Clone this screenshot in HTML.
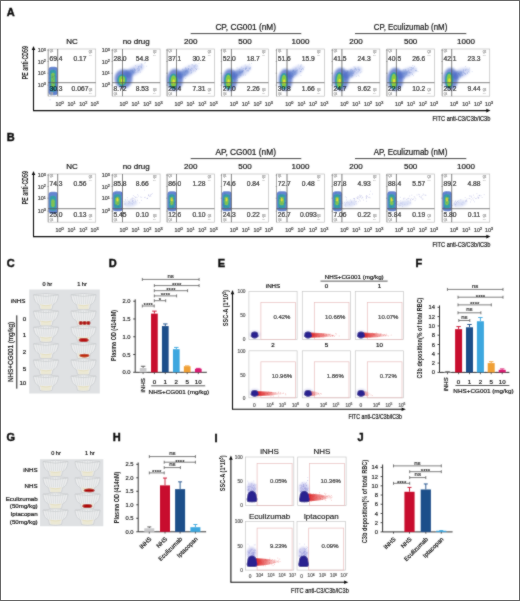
<!DOCTYPE html>
<html><head><meta charset="utf-8"><title>Figure</title>
<style>
html,body{margin:0;padding:0;background:#fff;}
body{width:520px;height:601px;overflow:hidden;font-family:"Liberation Sans", sans-serif;}
svg{display:block;}
</style></head><body>
<svg width="520" height="601" viewBox="0 0 520 601" font-family='"Liberation Sans", sans-serif'><defs>
<radialGradient id="gB" cx="50%" cy="50%" r="50%">
 <stop offset="0" stop-color="#2a5fc0" stop-opacity="0.95"/>
 <stop offset="0.6" stop-color="#4a78d0" stop-opacity="0.7"/>
 <stop offset="1" stop-color="#9ab0e8" stop-opacity="0"/>
</radialGradient>
<radialGradient id="gG" cx="50%" cy="50%" r="50%">
 <stop offset="0" stop-color="#e0e020" stop-opacity="1"/>
 <stop offset="0.35" stop-color="#70c840" stop-opacity="0.95"/>
 <stop offset="0.75" stop-color="#2aa0a0" stop-opacity="0.7"/>
 <stop offset="1" stop-color="#2a80c0" stop-opacity="0"/>
</radialGradient>
<radialGradient id="gL" cx="50%" cy="50%" r="50%">
 <stop offset="0" stop-color="#8098e0" stop-opacity="0.55"/>
 <stop offset="1" stop-color="#b0c0f0" stop-opacity="0"/>
</radialGradient>
<radialGradient id="gN" cx="50%" cy="50%" r="50%">
 <stop offset="0" stop-color="#1a1a80" stop-opacity="1"/>
 <stop offset="0.7" stop-color="#23238f" stop-opacity="0.95"/>
 <stop offset="1" stop-color="#3a3aa0" stop-opacity="0"/>
</radialGradient>
<radialGradient id="gR" cx="50%" cy="50%" r="50%">
 <stop offset="0" stop-color="#e02020" stop-opacity="0.9"/>
 <stop offset="0.6" stop-color="#e84040" stop-opacity="0.6"/>
 <stop offset="1" stop-color="#f08080" stop-opacity="0"/>
</radialGradient>
<radialGradient id="gPel" cx="50%" cy="50%" r="50%">
 <stop offset="0" stop-color="#b01010"/>
 <stop offset="0.8" stop-color="#c02010"/>
 <stop offset="1" stop-color="#d04020" stop-opacity="0.3"/>
</radialGradient>
<filter id="b1" x="-50%" y="-50%" width="200%" height="200%"><feGaussianBlur stdDeviation="1.1"/></filter>
<filter id="b2" x="-50%" y="-50%" width="200%" height="200%"><feGaussianBlur stdDeviation="0.6"/></filter>
<filter id="b3" x="-50%" y="-50%" width="200%" height="200%"><feGaussianBlur stdDeviation="1.8"/></filter>
<clipPath id="cpdummy"><rect x="0" y="0" width="1" height="1"/></clipPath>
<linearGradient id="gRt" x1="0" y1="0" x2="1" y2="0">
 <stop offset="0" stop-color="#d81818" stop-opacity="0.95"/>
 <stop offset="0.45" stop-color="#e43a3a" stop-opacity="0.6"/>
 <stop offset="1" stop-color="#f09090" stop-opacity="0"/>
</linearGradient>
<filter id="gblur" x="0" y="0" width="520" height="601" filterUnits="userSpaceOnUse"><feConvolveMatrix order="3" kernelMatrix="1 2 1 2 20 2 1 2 1" edgeMode="duplicate"/></filter></defs><rect x="0" y="0" width="520" height="601" fill="#fff"/><g filter="url(#gblur)"><text x="6.80" y="16.20" font-size="11" font-weight="bold" fill="#111" stroke="#111" stroke-width="0.45">A</text>
<line x1="33.50" y1="48.90" x2="33.50" y2="110.60" stroke="#111" stroke-width="1.1"/>
<path d="M31.70,50.10 L33.50,45.90 L35.30,50.10 Z" fill="#111"/>
<line x1="33.00" y1="110.60" x2="487.50" y2="110.60" stroke="#111" stroke-width="1.1"/>
<path d="M486.30,108.80 L490.50,110.60 L486.30,112.40 Z" fill="#111"/>
<text transform="translate(25.35,62.60) rotate(-90)" x="0" y="2.95" font-size="8.2" fill="#222" text-anchor="middle" font-weight="bold" textLength="33.2" lengthAdjust="spacingAndGlyphs">PE anti-CD59</text>
<text x="461.40" y="120.72" font-size="7.0" fill="#222" text-anchor="middle" font-weight="normal" textLength="58.0" lengthAdjust="spacingAndGlyphs" stroke="#222" stroke-width="0.22">FITC anti-C3/C3b/iC3b</text>
<line x1="190.70" y1="33.60" x2="301.30" y2="33.60" stroke="#333" stroke-width="0.9"/>
<line x1="355.00" y1="33.60" x2="466.30" y2="33.60" stroke="#333" stroke-width="0.9"/>
<text x="245.70" y="29.55" font-size="8.2" fill="#222" text-anchor="middle" font-weight="normal" textLength="60.6" lengthAdjust="spacingAndGlyphs" stroke="#222" stroke-width="0.22">CP, CG001 (nM)</text>
<text x="410.50" y="29.55" font-size="8.2" fill="#222" text-anchor="middle" font-weight="normal" textLength="73.6" lengthAdjust="spacingAndGlyphs" stroke="#222" stroke-width="0.22">CP, Eculizumab (nM)</text>
<text x="71.95" y="44.08" font-size="8.0" fill="#222" text-anchor="middle" font-weight="normal"  stroke="#222" stroke-width="0.22">NC</text>
<rect x="48.20" y="49.00" width="47.50" height="47.20" fill="#fff" stroke="#bdbdbd" stroke-width="0.7" />
<line x1="48.20" y1="49.00" x2="48.20" y2="96.20" stroke="#999" stroke-width="0.8"/>
<line x1="47.40" y1="50.20" x2="48.80" y2="50.20" stroke="#777" stroke-width="0.6"/>
<line x1="47.40" y1="61.50" x2="48.80" y2="61.50" stroke="#777" stroke-width="0.6"/>
<line x1="47.40" y1="73.20" x2="48.80" y2="73.20" stroke="#777" stroke-width="0.6"/>
<line x1="47.40" y1="85.20" x2="48.80" y2="85.20" stroke="#777" stroke-width="0.6"/>
<rect x="48.60" y="66.70" width="9.10" height="28.50" rx="3" fill="#4a70c8" opacity="0.85" filter="url(#b2)"/>
<rect x="49.80" y="69.70" width="6.30" height="22.00" rx="2.5" fill="#2ea4a0" opacity="0.85" filter="url(#b2)"/>
<rect x="51.20" y="72.70" width="3.50" height="14.00" rx="1.5" fill="#80c848" opacity="0.9" filter="url(#b2)"/>
<path d="M51.8,86.6h0 M49.8,88.9h0 M53.5,79.1h0 M53.3,82.5h0 M49.5,78.3h0 M49.9,81.8h0 M52.6,82.4h0 M51.0,77.5h0 M54.2,89.4h0 M52.4,77.7h0 M57.0,94.0h0 M51.5,84.7h0 M50.4,85.1h0 M55.7,84.8h0 M50.6,72.0h0 M52.2,75.8h0 M53.6,83.0h0 M50.8,81.6h0 M54.6,75.2h0 M53.9,83.4h0 M52.8,76.9h0 M54.8,92.5h0 M51.2,73.1h0 M56.2,76.8h0 M55.0,76.1h0 M50.1,99.7h0 M52.5,80.9h0 M53.1,76.7h0 M49.5,74.8h0 M53.8,70.3h0" stroke="#3050b0" stroke-opacity="0.35" stroke-width="0.90" stroke-linecap="round" fill="none"/>
<line x1="57.70" y1="49.00" x2="57.70" y2="96.20" stroke="#555" stroke-width="0.8"/>
<line x1="48.20" y1="82.70" x2="95.70" y2="82.70" stroke="#555" stroke-width="0.8"/>
<text transform="translate(49.40,61.43) scale(0.92,1)" x="0" y="0" font-size="7.3" fill="#111" text-anchor="start" stroke="#111" stroke-width="0.22">69.4</text>
<text transform="translate(80.00,61.43) scale(0.92,1)" x="0" y="0" font-size="7.3" fill="#111" text-anchor="middle" stroke="#111" stroke-width="0.22">0.17</text>
<text transform="translate(49.40,91.33) scale(0.92,1)" x="0" y="0" font-size="7.3" fill="#111" text-anchor="start" stroke="#111" stroke-width="0.22">30.3</text>
<text transform="translate(80.00,91.33) scale(0.92,1)" x="0" y="0" font-size="7.3" fill="#111" text-anchor="middle" stroke="#111" stroke-width="0.22">0.067</text>
<text x="88.80" y="53.00" font-size="2.6" fill="#999" text-anchor="start" font-weight="normal"  stroke="#999" stroke-width="0.22">Q2</text>
<text x="88.80" y="56.00" font-size="2.6" fill="#aaa" text-anchor="start" font-weight="normal"  stroke="#aaa" stroke-width="0.22">....</text>
<text x="88.80" y="91.00" font-size="2.6" fill="#999" text-anchor="start" font-weight="normal"  stroke="#999" stroke-width="0.22">Q3</text>
<text x="88.80" y="94.00" font-size="2.6" fill="#aaa" text-anchor="start" font-weight="normal"  stroke="#aaa" stroke-width="0.22">....</text>
<text x="49.70" y="52.00" font-size="2.6" fill="#999" text-anchor="start" font-weight="normal"  stroke="#999" stroke-width="0.22">Q1</text>
<text x="49.70" y="94.50" font-size="2.6" fill="#aaa" text-anchor="start" font-weight="normal"  stroke="#aaa" stroke-width="0.22">Q4</text>
<text x="55.50" y="106.14" font-size="5.4" fill="#444" text-anchor="start" stroke="#444" stroke-width="0.22">10<tspan dy="-1.8" font-size="3.78">0</tspan></text>
<text x="67.60" y="106.14" font-size="5.4" fill="#444" text-anchor="start" stroke="#444" stroke-width="0.22">10<tspan dy="-1.8" font-size="3.78">1</tspan></text>
<text x="79.30" y="106.14" font-size="5.4" fill="#444" text-anchor="start" stroke="#444" stroke-width="0.22">10<tspan dy="-1.8" font-size="3.78">2</tspan></text>
<text x="90.50" y="106.14" font-size="5.4" fill="#444" text-anchor="start" stroke="#444" stroke-width="0.22">10<tspan dy="-1.8" font-size="3.78">3</tspan></text>
<text x="45.80" y="87.24" font-size="5.4" fill="#444" text-anchor="end" stroke="#444" stroke-width="0.22">10<tspan dy="-1.8" font-size="3.78">0</tspan></text>
<text x="45.80" y="75.34" font-size="5.4" fill="#444" text-anchor="end" stroke="#444" stroke-width="0.22">10<tspan dy="-1.8" font-size="3.78">1</tspan></text>
<text x="45.80" y="63.54" font-size="5.4" fill="#444" text-anchor="end" stroke="#444" stroke-width="0.22">10<tspan dy="-1.8" font-size="3.78">2</tspan></text>
<text x="45.80" y="52.34" font-size="5.4" fill="#444" text-anchor="end" stroke="#444" stroke-width="0.22">10<tspan dy="-1.8" font-size="3.78">3</tspan></text>
<text x="136.20" y="44.08" font-size="8.0" fill="#222" text-anchor="middle" font-weight="normal"  stroke="#222" stroke-width="0.22">no drug</text>
<rect x="112.30" y="49.00" width="47.80" height="47.20" fill="#fff" stroke="#bdbdbd" stroke-width="0.7" />
<line x1="112.30" y1="49.00" x2="112.30" y2="96.20" stroke="#999" stroke-width="0.8"/>
<line x1="111.50" y1="50.20" x2="112.90" y2="50.20" stroke="#777" stroke-width="0.6"/>
<line x1="111.50" y1="61.50" x2="112.90" y2="61.50" stroke="#777" stroke-width="0.6"/>
<line x1="111.50" y1="73.20" x2="112.90" y2="73.20" stroke="#777" stroke-width="0.6"/>
<line x1="111.50" y1="85.20" x2="112.90" y2="85.20" stroke="#777" stroke-width="0.6"/>
<ellipse cx="132.50" cy="71.70" rx="13.00" ry="4.50" fill="#c4cdf2" opacity="0.8" filter="url(#b1)" transform="rotate(-28.61045966596522 132.50 71.70)"/>
<path d="M138.8,71.0h0 M130.8,70.3h0 M141.2,67.2h0 M137.3,72.0h0 M137.7,70.7h0 M123.6,77.7h0 M120.5,78.0h0 M126.0,78.4h0 M123.1,79.2h0 M141.8,68.9h0 M134.4,69.2h0 M139.3,70.2h0 M131.1,70.5h0 M124.0,78.2h0 M122.2,76.2h0 M127.5,75.7h0 M123.0,72.0h0 M132.3,70.0h0 M138.8,72.2h0 M139.9,66.0h0 M127.3,74.8h0 M134.4,71.4h0 M125.3,78.0h0 M123.1,77.4h0 M122.3,77.5h0 M139.1,66.7h0 M124.1,77.6h0 M126.6,70.8h0 M128.8,73.4h0 M121.8,78.7h0 M139.0,68.7h0 M141.0,66.2h0 M133.9,72.8h0 M144.9,63.2h0 M124.5,76.7h0 M133.8,68.3h0 M127.3,79.2h0 M145.2,62.5h0 M138.4,66.7h0 M130.5,73.1h0 M121.4,79.4h0 M137.2,69.6h0 M146.7,66.2h0 M127.7,76.2h0 M124.9,79.5h0 M141.9,64.9h0 M134.4,69.8h0 M137.3,68.4h0 M135.4,69.6h0 M135.9,72.6h0 M141.1,67.6h0 M141.8,65.1h0 M125.5,81.1h0 M140.4,72.2h0 M141.9,64.1h0 M131.8,72.5h0 M141.2,63.8h0 M137.9,68.7h0 M139.0,70.1h0 M126.1,78.5h0 M124.4,76.2h0 M139.6,69.2h0 M134.1,70.3h0 M138.7,66.9h0 M133.1,72.8h0 M127.5,76.5h0 M120.6,77.1h0 M130.7,74.7h0 M131.9,71.0h0 M131.9,74.0h0 M134.7,69.0h0 M138.7,67.9h0 M130.7,71.3h0 M132.8,71.1h0 M132.8,71.8h0 M141.5,66.9h0 M135.4,70.5h0 M124.7,78.6h0 M122.3,78.2h0 M135.5,65.6h0 M122.8,73.2h0 M127.1,72.5h0 M126.5,75.3h0 M133.9,72.7h0 M121.4,77.8h0 M127.5,76.7h0 M138.4,70.2h0 M130.9,73.8h0 M132.7,71.1h0 M144.3,59.7h0" stroke="#5070c8" stroke-opacity="0.28" stroke-width="0.9" stroke-linecap="round" fill="none"/>
<ellipse cx="128.10" cy="74.10" rx="8.16" ry="3.40" fill="#5a7ccc" opacity="0.7" filter="url(#b1)" transform="rotate(-28.61045966596522 128.10 74.10)"/>
<ellipse cx="123.50" cy="78.70" rx="9.00" ry="9.50" fill="#4868c4" opacity="0.75" filter="url(#b1)"/>
<ellipse cx="122.00" cy="80.20" rx="4.80" ry="6.00" fill="#2ea0a0" opacity="0.9" filter="url(#b2)"/>
<ellipse cx="122.00" cy="80.20" rx="3.00" ry="4.20" fill="#86cc40" opacity="1.0" filter="url(#b2)"/>
<ellipse cx="122.20" cy="80.50" rx="1.20" ry="1.68" fill="#e0e030" opacity="1.0" filter="url(#b2)"/>
<line x1="122.50" y1="49.00" x2="122.50" y2="96.20" stroke="#555" stroke-width="0.8"/>
<line x1="112.30" y1="82.70" x2="160.10" y2="82.70" stroke="#555" stroke-width="0.8"/>
<text transform="translate(113.50,61.43) scale(0.92,1)" x="0" y="0" font-size="7.3" fill="#111" text-anchor="start" stroke="#111" stroke-width="0.22">28.0</text>
<text transform="translate(142.30,61.43) scale(0.92,1)" x="0" y="0" font-size="7.3" fill="#111" text-anchor="middle" stroke="#111" stroke-width="0.22">54.8</text>
<text transform="translate(113.50,91.33) scale(0.92,1)" x="0" y="0" font-size="7.3" fill="#111" text-anchor="start" stroke="#111" stroke-width="0.22">8.72</text>
<text transform="translate(142.30,91.33) scale(0.92,1)" x="0" y="0" font-size="7.3" fill="#111" text-anchor="middle" stroke="#111" stroke-width="0.22">8.53</text>
<text x="152.90" y="53.00" font-size="2.6" fill="#999" text-anchor="start" font-weight="normal"  stroke="#999" stroke-width="0.22">Q2</text>
<text x="152.90" y="56.00" font-size="2.6" fill="#aaa" text-anchor="start" font-weight="normal"  stroke="#aaa" stroke-width="0.22">....</text>
<text x="152.90" y="91.00" font-size="2.6" fill="#999" text-anchor="start" font-weight="normal"  stroke="#999" stroke-width="0.22">Q3</text>
<text x="152.90" y="94.00" font-size="2.6" fill="#aaa" text-anchor="start" font-weight="normal"  stroke="#aaa" stroke-width="0.22">....</text>
<text x="113.80" y="52.00" font-size="2.6" fill="#999" text-anchor="start" font-weight="normal"  stroke="#999" stroke-width="0.22">Q1</text>
<text x="113.80" y="94.50" font-size="2.6" fill="#aaa" text-anchor="start" font-weight="normal"  stroke="#aaa" stroke-width="0.22">Q4</text>
<text x="119.50" y="106.14" font-size="5.4" fill="#444" text-anchor="start" stroke="#444" stroke-width="0.22">10<tspan dy="-1.8" font-size="3.78">0</tspan></text>
<text x="131.60" y="106.14" font-size="5.4" fill="#444" text-anchor="start" stroke="#444" stroke-width="0.22">10<tspan dy="-1.8" font-size="3.78">1</tspan></text>
<text x="143.30" y="106.14" font-size="5.4" fill="#444" text-anchor="start" stroke="#444" stroke-width="0.22">10<tspan dy="-1.8" font-size="3.78">2</tspan></text>
<text x="154.50" y="106.14" font-size="5.4" fill="#444" text-anchor="start" stroke="#444" stroke-width="0.22">10<tspan dy="-1.8" font-size="3.78">3</tspan></text>
<text x="109.90" y="87.24" font-size="5.4" fill="#444" text-anchor="end" stroke="#444" stroke-width="0.22">10<tspan dy="-1.8" font-size="3.78">0</tspan></text>
<text x="109.90" y="75.34" font-size="5.4" fill="#444" text-anchor="end" stroke="#444" stroke-width="0.22">10<tspan dy="-1.8" font-size="3.78">1</tspan></text>
<text x="109.90" y="63.54" font-size="5.4" fill="#444" text-anchor="end" stroke="#444" stroke-width="0.22">10<tspan dy="-1.8" font-size="3.78">2</tspan></text>
<text x="109.90" y="52.34" font-size="5.4" fill="#444" text-anchor="end" stroke="#444" stroke-width="0.22">10<tspan dy="-1.8" font-size="3.78">3</tspan></text>
<text x="190.75" y="44.08" font-size="8.0" fill="#222" text-anchor="middle" font-weight="normal"  stroke="#222" stroke-width="0.22">200</text>
<rect x="167.10" y="49.00" width="47.30" height="47.20" fill="#fff" stroke="#bdbdbd" stroke-width="0.7" />
<line x1="167.10" y1="49.00" x2="167.10" y2="96.20" stroke="#999" stroke-width="0.8"/>
<line x1="166.30" y1="50.20" x2="167.70" y2="50.20" stroke="#777" stroke-width="0.6"/>
<line x1="166.30" y1="61.50" x2="167.70" y2="61.50" stroke="#777" stroke-width="0.6"/>
<line x1="166.30" y1="73.20" x2="167.70" y2="73.20" stroke="#777" stroke-width="0.6"/>
<line x1="166.30" y1="85.20" x2="167.70" y2="85.20" stroke="#777" stroke-width="0.6"/>
<ellipse cx="186.50" cy="71.70" rx="13.00" ry="4.50" fill="#c4cdf2" opacity="0.8" filter="url(#b1)" transform="rotate(-28.61045966596522 186.50 71.70)"/>
<path d="M176.6,77.7h0 M191.3,70.3h0 M185.8,71.4h0 M181.9,80.0h0 M185.8,70.9h0 M175.2,75.1h0 M178.9,76.0h0 M195.4,71.1h0 M177.6,75.3h0 M176.6,73.0h0 M181.2,77.7h0 M179.8,76.7h0 M176.5,79.4h0 M180.3,73.2h0 M185.2,74.8h0 M175.6,78.1h0 M189.0,69.2h0 M184.7,72.7h0 M190.3,69.6h0 M191.0,70.0h0 M190.8,70.1h0 M192.1,65.0h0 M181.9,74.7h0 M180.0,78.6h0 M179.7,76.5h0 M195.1,65.5h0 M179.8,77.4h0 M184.7,75.5h0 M184.6,74.1h0 M185.7,78.5h0 M180.2,75.2h0 M179.5,74.7h0 M178.0,76.2h0 M181.1,76.9h0 M177.5,77.8h0 M176.7,74.4h0 M188.9,66.3h0 M192.7,68.9h0 M199.0,69.0h0 M191.6,72.2h0 M192.2,64.6h0 M193.8,70.8h0 M186.4,69.0h0 M189.0,65.8h0 M188.4,68.8h0 M177.0,79.3h0 M178.0,74.4h0 M185.4,68.6h0 M187.8,73.1h0 M188.1,69.4h0 M191.3,72.3h0 M180.6,76.5h0 M191.0,73.5h0 M194.8,66.2h0 M182.6,69.3h0 M186.7,70.5h0 M177.2,80.7h0 M179.9,75.0h0 M175.7,80.9h0 M188.4,68.5h0 M182.6,73.2h0 M177.9,76.0h0 M197.2,65.9h0 M185.7,67.6h0 M183.1,75.1h0 M196.6,69.6h0 M172.4,75.9h0 M178.1,74.2h0 M193.9,65.8h0 M194.2,67.3h0 M173.3,77.8h0 M181.3,76.9h0 M180.5,74.9h0 M191.2,68.4h0 M194.4,61.8h0 M178.5,77.0h0 M195.9,64.5h0 M182.7,74.5h0 M177.5,75.4h0 M195.7,68.6h0 M185.4,74.8h0 M199.0,63.5h0 M191.7,68.2h0 M185.5,71.4h0 M187.0,70.9h0 M187.8,71.7h0 M197.0,68.8h0 M180.0,78.5h0 M196.6,69.6h0 M178.2,74.3h0" stroke="#5070c8" stroke-opacity="0.28" stroke-width="0.9" stroke-linecap="round" fill="none"/>
<ellipse cx="182.10" cy="74.10" rx="8.16" ry="3.40" fill="#5a7ccc" opacity="0.7" filter="url(#b1)" transform="rotate(-28.61045966596522 182.10 74.10)"/>
<ellipse cx="175.00" cy="79.70" rx="8.00" ry="11.00" fill="#4868c4" opacity="0.75" filter="url(#b1)"/>
<ellipse cx="173.50" cy="81.20" rx="4.60" ry="7.80" fill="#2ea0a0" opacity="0.9" filter="url(#b2)"/>
<ellipse cx="173.50" cy="81.20" rx="2.80" ry="6.00" fill="#86cc40" opacity="1.0" filter="url(#b2)"/>
<ellipse cx="173.70" cy="81.50" rx="1.20" ry="2.20" fill="#e0e030" opacity="1.0" filter="url(#b2)"/>
<line x1="176.50" y1="49.00" x2="176.50" y2="96.20" stroke="#555" stroke-width="0.8"/>
<line x1="167.10" y1="82.70" x2="214.40" y2="82.70" stroke="#555" stroke-width="0.8"/>
<text transform="translate(168.30,61.43) scale(0.92,1)" x="0" y="0" font-size="7.3" fill="#111" text-anchor="start" stroke="#111" stroke-width="0.22">37.1</text>
<text transform="translate(198.90,61.43) scale(0.92,1)" x="0" y="0" font-size="7.3" fill="#111" text-anchor="middle" stroke="#111" stroke-width="0.22">30.2</text>
<text transform="translate(168.30,91.33) scale(0.92,1)" x="0" y="0" font-size="7.3" fill="#111" text-anchor="start" stroke="#111" stroke-width="0.22">25.4</text>
<text transform="translate(198.90,91.33) scale(0.92,1)" x="0" y="0" font-size="7.3" fill="#111" text-anchor="middle" stroke="#111" stroke-width="0.22">7.31</text>
<text x="207.70" y="53.00" font-size="2.6" fill="#999" text-anchor="start" font-weight="normal"  stroke="#999" stroke-width="0.22">Q2</text>
<text x="207.70" y="56.00" font-size="2.6" fill="#aaa" text-anchor="start" font-weight="normal"  stroke="#aaa" stroke-width="0.22">....</text>
<text x="207.70" y="91.00" font-size="2.6" fill="#999" text-anchor="start" font-weight="normal"  stroke="#999" stroke-width="0.22">Q3</text>
<text x="207.70" y="94.00" font-size="2.6" fill="#aaa" text-anchor="start" font-weight="normal"  stroke="#aaa" stroke-width="0.22">....</text>
<text x="168.60" y="52.00" font-size="2.6" fill="#999" text-anchor="start" font-weight="normal"  stroke="#999" stroke-width="0.22">Q1</text>
<text x="168.60" y="94.50" font-size="2.6" fill="#aaa" text-anchor="start" font-weight="normal"  stroke="#aaa" stroke-width="0.22">Q4</text>
<text x="174.40" y="106.14" font-size="5.4" fill="#444" text-anchor="start" stroke="#444" stroke-width="0.22">10<tspan dy="-1.8" font-size="3.78">0</tspan></text>
<text x="186.50" y="106.14" font-size="5.4" fill="#444" text-anchor="start" stroke="#444" stroke-width="0.22">10<tspan dy="-1.8" font-size="3.78">1</tspan></text>
<text x="198.20" y="106.14" font-size="5.4" fill="#444" text-anchor="start" stroke="#444" stroke-width="0.22">10<tspan dy="-1.8" font-size="3.78">2</tspan></text>
<text x="209.40" y="106.14" font-size="5.4" fill="#444" text-anchor="start" stroke="#444" stroke-width="0.22">10<tspan dy="-1.8" font-size="3.78">3</tspan></text>
<text x="244.95" y="44.08" font-size="8.0" fill="#222" text-anchor="middle" font-weight="normal"  stroke="#222" stroke-width="0.22">500</text>
<rect x="221.50" y="49.00" width="46.90" height="47.20" fill="#fff" stroke="#bdbdbd" stroke-width="0.7" />
<line x1="221.50" y1="49.00" x2="221.50" y2="96.20" stroke="#999" stroke-width="0.8"/>
<line x1="220.70" y1="50.20" x2="222.10" y2="50.20" stroke="#777" stroke-width="0.6"/>
<line x1="220.70" y1="61.50" x2="222.10" y2="61.50" stroke="#777" stroke-width="0.6"/>
<line x1="220.70" y1="73.20" x2="222.10" y2="73.20" stroke="#777" stroke-width="0.6"/>
<line x1="220.70" y1="85.20" x2="222.10" y2="85.20" stroke="#777" stroke-width="0.6"/>
<ellipse cx="240.40" cy="72.20" rx="12.00" ry="4.50" fill="#c4cdf2" opacity="0.8" filter="url(#b1)" transform="rotate(-28.810793742973058 240.40 72.20)"/>
<path d="M233.1,78.0h0 M246.6,68.1h0 M250.2,68.0h0 M232.3,77.8h0 M236.6,75.9h0 M230.1,73.7h0 M242.4,71.4h0 M237.7,74.5h0 M230.0,83.6h0 M228.9,76.9h0 M247.2,70.5h0 M231.9,77.4h0 M251.6,63.4h0 M233.6,78.4h0 M245.1,68.7h0 M226.8,81.2h0 M249.3,64.1h0 M234.6,76.8h0 M237.0,67.8h0 M241.4,67.2h0 M237.1,73.5h0 M245.4,75.1h0 M241.4,72.7h0 M231.7,73.1h0 M233.8,78.3h0 M239.2,73.4h0 M242.4,72.2h0 M240.5,72.8h0 M246.0,68.6h0 M236.7,75.0h0 M237.0,75.7h0 M241.0,72.0h0 M243.5,70.4h0 M229.5,79.7h0 M243.7,75.1h0 M242.5,70.2h0 M248.2,71.2h0 M234.0,80.1h0 M236.7,74.6h0 M233.0,78.9h0 M243.2,70.8h0 M237.6,80.7h0 M232.6,77.1h0 M239.7,71.5h0 M248.4,70.3h0 M237.0,80.3h0 M247.0,70.9h0 M234.8,76.1h0 M234.0,76.6h0 M236.5,74.5h0 M250.0,69.4h0 M246.8,66.9h0 M228.9,77.9h0 M249.0,70.0h0 M249.8,68.6h0 M245.7,68.6h0 M234.8,79.6h0 M233.7,70.7h0 M234.6,81.0h0 M240.8,75.6h0 M234.9,75.4h0 M246.7,68.4h0 M250.4,67.8h0 M242.8,71.9h0 M236.2,77.0h0 M239.5,72.6h0 M245.2,65.0h0 M243.3,68.5h0 M232.7,78.4h0 M232.2,81.1h0 M234.1,76.2h0 M237.1,78.6h0 M249.0,68.2h0 M233.1,78.9h0 M241.8,71.2h0 M234.6,71.7h0 M245.8,67.3h0 M232.6,75.3h0 M237.7,75.3h0 M232.9,78.2h0 M234.1,74.6h0 M230.1,79.7h0 M239.1,77.5h0 M242.8,71.3h0 M239.6,69.4h0 M249.8,68.4h0 M233.7,83.0h0 M242.1,71.3h0 M245.5,69.2h0 M245.7,69.4h0" stroke="#5070c8" stroke-opacity="0.28" stroke-width="0.9" stroke-linecap="round" fill="none"/>
<ellipse cx="236.40" cy="74.40" rx="7.60" ry="3.40" fill="#5a7ccc" opacity="0.7" filter="url(#b1)" transform="rotate(-28.810793742973058 236.40 74.40)"/>
<ellipse cx="229.90" cy="79.70" rx="7.50" ry="11.00" fill="#4868c4" opacity="0.75" filter="url(#b1)"/>
<ellipse cx="228.40" cy="81.20" rx="4.40" ry="8.30" fill="#2ea0a0" opacity="0.9" filter="url(#b2)"/>
<ellipse cx="228.40" cy="81.20" rx="2.60" ry="6.50" fill="#86cc40" opacity="1.0" filter="url(#b2)"/>
<ellipse cx="228.60" cy="81.50" rx="1.20" ry="2.20" fill="#e0e030" opacity="1.0" filter="url(#b2)"/>
<line x1="231.40" y1="49.00" x2="231.40" y2="96.20" stroke="#555" stroke-width="0.8"/>
<line x1="221.50" y1="82.70" x2="268.40" y2="82.70" stroke="#555" stroke-width="0.8"/>
<text transform="translate(222.70,61.43) scale(0.92,1)" x="0" y="0" font-size="7.3" fill="#111" text-anchor="start" stroke="#111" stroke-width="0.22">52.0</text>
<text transform="translate(253.30,61.43) scale(0.92,1)" x="0" y="0" font-size="7.3" fill="#111" text-anchor="middle" stroke="#111" stroke-width="0.22">18.7</text>
<text transform="translate(222.70,91.33) scale(0.92,1)" x="0" y="0" font-size="7.3" fill="#111" text-anchor="start" stroke="#111" stroke-width="0.22">27.0</text>
<text transform="translate(253.30,91.33) scale(0.92,1)" x="0" y="0" font-size="7.3" fill="#111" text-anchor="middle" stroke="#111" stroke-width="0.22">2.26</text>
<text x="262.10" y="53.00" font-size="2.6" fill="#999" text-anchor="start" font-weight="normal"  stroke="#999" stroke-width="0.22">Q2</text>
<text x="262.10" y="56.00" font-size="2.6" fill="#aaa" text-anchor="start" font-weight="normal"  stroke="#aaa" stroke-width="0.22">....</text>
<text x="262.10" y="91.00" font-size="2.6" fill="#999" text-anchor="start" font-weight="normal"  stroke="#999" stroke-width="0.22">Q3</text>
<text x="262.10" y="94.00" font-size="2.6" fill="#aaa" text-anchor="start" font-weight="normal"  stroke="#aaa" stroke-width="0.22">....</text>
<text x="223.00" y="52.00" font-size="2.6" fill="#999" text-anchor="start" font-weight="normal"  stroke="#999" stroke-width="0.22">Q1</text>
<text x="223.00" y="94.50" font-size="2.6" fill="#aaa" text-anchor="start" font-weight="normal"  stroke="#aaa" stroke-width="0.22">Q4</text>
<text x="229.70" y="106.14" font-size="5.4" fill="#444" text-anchor="start" stroke="#444" stroke-width="0.22">10<tspan dy="-1.8" font-size="3.78">0</tspan></text>
<text x="241.80" y="106.14" font-size="5.4" fill="#444" text-anchor="start" stroke="#444" stroke-width="0.22">10<tspan dy="-1.8" font-size="3.78">1</tspan></text>
<text x="253.50" y="106.14" font-size="5.4" fill="#444" text-anchor="start" stroke="#444" stroke-width="0.22">10<tspan dy="-1.8" font-size="3.78">2</tspan></text>
<text x="264.70" y="106.14" font-size="5.4" fill="#444" text-anchor="start" stroke="#444" stroke-width="0.22">10<tspan dy="-1.8" font-size="3.78">3</tspan></text>
<text x="300.45" y="44.08" font-size="8.0" fill="#222" text-anchor="middle" font-weight="normal"  stroke="#222" stroke-width="0.22">1000</text>
<rect x="276.50" y="49.00" width="47.90" height="47.20" fill="#fff" stroke="#bdbdbd" stroke-width="0.7" />
<line x1="276.50" y1="49.00" x2="276.50" y2="96.20" stroke="#999" stroke-width="0.8"/>
<line x1="275.70" y1="50.20" x2="277.10" y2="50.20" stroke="#777" stroke-width="0.6"/>
<line x1="275.70" y1="61.50" x2="277.10" y2="61.50" stroke="#777" stroke-width="0.6"/>
<line x1="275.70" y1="73.20" x2="277.10" y2="73.20" stroke="#777" stroke-width="0.6"/>
<line x1="275.70" y1="85.20" x2="277.10" y2="85.20" stroke="#777" stroke-width="0.6"/>
<ellipse cx="294.50" cy="72.20" rx="10.50" ry="4.50" fill="#c4cdf2" opacity="0.8" filter="url(#b1)" transform="rotate(-32.9052429229879 294.50 72.20)"/>
<path d="M293.7,70.9h0 M291.5,76.0h0 M286.5,73.8h0 M289.9,76.5h0 M296.9,73.0h0 M288.9,73.4h0 M288.1,78.8h0 M293.3,71.8h0 M286.9,74.3h0 M287.5,81.1h0 M288.0,74.4h0 M295.9,68.1h0 M291.6,78.4h0 M292.5,76.5h0 M292.4,71.9h0 M299.3,68.7h0 M283.4,76.6h0 M303.4,69.7h0 M289.6,74.6h0 M284.8,74.8h0 M283.3,77.3h0 M302.6,68.4h0 M304.0,67.1h0 M288.1,76.4h0 M298.2,65.0h0 M287.9,75.0h0 M293.4,70.6h0 M288.3,78.9h0 M292.5,73.8h0 M288.1,70.9h0 M283.2,76.0h0 M286.8,76.5h0 M292.1,71.0h0 M287.3,76.9h0 M290.4,71.9h0 M294.6,74.4h0 M293.0,77.4h0 M297.1,70.1h0 M293.2,74.3h0 M293.5,75.4h0 M295.8,74.0h0 M286.3,73.1h0 M295.3,74.0h0 M291.8,74.2h0 M303.2,68.6h0 M301.0,75.6h0 M297.0,71.9h0 M288.7,71.3h0 M284.5,80.6h0 M288.8,75.5h0 M300.5,71.5h0 M301.7,69.6h0 M292.8,73.8h0 M290.3,81.3h0 M297.3,70.1h0 M300.3,71.6h0 M292.9,75.3h0 M290.3,70.2h0 M289.7,77.0h0 M291.5,72.6h0 M301.1,65.8h0 M296.8,70.5h0 M301.1,71.5h0 M285.2,70.6h0 M293.6,70.4h0 M287.1,78.0h0 M292.9,73.0h0 M301.7,69.4h0 M295.9,71.4h0 M291.9,76.2h0 M286.1,74.5h0 M286.5,74.4h0 M288.6,76.2h0 M289.8,78.7h0 M300.6,66.1h0 M291.9,76.0h0 M292.3,75.3h0 M294.9,72.4h0 M289.3,75.5h0 M292.3,73.8h0 M286.5,77.1h0 M294.9,72.1h0 M286.2,74.6h0 M296.0,70.2h0 M289.5,76.0h0 M301.2,64.5h0 M287.9,74.4h0 M292.2,71.0h0 M289.6,77.2h0 M284.5,81.0h0" stroke="#5070c8" stroke-opacity="0.28" stroke-width="0.9" stroke-linecap="round" fill="none"/>
<ellipse cx="291.10" cy="74.40" rx="6.76" ry="3.40" fill="#5a7ccc" opacity="0.7" filter="url(#b1)" transform="rotate(-32.9052429229879 291.10 74.40)"/>
<ellipse cx="285.50" cy="79.70" rx="7.00" ry="11.00" fill="#4868c4" opacity="0.75" filter="url(#b1)"/>
<ellipse cx="284.00" cy="81.20" rx="4.20" ry="8.30" fill="#2ea0a0" opacity="0.9" filter="url(#b2)"/>
<ellipse cx="284.00" cy="81.20" rx="2.40" ry="6.50" fill="#86cc40" opacity="1.0" filter="url(#b2)"/>
<ellipse cx="284.20" cy="81.50" rx="1.20" ry="2.20" fill="#e0e030" opacity="1.0" filter="url(#b2)"/>
<line x1="287.00" y1="49.00" x2="287.00" y2="96.20" stroke="#555" stroke-width="0.8"/>
<line x1="276.50" y1="82.70" x2="324.40" y2="82.70" stroke="#555" stroke-width="0.8"/>
<text transform="translate(277.70,61.43) scale(0.92,1)" x="0" y="0" font-size="7.3" fill="#111" text-anchor="start" stroke="#111" stroke-width="0.22">51.6</text>
<text transform="translate(308.30,61.43) scale(0.92,1)" x="0" y="0" font-size="7.3" fill="#111" text-anchor="middle" stroke="#111" stroke-width="0.22">15.9</text>
<text transform="translate(277.70,91.33) scale(0.92,1)" x="0" y="0" font-size="7.3" fill="#111" text-anchor="start" stroke="#111" stroke-width="0.22">30.8</text>
<text transform="translate(308.30,91.33) scale(0.92,1)" x="0" y="0" font-size="7.3" fill="#111" text-anchor="middle" stroke="#111" stroke-width="0.22">1.66</text>
<text x="317.10" y="53.00" font-size="2.6" fill="#999" text-anchor="start" font-weight="normal"  stroke="#999" stroke-width="0.22">Q2</text>
<text x="317.10" y="56.00" font-size="2.6" fill="#aaa" text-anchor="start" font-weight="normal"  stroke="#aaa" stroke-width="0.22">....</text>
<text x="317.10" y="91.00" font-size="2.6" fill="#999" text-anchor="start" font-weight="normal"  stroke="#999" stroke-width="0.22">Q3</text>
<text x="317.10" y="94.00" font-size="2.6" fill="#aaa" text-anchor="start" font-weight="normal"  stroke="#aaa" stroke-width="0.22">....</text>
<text x="278.00" y="52.00" font-size="2.6" fill="#999" text-anchor="start" font-weight="normal"  stroke="#999" stroke-width="0.22">Q1</text>
<text x="278.00" y="94.50" font-size="2.6" fill="#aaa" text-anchor="start" font-weight="normal"  stroke="#aaa" stroke-width="0.22">Q4</text>
<text x="285.30" y="106.14" font-size="5.4" fill="#444" text-anchor="start" stroke="#444" stroke-width="0.22">10<tspan dy="-1.8" font-size="3.78">0</tspan></text>
<text x="297.40" y="106.14" font-size="5.4" fill="#444" text-anchor="start" stroke="#444" stroke-width="0.22">10<tspan dy="-1.8" font-size="3.78">1</tspan></text>
<text x="309.10" y="106.14" font-size="5.4" fill="#444" text-anchor="start" stroke="#444" stroke-width="0.22">10<tspan dy="-1.8" font-size="3.78">2</tspan></text>
<text x="320.30" y="106.14" font-size="5.4" fill="#444" text-anchor="start" stroke="#444" stroke-width="0.22">10<tspan dy="-1.8" font-size="3.78">3</tspan></text>
<text x="356.05" y="44.08" font-size="8.0" fill="#222" text-anchor="middle" font-weight="normal"  stroke="#222" stroke-width="0.22">200</text>
<rect x="332.30" y="49.00" width="47.50" height="47.20" fill="#fff" stroke="#bdbdbd" stroke-width="0.7" />
<line x1="332.30" y1="49.00" x2="332.30" y2="96.20" stroke="#999" stroke-width="0.8"/>
<line x1="331.50" y1="50.20" x2="332.90" y2="50.20" stroke="#777" stroke-width="0.6"/>
<line x1="331.50" y1="61.50" x2="332.90" y2="61.50" stroke="#777" stroke-width="0.6"/>
<line x1="331.50" y1="73.20" x2="332.90" y2="73.20" stroke="#777" stroke-width="0.6"/>
<line x1="331.50" y1="85.20" x2="332.90" y2="85.20" stroke="#777" stroke-width="0.6"/>
<ellipse cx="350.90" cy="73.20" rx="12.00" ry="4.50" fill="#c4cdf2" opacity="0.8" filter="url(#b1)" transform="rotate(-24.22774531795417 350.90 73.20)"/>
<path d="M355.1,69.0h0 M342.5,75.2h0 M354.0,70.8h0 M353.5,72.3h0 M359.4,70.3h0 M343.8,70.6h0 M352.7,75.9h0 M345.9,80.8h0 M350.8,69.4h0 M356.6,69.8h0 M354.8,70.1h0 M352.5,70.9h0 M343.0,75.8h0 M358.9,70.2h0 M343.6,76.3h0 M343.1,77.1h0 M351.2,69.4h0 M356.8,72.9h0 M347.8,71.2h0 M361.8,71.9h0 M359.6,69.3h0 M343.9,77.0h0 M358.1,67.3h0 M355.4,69.2h0 M344.7,79.6h0 M342.6,78.8h0 M341.0,79.6h0 M352.7,73.4h0 M356.1,69.0h0 M353.6,73.4h0 M348.0,72.4h0 M352.2,71.6h0 M360.5,72.7h0 M344.2,76.8h0 M355.1,71.3h0 M345.3,74.4h0 M341.3,76.8h0 M356.3,76.4h0 M345.5,79.6h0 M351.2,76.2h0 M342.4,73.8h0 M354.2,69.5h0 M343.7,78.1h0 M342.1,77.0h0 M343.1,81.7h0 M346.0,77.5h0 M341.5,77.1h0 M354.8,68.0h0 M345.4,76.6h0 M355.2,67.1h0 M339.7,78.4h0 M352.3,75.2h0 M358.1,71.6h0 M344.0,71.4h0 M343.5,78.4h0 M344.4,75.4h0 M347.6,81.6h0 M358.3,75.4h0 M337.6,81.8h0 M355.5,68.5h0 M342.7,75.7h0 M343.1,76.9h0 M347.7,71.4h0 M347.5,72.1h0 M340.9,75.5h0 M356.2,70.2h0 M350.6,70.8h0 M343.1,71.5h0 M354.0,66.8h0 M351.6,70.2h0 M344.7,74.9h0 M348.0,71.1h0 M351.9,75.3h0 M346.6,72.8h0 M354.1,71.7h0 M352.8,70.2h0 M349.4,74.0h0 M351.8,77.2h0 M358.5,69.3h0 M347.6,72.3h0 M346.9,70.5h0 M345.4,77.0h0 M342.7,74.3h0 M359.1,76.2h0 M347.6,76.0h0 M349.0,75.2h0 M346.8,72.7h0 M345.0,80.0h0 M358.0,69.1h0 M354.8,72.0h0" stroke="#5070c8" stroke-opacity="0.28" stroke-width="0.9" stroke-linecap="round" fill="none"/>
<ellipse cx="346.90" cy="75.00" rx="7.60" ry="3.40" fill="#5a7ccc" opacity="0.7" filter="url(#b1)" transform="rotate(-24.22774531795417 346.90 75.00)"/>
<ellipse cx="340.90" cy="79.20" rx="8.00" ry="11.50" fill="#4868c4" opacity="0.75" filter="url(#b1)"/>
<ellipse cx="339.40" cy="80.70" rx="4.40" ry="8.80" fill="#2ea0a0" opacity="0.9" filter="url(#b2)"/>
<ellipse cx="339.40" cy="80.70" rx="2.60" ry="7.00" fill="#86cc40" opacity="1.0" filter="url(#b2)"/>
<ellipse cx="339.60" cy="81.00" rx="1.20" ry="2.20" fill="#e0e030" opacity="1.0" filter="url(#b2)"/>
<line x1="341.90" y1="49.00" x2="341.90" y2="96.20" stroke="#555" stroke-width="0.8"/>
<line x1="332.30" y1="82.70" x2="379.80" y2="82.70" stroke="#555" stroke-width="0.8"/>
<text transform="translate(333.50,61.43) scale(0.92,1)" x="0" y="0" font-size="7.3" fill="#111" text-anchor="start" stroke="#111" stroke-width="0.22">41.5</text>
<text transform="translate(364.10,61.43) scale(0.92,1)" x="0" y="0" font-size="7.3" fill="#111" text-anchor="middle" stroke="#111" stroke-width="0.22">24.3</text>
<text transform="translate(333.50,91.33) scale(0.92,1)" x="0" y="0" font-size="7.3" fill="#111" text-anchor="start" stroke="#111" stroke-width="0.22">24.7</text>
<text transform="translate(364.10,91.33) scale(0.92,1)" x="0" y="0" font-size="7.3" fill="#111" text-anchor="middle" stroke="#111" stroke-width="0.22">9.62</text>
<text x="372.90" y="53.00" font-size="2.6" fill="#999" text-anchor="start" font-weight="normal"  stroke="#999" stroke-width="0.22">Q2</text>
<text x="372.90" y="56.00" font-size="2.6" fill="#aaa" text-anchor="start" font-weight="normal"  stroke="#aaa" stroke-width="0.22">....</text>
<text x="372.90" y="91.00" font-size="2.6" fill="#999" text-anchor="start" font-weight="normal"  stroke="#999" stroke-width="0.22">Q3</text>
<text x="372.90" y="94.00" font-size="2.6" fill="#aaa" text-anchor="start" font-weight="normal"  stroke="#aaa" stroke-width="0.22">....</text>
<text x="333.80" y="52.00" font-size="2.6" fill="#999" text-anchor="start" font-weight="normal"  stroke="#999" stroke-width="0.22">Q1</text>
<text x="333.80" y="94.50" font-size="2.6" fill="#aaa" text-anchor="start" font-weight="normal"  stroke="#aaa" stroke-width="0.22">Q4</text>
<text x="340.20" y="106.14" font-size="5.4" fill="#444" text-anchor="start" stroke="#444" stroke-width="0.22">10<tspan dy="-1.8" font-size="3.78">0</tspan></text>
<text x="352.30" y="106.14" font-size="5.4" fill="#444" text-anchor="start" stroke="#444" stroke-width="0.22">10<tspan dy="-1.8" font-size="3.78">1</tspan></text>
<text x="364.00" y="106.14" font-size="5.4" fill="#444" text-anchor="start" stroke="#444" stroke-width="0.22">10<tspan dy="-1.8" font-size="3.78">2</tspan></text>
<text x="375.20" y="106.14" font-size="5.4" fill="#444" text-anchor="start" stroke="#444" stroke-width="0.22">10<tspan dy="-1.8" font-size="3.78">3</tspan></text>
<text x="410.65" y="44.08" font-size="8.0" fill="#222" text-anchor="middle" font-weight="normal"  stroke="#222" stroke-width="0.22">500</text>
<rect x="386.90" y="49.00" width="47.50" height="47.20" fill="#fff" stroke="#bdbdbd" stroke-width="0.7" />
<line x1="386.90" y1="49.00" x2="386.90" y2="96.20" stroke="#999" stroke-width="0.8"/>
<line x1="386.10" y1="50.20" x2="387.50" y2="50.20" stroke="#777" stroke-width="0.6"/>
<line x1="386.10" y1="61.50" x2="387.50" y2="61.50" stroke="#777" stroke-width="0.6"/>
<line x1="386.10" y1="73.20" x2="387.50" y2="73.20" stroke="#777" stroke-width="0.6"/>
<line x1="386.10" y1="85.20" x2="387.50" y2="85.20" stroke="#777" stroke-width="0.6"/>
<ellipse cx="405.40" cy="73.20" rx="12.00" ry="4.50" fill="#c4cdf2" opacity="0.8" filter="url(#b1)" transform="rotate(-24.22774531795417 405.40 73.20)"/>
<path d="M397.4,72.8h0 M403.9,73.3h0 M400.1,75.9h0 M408.1,68.7h0 M402.2,77.3h0 M397.7,75.2h0 M411.4,72.7h0 M397.6,76.9h0 M395.1,75.8h0 M397.9,78.9h0 M400.1,72.0h0 M404.3,73.3h0 M397.9,72.9h0 M412.4,74.6h0 M406.7,72.8h0 M413.3,67.7h0 M397.3,78.6h0 M409.1,72.4h0 M413.3,68.4h0 M409.9,67.3h0 M410.0,69.8h0 M412.3,74.0h0 M404.1,71.2h0 M410.9,69.4h0 M399.9,78.5h0 M394.8,77.8h0 M400.9,74.2h0 M415.7,70.5h0 M400.1,73.0h0 M409.9,72.3h0 M416.9,70.7h0 M409.2,73.3h0 M409.2,71.3h0 M412.6,68.7h0 M415.9,70.7h0 M404.2,76.9h0 M398.4,75.7h0 M410.2,73.8h0 M398.4,73.3h0 M400.4,73.7h0 M403.3,76.8h0 M412.8,65.5h0 M399.5,77.4h0 M403.1,70.1h0 M395.0,72.6h0 M406.1,74.2h0 M397.1,82.7h0 M404.0,69.4h0 M411.0,67.6h0 M405.4,69.7h0 M408.2,75.7h0 M402.7,73.3h0 M400.9,77.7h0 M412.1,67.8h0 M411.5,67.7h0 M398.2,78.5h0 M397.3,77.1h0 M416.1,70.5h0 M398.4,80.5h0 M407.0,72.0h0 M393.4,79.8h0 M416.1,69.1h0 M404.0,76.9h0 M398.3,76.8h0 M395.0,76.6h0 M418.0,71.6h0 M400.0,77.5h0 M398.4,74.7h0 M396.3,73.8h0 M411.6,69.4h0 M405.8,70.2h0 M413.5,75.7h0 M408.7,71.9h0 M407.2,71.7h0 M399.6,74.3h0 M411.2,70.4h0 M398.9,74.1h0 M409.6,75.7h0 M399.0,72.6h0 M399.2,77.6h0 M414.5,66.3h0 M404.5,78.3h0 M408.9,70.1h0 M409.6,72.4h0 M405.0,75.4h0 M410.4,72.5h0 M408.6,70.4h0 M400.8,76.0h0 M398.8,72.5h0 M416.2,71.2h0" stroke="#5070c8" stroke-opacity="0.28" stroke-width="0.9" stroke-linecap="round" fill="none"/>
<ellipse cx="401.40" cy="75.00" rx="7.60" ry="3.40" fill="#5a7ccc" opacity="0.7" filter="url(#b1)" transform="rotate(-24.22774531795417 401.40 75.00)"/>
<ellipse cx="395.40" cy="79.20" rx="8.00" ry="11.50" fill="#4868c4" opacity="0.75" filter="url(#b1)"/>
<ellipse cx="393.90" cy="80.70" rx="4.40" ry="8.80" fill="#2ea0a0" opacity="0.9" filter="url(#b2)"/>
<ellipse cx="393.90" cy="80.70" rx="2.60" ry="7.00" fill="#86cc40" opacity="1.0" filter="url(#b2)"/>
<ellipse cx="394.10" cy="81.00" rx="1.20" ry="2.20" fill="#e0e030" opacity="1.0" filter="url(#b2)"/>
<line x1="396.40" y1="49.00" x2="396.40" y2="96.20" stroke="#555" stroke-width="0.8"/>
<line x1="386.90" y1="82.70" x2="434.40" y2="82.70" stroke="#555" stroke-width="0.8"/>
<text transform="translate(388.10,61.43) scale(0.92,1)" x="0" y="0" font-size="7.3" fill="#111" text-anchor="start" stroke="#111" stroke-width="0.22">40.5</text>
<text transform="translate(418.70,61.43) scale(0.92,1)" x="0" y="0" font-size="7.3" fill="#111" text-anchor="middle" stroke="#111" stroke-width="0.22">26.6</text>
<text transform="translate(388.10,91.33) scale(0.92,1)" x="0" y="0" font-size="7.3" fill="#111" text-anchor="start" stroke="#111" stroke-width="0.22">22.8</text>
<text transform="translate(418.70,91.33) scale(0.92,1)" x="0" y="0" font-size="7.3" fill="#111" text-anchor="middle" stroke="#111" stroke-width="0.22">10.2</text>
<text x="427.50" y="53.00" font-size="2.6" fill="#999" text-anchor="start" font-weight="normal"  stroke="#999" stroke-width="0.22">Q2</text>
<text x="427.50" y="56.00" font-size="2.6" fill="#aaa" text-anchor="start" font-weight="normal"  stroke="#aaa" stroke-width="0.22">....</text>
<text x="427.50" y="91.00" font-size="2.6" fill="#999" text-anchor="start" font-weight="normal"  stroke="#999" stroke-width="0.22">Q3</text>
<text x="427.50" y="94.00" font-size="2.6" fill="#aaa" text-anchor="start" font-weight="normal"  stroke="#aaa" stroke-width="0.22">....</text>
<text x="388.40" y="52.00" font-size="2.6" fill="#999" text-anchor="start" font-weight="normal"  stroke="#999" stroke-width="0.22">Q1</text>
<text x="388.40" y="94.50" font-size="2.6" fill="#aaa" text-anchor="start" font-weight="normal"  stroke="#aaa" stroke-width="0.22">Q4</text>
<text x="394.90" y="106.14" font-size="5.4" fill="#444" text-anchor="start" stroke="#444" stroke-width="0.22">10<tspan dy="-1.8" font-size="3.78">0</tspan></text>
<text x="407.00" y="106.14" font-size="5.4" fill="#444" text-anchor="start" stroke="#444" stroke-width="0.22">10<tspan dy="-1.8" font-size="3.78">1</tspan></text>
<text x="418.70" y="106.14" font-size="5.4" fill="#444" text-anchor="start" stroke="#444" stroke-width="0.22">10<tspan dy="-1.8" font-size="3.78">2</tspan></text>
<text x="429.90" y="106.14" font-size="5.4" fill="#444" text-anchor="start" stroke="#444" stroke-width="0.22">10<tspan dy="-1.8" font-size="3.78">3</tspan></text>
<text x="465.95" y="44.08" font-size="8.0" fill="#222" text-anchor="middle" font-weight="normal"  stroke="#222" stroke-width="0.22">1000</text>
<rect x="442.20" y="49.00" width="47.50" height="47.20" fill="#fff" stroke="#bdbdbd" stroke-width="0.7" />
<line x1="442.20" y1="49.00" x2="442.20" y2="96.20" stroke="#999" stroke-width="0.8"/>
<line x1="441.40" y1="50.20" x2="442.80" y2="50.20" stroke="#777" stroke-width="0.6"/>
<line x1="441.40" y1="61.50" x2="442.80" y2="61.50" stroke="#777" stroke-width="0.6"/>
<line x1="441.40" y1="73.20" x2="442.80" y2="73.20" stroke="#777" stroke-width="0.6"/>
<line x1="441.40" y1="85.20" x2="442.80" y2="85.20" stroke="#777" stroke-width="0.6"/>
<ellipse cx="459.70" cy="73.70" rx="11.00" ry="4.50" fill="#c4cdf2" opacity="0.8" filter="url(#b1)" transform="rotate(-23.962488974578186 459.70 73.70)"/>
<path d="M466.2,69.3h0 M456.2,72.7h0 M463.3,71.7h0 M448.1,76.0h0 M452.9,71.1h0 M451.1,74.2h0 M457.8,76.5h0 M463.7,69.6h0 M452.7,73.5h0 M449.7,74.0h0 M463.8,70.5h0 M460.2,75.1h0 M452.1,74.7h0 M457.3,75.6h0 M458.8,79.3h0 M457.9,77.6h0 M465.4,74.5h0 M454.8,75.6h0 M454.9,77.3h0 M456.3,73.8h0 M459.4,74.5h0 M465.6,66.4h0 M455.0,76.7h0 M453.2,77.2h0 M460.6,72.0h0 M468.1,69.8h0 M459.1,74.3h0 M467.6,73.2h0 M463.7,72.2h0 M454.9,75.8h0 M469.3,70.0h0 M450.9,79.8h0 M469.6,68.1h0 M451.8,73.9h0 M461.6,73.1h0 M452.3,71.4h0 M460.7,75.9h0 M464.6,73.4h0 M455.4,78.3h0 M452.6,78.2h0 M464.7,73.2h0 M457.3,78.0h0 M456.9,74.6h0 M467.5,72.8h0 M455.0,75.3h0 M458.8,74.0h0 M461.9,72.0h0 M452.3,77.9h0 M461.3,72.1h0 M465.5,73.5h0 M451.8,81.5h0 M456.2,78.2h0 M455.6,75.2h0 M472.2,71.7h0 M461.9,75.6h0 M454.2,77.7h0 M462.6,75.1h0 M468.3,71.6h0 M469.3,72.1h0 M454.7,76.0h0 M463.7,72.8h0 M451.9,75.1h0 M448.7,78.9h0 M452.2,76.0h0 M453.0,73.1h0 M453.6,77.2h0 M458.5,73.6h0 M450.6,74.2h0 M463.3,70.8h0 M451.0,75.0h0 M465.9,74.0h0 M457.2,71.7h0 M462.2,75.0h0 M458.7,73.3h0 M453.7,74.8h0 M450.6,79.3h0 M448.6,77.4h0 M460.6,76.9h0 M465.7,70.0h0 M459.8,75.3h0 M454.6,73.2h0 M455.5,74.2h0 M463.9,74.9h0 M453.7,77.6h0 M453.9,75.8h0 M451.1,75.8h0 M448.7,75.8h0 M458.2,73.2h0 M465.6,70.3h0 M449.5,77.3h0" stroke="#5070c8" stroke-opacity="0.28" stroke-width="0.9" stroke-linecap="round" fill="none"/>
<ellipse cx="456.10" cy="75.30" rx="7.04" ry="3.40" fill="#5a7ccc" opacity="0.7" filter="url(#b1)" transform="rotate(-23.962488974578186 456.10 75.30)"/>
<ellipse cx="450.70" cy="78.70" rx="7.50" ry="11.00" fill="#4868c4" opacity="0.75" filter="url(#b1)"/>
<ellipse cx="449.20" cy="80.20" rx="4.20" ry="8.30" fill="#2ea0a0" opacity="0.9" filter="url(#b2)"/>
<ellipse cx="449.20" cy="80.20" rx="2.40" ry="6.50" fill="#86cc40" opacity="1.0" filter="url(#b2)"/>
<ellipse cx="449.40" cy="80.50" rx="1.20" ry="2.20" fill="#e0e030" opacity="1.0" filter="url(#b2)"/>
<line x1="451.70" y1="49.00" x2="451.70" y2="96.20" stroke="#555" stroke-width="0.8"/>
<line x1="442.20" y1="82.70" x2="489.70" y2="82.70" stroke="#555" stroke-width="0.8"/>
<text transform="translate(443.40,61.43) scale(0.92,1)" x="0" y="0" font-size="7.3" fill="#111" text-anchor="start" stroke="#111" stroke-width="0.22">42.1</text>
<text transform="translate(474.00,61.43) scale(0.92,1)" x="0" y="0" font-size="7.3" fill="#111" text-anchor="middle" stroke="#111" stroke-width="0.22">23.3</text>
<text transform="translate(443.40,91.33) scale(0.92,1)" x="0" y="0" font-size="7.3" fill="#111" text-anchor="start" stroke="#111" stroke-width="0.22">25.2</text>
<text transform="translate(474.00,91.33) scale(0.92,1)" x="0" y="0" font-size="7.3" fill="#111" text-anchor="middle" stroke="#111" stroke-width="0.22">9.44</text>
<text x="482.80" y="53.00" font-size="2.6" fill="#999" text-anchor="start" font-weight="normal"  stroke="#999" stroke-width="0.22">Q2</text>
<text x="482.80" y="56.00" font-size="2.6" fill="#aaa" text-anchor="start" font-weight="normal"  stroke="#aaa" stroke-width="0.22">....</text>
<text x="482.80" y="91.00" font-size="2.6" fill="#999" text-anchor="start" font-weight="normal"  stroke="#999" stroke-width="0.22">Q3</text>
<text x="482.80" y="94.00" font-size="2.6" fill="#aaa" text-anchor="start" font-weight="normal"  stroke="#aaa" stroke-width="0.22">....</text>
<text x="443.70" y="52.00" font-size="2.6" fill="#999" text-anchor="start" font-weight="normal"  stroke="#999" stroke-width="0.22">Q1</text>
<text x="443.70" y="94.50" font-size="2.6" fill="#aaa" text-anchor="start" font-weight="normal"  stroke="#aaa" stroke-width="0.22">Q4</text>
<text x="450.10" y="106.14" font-size="5.4" fill="#444" text-anchor="start" stroke="#444" stroke-width="0.22">10<tspan dy="-1.8" font-size="3.78">0</tspan></text>
<text x="462.20" y="106.14" font-size="5.4" fill="#444" text-anchor="start" stroke="#444" stroke-width="0.22">10<tspan dy="-1.8" font-size="3.78">1</tspan></text>
<text x="473.90" y="106.14" font-size="5.4" fill="#444" text-anchor="start" stroke="#444" stroke-width="0.22">10<tspan dy="-1.8" font-size="3.78">2</tspan></text>
<text x="485.10" y="106.14" font-size="5.4" fill="#444" text-anchor="start" stroke="#444" stroke-width="0.22">10<tspan dy="-1.8" font-size="3.78">3</tspan></text>
<text x="6.80" y="141.20" font-size="11" font-weight="bold" fill="#111" stroke="#111" stroke-width="0.45">B</text>
<line x1="33.50" y1="173.90" x2="33.50" y2="236.60" stroke="#111" stroke-width="1.1"/>
<path d="M31.70,175.10 L33.50,170.90 L35.30,175.10 Z" fill="#111"/>
<line x1="33.00" y1="236.60" x2="487.50" y2="236.60" stroke="#111" stroke-width="1.1"/>
<path d="M486.30,234.80 L490.50,236.60 L486.30,238.40 Z" fill="#111"/>
<text transform="translate(25.35,187.60) rotate(-90)" x="0" y="2.95" font-size="8.2" fill="#222" text-anchor="middle" font-weight="bold" textLength="33.2" lengthAdjust="spacingAndGlyphs">PE anti-CD59</text>
<text x="461.40" y="246.72" font-size="7.0" fill="#222" text-anchor="middle" font-weight="normal" textLength="58.0" lengthAdjust="spacingAndGlyphs" stroke="#222" stroke-width="0.22">FITC anti-C3/C3b/iC3b</text>
<line x1="190.70" y1="158.60" x2="301.30" y2="158.60" stroke="#333" stroke-width="0.9"/>
<line x1="355.00" y1="158.60" x2="466.30" y2="158.60" stroke="#333" stroke-width="0.9"/>
<text x="245.70" y="154.55" font-size="8.2" fill="#222" text-anchor="middle" font-weight="normal" textLength="60.6" lengthAdjust="spacingAndGlyphs" stroke="#222" stroke-width="0.22">AP, CG001 (nM)</text>
<text x="410.50" y="154.55" font-size="8.2" fill="#222" text-anchor="middle" font-weight="normal" textLength="73.6" lengthAdjust="spacingAndGlyphs" stroke="#222" stroke-width="0.22">AP, Eculizumab (nM)</text>
<text x="71.95" y="169.08" font-size="8.0" fill="#222" text-anchor="middle" font-weight="normal"  stroke="#222" stroke-width="0.22">NC</text>
<rect x="48.20" y="174.00" width="47.50" height="48.20" fill="#fff" stroke="#bdbdbd" stroke-width="0.7" />
<line x1="48.20" y1="174.00" x2="48.20" y2="222.20" stroke="#999" stroke-width="0.8"/>
<line x1="47.40" y1="175.20" x2="48.80" y2="175.20" stroke="#777" stroke-width="0.6"/>
<line x1="47.40" y1="186.50" x2="48.80" y2="186.50" stroke="#777" stroke-width="0.6"/>
<line x1="47.40" y1="198.20" x2="48.80" y2="198.20" stroke="#777" stroke-width="0.6"/>
<line x1="47.40" y1="211.20" x2="48.80" y2="211.20" stroke="#777" stroke-width="0.6"/>
<rect x="48.60" y="191.70" width="9.30" height="22.00" rx="3" fill="#4a70c8" opacity="0.85" filter="url(#b2)"/>
<rect x="49.80" y="195.70" width="6.30" height="15.00" rx="2.5" fill="#2ea4a0" opacity="0.85" filter="url(#b2)"/>
<rect x="51.20" y="199.20" width="3.50" height="8.00" rx="2" fill="#86c848" opacity="0.9" filter="url(#b2)"/>
<line x1="57.70" y1="174.00" x2="57.70" y2="222.20" stroke="#555" stroke-width="0.8"/>
<line x1="48.20" y1="208.70" x2="95.70" y2="208.70" stroke="#555" stroke-width="0.8"/>
<text transform="translate(49.40,186.43) scale(0.92,1)" x="0" y="0" font-size="7.3" fill="#111" text-anchor="start" stroke="#111" stroke-width="0.22">74.3</text>
<text transform="translate(80.00,186.43) scale(0.92,1)" x="0" y="0" font-size="7.3" fill="#111" text-anchor="middle" stroke="#111" stroke-width="0.22">0.56</text>
<text transform="translate(49.40,217.33) scale(0.92,1)" x="0" y="0" font-size="7.3" fill="#111" text-anchor="start" stroke="#111" stroke-width="0.22">25.0</text>
<text transform="translate(80.00,217.33) scale(0.92,1)" x="0" y="0" font-size="7.3" fill="#111" text-anchor="middle" stroke="#111" stroke-width="0.22">0.13</text>
<text x="88.80" y="178.00" font-size="2.6" fill="#999" text-anchor="start" font-weight="normal"  stroke="#999" stroke-width="0.22">Q2</text>
<text x="88.80" y="181.00" font-size="2.6" fill="#aaa" text-anchor="start" font-weight="normal"  stroke="#aaa" stroke-width="0.22">....</text>
<text x="88.80" y="217.00" font-size="2.6" fill="#999" text-anchor="start" font-weight="normal"  stroke="#999" stroke-width="0.22">Q3</text>
<text x="88.80" y="220.00" font-size="2.6" fill="#aaa" text-anchor="start" font-weight="normal"  stroke="#aaa" stroke-width="0.22">....</text>
<text x="49.70" y="177.00" font-size="2.6" fill="#999" text-anchor="start" font-weight="normal"  stroke="#999" stroke-width="0.22">Q1</text>
<text x="49.70" y="220.50" font-size="2.6" fill="#aaa" text-anchor="start" font-weight="normal"  stroke="#aaa" stroke-width="0.22">Q4</text>
<text x="55.50" y="232.14" font-size="5.4" fill="#444" text-anchor="start" stroke="#444" stroke-width="0.22">10<tspan dy="-1.8" font-size="3.78">0</tspan></text>
<text x="67.60" y="232.14" font-size="5.4" fill="#444" text-anchor="start" stroke="#444" stroke-width="0.22">10<tspan dy="-1.8" font-size="3.78">1</tspan></text>
<text x="79.30" y="232.14" font-size="5.4" fill="#444" text-anchor="start" stroke="#444" stroke-width="0.22">10<tspan dy="-1.8" font-size="3.78">2</tspan></text>
<text x="90.50" y="232.14" font-size="5.4" fill="#444" text-anchor="start" stroke="#444" stroke-width="0.22">10<tspan dy="-1.8" font-size="3.78">3</tspan></text>
<text x="45.80" y="213.24" font-size="5.4" fill="#444" text-anchor="end" stroke="#444" stroke-width="0.22">10<tspan dy="-1.8" font-size="3.78">0</tspan></text>
<text x="45.80" y="200.34" font-size="5.4" fill="#444" text-anchor="end" stroke="#444" stroke-width="0.22">10<tspan dy="-1.8" font-size="3.78">1</tspan></text>
<text x="45.80" y="188.54" font-size="5.4" fill="#444" text-anchor="end" stroke="#444" stroke-width="0.22">10<tspan dy="-1.8" font-size="3.78">2</tspan></text>
<text x="45.80" y="177.34" font-size="5.4" fill="#444" text-anchor="end" stroke="#444" stroke-width="0.22">10<tspan dy="-1.8" font-size="3.78">3</tspan></text>
<text x="136.20" y="169.08" font-size="8.0" fill="#222" text-anchor="middle" font-weight="normal"  stroke="#222" stroke-width="0.22">no drug</text>
<rect x="112.30" y="174.00" width="47.80" height="48.20" fill="#fff" stroke="#bdbdbd" stroke-width="0.7" />
<line x1="112.30" y1="174.00" x2="112.30" y2="222.20" stroke="#999" stroke-width="0.8"/>
<line x1="111.50" y1="175.20" x2="112.90" y2="175.20" stroke="#777" stroke-width="0.6"/>
<line x1="111.50" y1="186.50" x2="112.90" y2="186.50" stroke="#777" stroke-width="0.6"/>
<line x1="111.50" y1="198.20" x2="112.90" y2="198.20" stroke="#777" stroke-width="0.6"/>
<line x1="111.50" y1="211.20" x2="112.90" y2="211.20" stroke="#777" stroke-width="0.6"/>
<rect x="112.70" y="191.20" width="10.00" height="20.00" rx="3" fill="#4a70c8" opacity="0.85" filter="url(#b2)"/>
<rect x="113.90" y="194.20" width="7.00" height="14.00" rx="2.5" fill="#2ea4a0" opacity="0.85" filter="url(#b2)"/>
<rect x="115.30" y="196.70" width="4.20" height="8.50" rx="2" fill="#86c848" opacity="0.9" filter="url(#b2)"/>
<ellipse cx="117.40" cy="199.70" rx="1.00" ry="1.80" fill="#e0e030" opacity="1.0" filter="url(#b2)"/>
<path d="M115.9,205.1h0 M114.6,204.9h0 M118.7,202.9h0 M118.6,198.1h0 M120.2,206.5h0 M121.9,210.3h0 M116.9,190.6h0 M118.1,206.2h0 M116.9,210.4h0 M116.4,197.0h0 M115.5,197.4h0 M122.3,206.2h0 M120.7,210.1h0 M121.1,195.0h0 M113.8,185.7h0 M121.9,199.1h0 M115.6,193.2h0 M116.7,204.7h0 M118.2,206.5h0 M117.9,203.4h0 M113.5,210.9h0 M120.4,212.9h0 M121.9,193.4h0 M121.4,192.6h0 M121.4,209.1h0" stroke="#3050b0" stroke-opacity="0.35" stroke-width="0.90" stroke-linecap="round" fill="none"/>
<path d="M129.1,201.2h0 M135.8,201.9h0 M127.2,199.9h0 M150.5,194.8h0 M141.6,200.3h0 M152.3,193.6h0 M134.4,199.0h0 M124.8,204.1h0 M133.6,200.3h0 M125.2,199.5h0 M138.3,196.1h0 M126.0,201.8h0 M135.5,197.6h0 M128.8,201.6h0 M137.0,197.7h0 M124.0,201.3h0 M130.3,199.9h0 M128.5,203.4h0 M144.4,197.5h0 M148.4,195.4h0 M132.3,197.8h0 M125.5,203.9h0 M147.1,198.5h0 M132.2,199.9h0 M145.3,197.3h0 M141.7,197.3h0 M132.3,200.7h0 M147.2,198.4h0 M124.7,203.9h0 M133.5,202.3h0 M132.6,201.4h0 M136.0,197.2h0 M135.4,199.9h0 M131.0,198.9h0 M129.7,202.3h0 M132.7,198.6h0 M130.0,203.1h0 M139.7,202.8h0 M132.0,203.5h0 M148.6,195.7h0 M150.8,196.3h0 M137.7,194.7h0 M144.6,190.1h0 M134.8,196.6h0 M131.9,199.1h0 M132.6,204.0h0 M135.6,201.1h0 M133.4,198.3h0 M147.5,198.2h0 M133.3,195.6h0 M127.3,197.6h0 M125.6,200.3h0 M150.1,195.6h0 M148.7,194.5h0 M149.6,196.4h0 M124.7,202.1h0 M137.5,200.2h0 M140.6,197.0h0 M151.4,194.4h0 M132.5,201.0h0" stroke="#6a70c8" stroke-opacity="0.3" stroke-width="0.9" stroke-linecap="round" fill="none"/>
<ellipse cx="130.50" cy="203.70" rx="7.00" ry="3.00" fill="#b4c0ec" opacity="0.5" filter="url(#b1)" transform="rotate(-10 130.50 203.70)"/>
<line x1="122.50" y1="174.00" x2="122.50" y2="222.20" stroke="#555" stroke-width="0.8"/>
<line x1="112.30" y1="208.70" x2="160.10" y2="208.70" stroke="#555" stroke-width="0.8"/>
<text transform="translate(113.50,186.43) scale(0.92,1)" x="0" y="0" font-size="7.3" fill="#111" text-anchor="start" stroke="#111" stroke-width="0.22">85.8</text>
<text transform="translate(142.30,186.43) scale(0.92,1)" x="0" y="0" font-size="7.3" fill="#111" text-anchor="middle" stroke="#111" stroke-width="0.22">8.66</text>
<text transform="translate(113.50,217.33) scale(0.92,1)" x="0" y="0" font-size="7.3" fill="#111" text-anchor="start" stroke="#111" stroke-width="0.22">5.45</text>
<text transform="translate(142.30,217.33) scale(0.92,1)" x="0" y="0" font-size="7.3" fill="#111" text-anchor="middle" stroke="#111" stroke-width="0.22">0.10</text>
<text x="152.90" y="178.00" font-size="2.6" fill="#999" text-anchor="start" font-weight="normal"  stroke="#999" stroke-width="0.22">Q2</text>
<text x="152.90" y="181.00" font-size="2.6" fill="#aaa" text-anchor="start" font-weight="normal"  stroke="#aaa" stroke-width="0.22">....</text>
<text x="152.90" y="217.00" font-size="2.6" fill="#999" text-anchor="start" font-weight="normal"  stroke="#999" stroke-width="0.22">Q3</text>
<text x="152.90" y="220.00" font-size="2.6" fill="#aaa" text-anchor="start" font-weight="normal"  stroke="#aaa" stroke-width="0.22">....</text>
<text x="113.80" y="177.00" font-size="2.6" fill="#999" text-anchor="start" font-weight="normal"  stroke="#999" stroke-width="0.22">Q1</text>
<text x="113.80" y="220.50" font-size="2.6" fill="#aaa" text-anchor="start" font-weight="normal"  stroke="#aaa" stroke-width="0.22">Q4</text>
<text x="119.50" y="232.14" font-size="5.4" fill="#444" text-anchor="start" stroke="#444" stroke-width="0.22">10<tspan dy="-1.8" font-size="3.78">0</tspan></text>
<text x="131.60" y="232.14" font-size="5.4" fill="#444" text-anchor="start" stroke="#444" stroke-width="0.22">10<tspan dy="-1.8" font-size="3.78">1</tspan></text>
<text x="143.30" y="232.14" font-size="5.4" fill="#444" text-anchor="start" stroke="#444" stroke-width="0.22">10<tspan dy="-1.8" font-size="3.78">2</tspan></text>
<text x="154.50" y="232.14" font-size="5.4" fill="#444" text-anchor="start" stroke="#444" stroke-width="0.22">10<tspan dy="-1.8" font-size="3.78">3</tspan></text>
<text x="109.90" y="213.24" font-size="5.4" fill="#444" text-anchor="end" stroke="#444" stroke-width="0.22">10<tspan dy="-1.8" font-size="3.78">0</tspan></text>
<text x="109.90" y="200.34" font-size="5.4" fill="#444" text-anchor="end" stroke="#444" stroke-width="0.22">10<tspan dy="-1.8" font-size="3.78">1</tspan></text>
<text x="109.90" y="188.54" font-size="5.4" fill="#444" text-anchor="end" stroke="#444" stroke-width="0.22">10<tspan dy="-1.8" font-size="3.78">2</tspan></text>
<text x="109.90" y="177.34" font-size="5.4" fill="#444" text-anchor="end" stroke="#444" stroke-width="0.22">10<tspan dy="-1.8" font-size="3.78">3</tspan></text>
<text x="190.75" y="169.08" font-size="8.0" fill="#222" text-anchor="middle" font-weight="normal"  stroke="#222" stroke-width="0.22">200</text>
<rect x="167.10" y="174.00" width="47.30" height="48.20" fill="#fff" stroke="#bdbdbd" stroke-width="0.7" />
<line x1="167.10" y1="174.00" x2="167.10" y2="222.20" stroke="#999" stroke-width="0.8"/>
<line x1="166.30" y1="175.20" x2="167.70" y2="175.20" stroke="#777" stroke-width="0.6"/>
<line x1="166.30" y1="186.50" x2="167.70" y2="186.50" stroke="#777" stroke-width="0.6"/>
<line x1="166.30" y1="198.20" x2="167.70" y2="198.20" stroke="#777" stroke-width="0.6"/>
<line x1="166.30" y1="211.20" x2="167.70" y2="211.20" stroke="#777" stroke-width="0.6"/>
<rect x="167.50" y="191.20" width="9.20" height="20.00" rx="3" fill="#4a70c8" opacity="0.85" filter="url(#b2)"/>
<rect x="168.70" y="194.20" width="6.20" height="14.00" rx="2.5" fill="#2ea4a0" opacity="0.85" filter="url(#b2)"/>
<rect x="170.10" y="196.70" width="3.40" height="8.50" rx="2" fill="#86c848" opacity="0.9" filter="url(#b2)"/>
<ellipse cx="171.80" cy="199.70" rx="1.00" ry="1.80" fill="#e0e030" opacity="1.0" filter="url(#b2)"/>
<path d="M173.9,195.7h0 M168.1,196.8h0 M173.0,211.6h0 M173.7,203.0h0 M172.7,207.4h0 M170.3,196.2h0 M176.5,194.8h0 M172.9,198.1h0 M169.4,202.3h0 M174.5,202.9h0 M169.5,202.4h0 M172.5,204.4h0 M174.9,193.3h0 M168.6,211.0h0 M170.8,201.5h0 M174.1,198.5h0 M170.3,203.6h0 M168.9,207.2h0 M171.0,196.2h0 M171.9,199.2h0 M175.6,202.0h0 M173.0,207.0h0 M173.3,199.1h0 M170.2,214.0h0 M175.3,204.5h0" stroke="#3050b0" stroke-opacity="0.35" stroke-width="0.90" stroke-linecap="round" fill="none"/>
<line x1="176.50" y1="174.00" x2="176.50" y2="222.20" stroke="#555" stroke-width="0.8"/>
<line x1="167.10" y1="208.70" x2="214.40" y2="208.70" stroke="#555" stroke-width="0.8"/>
<text transform="translate(168.30,186.43) scale(0.92,1)" x="0" y="0" font-size="7.3" fill="#111" text-anchor="start" stroke="#111" stroke-width="0.22">86.0</text>
<text transform="translate(198.90,186.43) scale(0.92,1)" x="0" y="0" font-size="7.3" fill="#111" text-anchor="middle" stroke="#111" stroke-width="0.22">1.28</text>
<text transform="translate(168.30,217.33) scale(0.92,1)" x="0" y="0" font-size="7.3" fill="#111" text-anchor="start" stroke="#111" stroke-width="0.22">12.6</text>
<text transform="translate(198.90,217.33) scale(0.92,1)" x="0" y="0" font-size="7.3" fill="#111" text-anchor="middle" stroke="#111" stroke-width="0.22">0.10</text>
<text x="207.70" y="178.00" font-size="2.6" fill="#999" text-anchor="start" font-weight="normal"  stroke="#999" stroke-width="0.22">Q2</text>
<text x="207.70" y="181.00" font-size="2.6" fill="#aaa" text-anchor="start" font-weight="normal"  stroke="#aaa" stroke-width="0.22">....</text>
<text x="207.70" y="217.00" font-size="2.6" fill="#999" text-anchor="start" font-weight="normal"  stroke="#999" stroke-width="0.22">Q3</text>
<text x="207.70" y="220.00" font-size="2.6" fill="#aaa" text-anchor="start" font-weight="normal"  stroke="#aaa" stroke-width="0.22">....</text>
<text x="168.60" y="177.00" font-size="2.6" fill="#999" text-anchor="start" font-weight="normal"  stroke="#999" stroke-width="0.22">Q1</text>
<text x="168.60" y="220.50" font-size="2.6" fill="#aaa" text-anchor="start" font-weight="normal"  stroke="#aaa" stroke-width="0.22">Q4</text>
<text x="174.40" y="232.14" font-size="5.4" fill="#444" text-anchor="start" stroke="#444" stroke-width="0.22">10<tspan dy="-1.8" font-size="3.78">0</tspan></text>
<text x="186.50" y="232.14" font-size="5.4" fill="#444" text-anchor="start" stroke="#444" stroke-width="0.22">10<tspan dy="-1.8" font-size="3.78">1</tspan></text>
<text x="198.20" y="232.14" font-size="5.4" fill="#444" text-anchor="start" stroke="#444" stroke-width="0.22">10<tspan dy="-1.8" font-size="3.78">2</tspan></text>
<text x="209.40" y="232.14" font-size="5.4" fill="#444" text-anchor="start" stroke="#444" stroke-width="0.22">10<tspan dy="-1.8" font-size="3.78">3</tspan></text>
<text x="244.95" y="169.08" font-size="8.0" fill="#222" text-anchor="middle" font-weight="normal"  stroke="#222" stroke-width="0.22">500</text>
<rect x="221.50" y="174.00" width="46.90" height="48.20" fill="#fff" stroke="#bdbdbd" stroke-width="0.7" />
<line x1="221.50" y1="174.00" x2="221.50" y2="222.20" stroke="#999" stroke-width="0.8"/>
<line x1="220.70" y1="175.20" x2="222.10" y2="175.20" stroke="#777" stroke-width="0.6"/>
<line x1="220.70" y1="186.50" x2="222.10" y2="186.50" stroke="#777" stroke-width="0.6"/>
<line x1="220.70" y1="198.20" x2="222.10" y2="198.20" stroke="#777" stroke-width="0.6"/>
<line x1="220.70" y1="211.20" x2="222.10" y2="211.20" stroke="#777" stroke-width="0.6"/>
<rect x="221.90" y="191.20" width="9.70" height="20.00" rx="3" fill="#4a70c8" opacity="0.85" filter="url(#b2)"/>
<rect x="223.10" y="194.20" width="6.70" height="14.00" rx="2.5" fill="#2ea4a0" opacity="0.85" filter="url(#b2)"/>
<rect x="224.50" y="196.70" width="3.90" height="8.50" rx="2" fill="#86c848" opacity="0.9" filter="url(#b2)"/>
<ellipse cx="226.45" cy="199.70" rx="1.00" ry="1.80" fill="#e0e030" opacity="1.0" filter="url(#b2)"/>
<path d="M225.3,209.6h0 M225.2,194.1h0 M227.9,207.5h0 M231.0,199.0h0 M224.7,193.3h0 M224.5,206.8h0 M225.3,205.6h0 M229.6,195.8h0 M224.7,203.3h0 M224.2,205.7h0 M231.1,198.8h0 M223.5,208.2h0 M227.3,196.1h0 M223.1,204.7h0 M223.6,203.3h0 M224.7,195.7h0 M224.2,199.8h0 M222.8,205.0h0 M228.4,198.8h0 M228.8,203.6h0 M223.3,199.3h0 M223.6,212.0h0 M226.4,206.3h0 M223.9,191.4h0 M225.6,199.7h0" stroke="#3050b0" stroke-opacity="0.35" stroke-width="0.90" stroke-linecap="round" fill="none"/>
<line x1="231.40" y1="174.00" x2="231.40" y2="222.20" stroke="#555" stroke-width="0.8"/>
<line x1="221.50" y1="208.70" x2="268.40" y2="208.70" stroke="#555" stroke-width="0.8"/>
<text transform="translate(222.70,186.43) scale(0.92,1)" x="0" y="0" font-size="7.3" fill="#111" text-anchor="start" stroke="#111" stroke-width="0.22">74.6</text>
<text transform="translate(253.30,186.43) scale(0.92,1)" x="0" y="0" font-size="7.3" fill="#111" text-anchor="middle" stroke="#111" stroke-width="0.22">0.84</text>
<text transform="translate(222.70,217.33) scale(0.92,1)" x="0" y="0" font-size="7.3" fill="#111" text-anchor="start" stroke="#111" stroke-width="0.22">24.3</text>
<text transform="translate(253.30,217.33) scale(0.92,1)" x="0" y="0" font-size="7.3" fill="#111" text-anchor="middle" stroke="#111" stroke-width="0.22">0.22</text>
<text x="262.10" y="178.00" font-size="2.6" fill="#999" text-anchor="start" font-weight="normal"  stroke="#999" stroke-width="0.22">Q2</text>
<text x="262.10" y="181.00" font-size="2.6" fill="#aaa" text-anchor="start" font-weight="normal"  stroke="#aaa" stroke-width="0.22">....</text>
<text x="262.10" y="217.00" font-size="2.6" fill="#999" text-anchor="start" font-weight="normal"  stroke="#999" stroke-width="0.22">Q3</text>
<text x="262.10" y="220.00" font-size="2.6" fill="#aaa" text-anchor="start" font-weight="normal"  stroke="#aaa" stroke-width="0.22">....</text>
<text x="223.00" y="177.00" font-size="2.6" fill="#999" text-anchor="start" font-weight="normal"  stroke="#999" stroke-width="0.22">Q1</text>
<text x="223.00" y="220.50" font-size="2.6" fill="#aaa" text-anchor="start" font-weight="normal"  stroke="#aaa" stroke-width="0.22">Q4</text>
<text x="229.70" y="232.14" font-size="5.4" fill="#444" text-anchor="start" stroke="#444" stroke-width="0.22">10<tspan dy="-1.8" font-size="3.78">0</tspan></text>
<text x="241.80" y="232.14" font-size="5.4" fill="#444" text-anchor="start" stroke="#444" stroke-width="0.22">10<tspan dy="-1.8" font-size="3.78">1</tspan></text>
<text x="253.50" y="232.14" font-size="5.4" fill="#444" text-anchor="start" stroke="#444" stroke-width="0.22">10<tspan dy="-1.8" font-size="3.78">2</tspan></text>
<text x="264.70" y="232.14" font-size="5.4" fill="#444" text-anchor="start" stroke="#444" stroke-width="0.22">10<tspan dy="-1.8" font-size="3.78">3</tspan></text>
<text x="300.45" y="169.08" font-size="8.0" fill="#222" text-anchor="middle" font-weight="normal"  stroke="#222" stroke-width="0.22">1000</text>
<rect x="276.50" y="174.00" width="47.90" height="48.20" fill="#fff" stroke="#bdbdbd" stroke-width="0.7" />
<line x1="276.50" y1="174.00" x2="276.50" y2="222.20" stroke="#999" stroke-width="0.8"/>
<line x1="275.70" y1="175.20" x2="277.10" y2="175.20" stroke="#777" stroke-width="0.6"/>
<line x1="275.70" y1="186.50" x2="277.10" y2="186.50" stroke="#777" stroke-width="0.6"/>
<line x1="275.70" y1="198.20" x2="277.10" y2="198.20" stroke="#777" stroke-width="0.6"/>
<line x1="275.70" y1="211.20" x2="277.10" y2="211.20" stroke="#777" stroke-width="0.6"/>
<rect x="276.90" y="191.20" width="10.30" height="20.00" rx="3" fill="#4a70c8" opacity="0.85" filter="url(#b2)"/>
<rect x="278.10" y="194.20" width="7.30" height="14.00" rx="2.5" fill="#2ea4a0" opacity="0.85" filter="url(#b2)"/>
<rect x="279.50" y="196.70" width="4.50" height="8.50" rx="2" fill="#86c848" opacity="0.9" filter="url(#b2)"/>
<ellipse cx="281.75" cy="199.70" rx="1.00" ry="1.80" fill="#e0e030" opacity="1.0" filter="url(#b2)"/>
<path d="M286.6,195.0h0 M279.5,207.5h0 M279.7,198.5h0 M281.8,207.1h0 M280.0,207.6h0 M286.0,195.8h0 M279.8,197.7h0 M283.3,203.5h0 M278.7,212.5h0 M282.4,196.1h0 M284.8,199.4h0 M281.2,196.4h0 M280.5,194.2h0 M281.2,203.9h0 M285.6,202.6h0 M280.5,199.2h0 M282.8,198.2h0 M280.9,195.7h0 M278.1,200.7h0 M280.5,201.2h0 M284.3,203.8h0 M280.2,189.9h0 M284.9,208.2h0 M285.9,202.8h0 M280.1,198.3h0" stroke="#3050b0" stroke-opacity="0.35" stroke-width="0.90" stroke-linecap="round" fill="none"/>
<line x1="287.00" y1="174.00" x2="287.00" y2="222.20" stroke="#555" stroke-width="0.8"/>
<line x1="276.50" y1="208.70" x2="324.40" y2="208.70" stroke="#555" stroke-width="0.8"/>
<text transform="translate(277.70,186.43) scale(0.92,1)" x="0" y="0" font-size="7.3" fill="#111" text-anchor="start" stroke="#111" stroke-width="0.22">72.7</text>
<text transform="translate(308.30,186.43) scale(0.92,1)" x="0" y="0" font-size="7.3" fill="#111" text-anchor="middle" stroke="#111" stroke-width="0.22">0.48</text>
<text transform="translate(277.70,217.33) scale(0.92,1)" x="0" y="0" font-size="7.3" fill="#111" text-anchor="start" stroke="#111" stroke-width="0.22">26.7</text>
<text transform="translate(308.30,217.33) scale(0.92,1)" x="0" y="0" font-size="7.3" fill="#111" text-anchor="middle" stroke="#111" stroke-width="0.22">0.093</text>
<text x="317.10" y="178.00" font-size="2.6" fill="#999" text-anchor="start" font-weight="normal"  stroke="#999" stroke-width="0.22">Q2</text>
<text x="317.10" y="181.00" font-size="2.6" fill="#aaa" text-anchor="start" font-weight="normal"  stroke="#aaa" stroke-width="0.22">....</text>
<text x="317.10" y="217.00" font-size="2.6" fill="#999" text-anchor="start" font-weight="normal"  stroke="#999" stroke-width="0.22">Q3</text>
<text x="317.10" y="220.00" font-size="2.6" fill="#aaa" text-anchor="start" font-weight="normal"  stroke="#aaa" stroke-width="0.22">....</text>
<text x="278.00" y="177.00" font-size="2.6" fill="#999" text-anchor="start" font-weight="normal"  stroke="#999" stroke-width="0.22">Q1</text>
<text x="278.00" y="220.50" font-size="2.6" fill="#aaa" text-anchor="start" font-weight="normal"  stroke="#aaa" stroke-width="0.22">Q4</text>
<text x="285.30" y="232.14" font-size="5.4" fill="#444" text-anchor="start" stroke="#444" stroke-width="0.22">10<tspan dy="-1.8" font-size="3.78">0</tspan></text>
<text x="297.40" y="232.14" font-size="5.4" fill="#444" text-anchor="start" stroke="#444" stroke-width="0.22">10<tspan dy="-1.8" font-size="3.78">1</tspan></text>
<text x="309.10" y="232.14" font-size="5.4" fill="#444" text-anchor="start" stroke="#444" stroke-width="0.22">10<tspan dy="-1.8" font-size="3.78">2</tspan></text>
<text x="320.30" y="232.14" font-size="5.4" fill="#444" text-anchor="start" stroke="#444" stroke-width="0.22">10<tspan dy="-1.8" font-size="3.78">3</tspan></text>
<text x="356.05" y="169.08" font-size="8.0" fill="#222" text-anchor="middle" font-weight="normal"  stroke="#222" stroke-width="0.22">200</text>
<rect x="332.30" y="174.00" width="47.50" height="48.20" fill="#fff" stroke="#bdbdbd" stroke-width="0.7" />
<line x1="332.30" y1="174.00" x2="332.30" y2="222.20" stroke="#999" stroke-width="0.8"/>
<line x1="331.50" y1="175.20" x2="332.90" y2="175.20" stroke="#777" stroke-width="0.6"/>
<line x1="331.50" y1="186.50" x2="332.90" y2="186.50" stroke="#777" stroke-width="0.6"/>
<line x1="331.50" y1="198.20" x2="332.90" y2="198.20" stroke="#777" stroke-width="0.6"/>
<line x1="331.50" y1="211.20" x2="332.90" y2="211.20" stroke="#777" stroke-width="0.6"/>
<rect x="332.70" y="191.20" width="9.40" height="20.00" rx="3" fill="#4a70c8" opacity="0.85" filter="url(#b2)"/>
<rect x="333.90" y="194.20" width="6.40" height="14.00" rx="2.5" fill="#2ea4a0" opacity="0.85" filter="url(#b2)"/>
<rect x="335.30" y="196.70" width="3.60" height="8.50" rx="2" fill="#86c848" opacity="0.9" filter="url(#b2)"/>
<ellipse cx="337.10" cy="199.70" rx="1.00" ry="1.80" fill="#e0e030" opacity="1.0" filter="url(#b2)"/>
<path d="M333.6,196.9h0 M336.3,192.7h0 M336.8,195.7h0 M335.4,192.9h0 M340.6,195.6h0 M334.9,207.5h0 M334.3,209.0h0 M339.4,195.6h0 M333.6,204.2h0 M335.0,201.6h0 M335.9,199.5h0 M336.0,201.9h0 M338.8,205.6h0 M338.2,211.1h0 M339.5,200.5h0 M339.2,207.1h0 M336.3,212.1h0 M340.0,200.8h0 M335.8,212.0h0 M338.5,203.8h0 M333.7,200.8h0 M340.1,203.6h0 M335.1,209.3h0 M334.0,195.6h0 M339.3,192.9h0" stroke="#3050b0" stroke-opacity="0.35" stroke-width="0.90" stroke-linecap="round" fill="none"/>
<path d="M367.4,196.3h0 M370.6,191.2h0 M362.8,197.6h0 M356.3,197.9h0 M361.5,195.7h0 M370.1,197.8h0 M344.4,202.4h0 M345.3,196.8h0 M358.2,197.0h0 M342.6,202.1h0 M347.5,202.0h0 M362.4,197.1h0 M346.4,199.9h0 M369.4,194.4h0 M368.8,197.5h0 M351.4,202.3h0 M361.8,198.7h0 M360.1,195.5h0 M366.5,197.7h0 M351.5,201.2h0 M348.9,202.8h0 M355.6,201.6h0 M354.8,199.3h0 M343.9,209.5h0 M363.5,200.1h0 M372.4,194.0h0 M354.3,198.7h0 M356.7,203.9h0 M359.8,195.1h0 M357.4,198.3h0 M345.8,206.3h0 M366.7,196.0h0 M360.3,201.0h0 M342.6,203.5h0 M360.1,196.8h0 M366.6,195.7h0 M357.9,196.7h0 M349.4,204.6h0 M359.6,199.9h0 M366.4,197.9h0 M354.3,200.7h0 M358.6,201.7h0 M346.4,197.7h0 M344.9,205.3h0 M346.4,202.4h0 M366.2,198.6h0 M350.6,199.9h0 M357.6,198.0h0 M353.7,198.5h0 M366.1,196.6h0 M354.3,198.6h0 M345.6,204.0h0 M354.4,204.5h0 M366.5,201.2h0 M358.2,198.9h0 M360.2,196.8h0 M356.4,201.3h0 M359.2,197.8h0 M369.1,197.2h0 M360.9,197.2h0" stroke="#6a70c8" stroke-opacity="0.3" stroke-width="0.9" stroke-linecap="round" fill="none"/>
<ellipse cx="349.90" cy="203.70" rx="7.00" ry="3.00" fill="#b4c0ec" opacity="0.5" filter="url(#b1)" transform="rotate(-10 349.90 203.70)"/>
<line x1="341.90" y1="174.00" x2="341.90" y2="222.20" stroke="#555" stroke-width="0.8"/>
<line x1="332.30" y1="208.70" x2="379.80" y2="208.70" stroke="#555" stroke-width="0.8"/>
<text transform="translate(333.50,186.43) scale(0.92,1)" x="0" y="0" font-size="7.3" fill="#111" text-anchor="start" stroke="#111" stroke-width="0.22">87.8</text>
<text transform="translate(364.10,186.43) scale(0.92,1)" x="0" y="0" font-size="7.3" fill="#111" text-anchor="middle" stroke="#111" stroke-width="0.22">4.93</text>
<text transform="translate(333.50,217.33) scale(0.92,1)" x="0" y="0" font-size="7.3" fill="#111" text-anchor="start" stroke="#111" stroke-width="0.22">7.06</text>
<text transform="translate(364.10,217.33) scale(0.92,1)" x="0" y="0" font-size="7.3" fill="#111" text-anchor="middle" stroke="#111" stroke-width="0.22">0.22</text>
<text x="372.90" y="178.00" font-size="2.6" fill="#999" text-anchor="start" font-weight="normal"  stroke="#999" stroke-width="0.22">Q2</text>
<text x="372.90" y="181.00" font-size="2.6" fill="#aaa" text-anchor="start" font-weight="normal"  stroke="#aaa" stroke-width="0.22">....</text>
<text x="372.90" y="217.00" font-size="2.6" fill="#999" text-anchor="start" font-weight="normal"  stroke="#999" stroke-width="0.22">Q3</text>
<text x="372.90" y="220.00" font-size="2.6" fill="#aaa" text-anchor="start" font-weight="normal"  stroke="#aaa" stroke-width="0.22">....</text>
<text x="333.80" y="177.00" font-size="2.6" fill="#999" text-anchor="start" font-weight="normal"  stroke="#999" stroke-width="0.22">Q1</text>
<text x="333.80" y="220.50" font-size="2.6" fill="#aaa" text-anchor="start" font-weight="normal"  stroke="#aaa" stroke-width="0.22">Q4</text>
<text x="340.20" y="232.14" font-size="5.4" fill="#444" text-anchor="start" stroke="#444" stroke-width="0.22">10<tspan dy="-1.8" font-size="3.78">0</tspan></text>
<text x="352.30" y="232.14" font-size="5.4" fill="#444" text-anchor="start" stroke="#444" stroke-width="0.22">10<tspan dy="-1.8" font-size="3.78">1</tspan></text>
<text x="364.00" y="232.14" font-size="5.4" fill="#444" text-anchor="start" stroke="#444" stroke-width="0.22">10<tspan dy="-1.8" font-size="3.78">2</tspan></text>
<text x="375.20" y="232.14" font-size="5.4" fill="#444" text-anchor="start" stroke="#444" stroke-width="0.22">10<tspan dy="-1.8" font-size="3.78">3</tspan></text>
<text x="410.65" y="169.08" font-size="8.0" fill="#222" text-anchor="middle" font-weight="normal"  stroke="#222" stroke-width="0.22">500</text>
<rect x="386.90" y="174.00" width="47.50" height="48.20" fill="#fff" stroke="#bdbdbd" stroke-width="0.7" />
<line x1="386.90" y1="174.00" x2="386.90" y2="222.20" stroke="#999" stroke-width="0.8"/>
<line x1="386.10" y1="175.20" x2="387.50" y2="175.20" stroke="#777" stroke-width="0.6"/>
<line x1="386.10" y1="186.50" x2="387.50" y2="186.50" stroke="#777" stroke-width="0.6"/>
<line x1="386.10" y1="198.20" x2="387.50" y2="198.20" stroke="#777" stroke-width="0.6"/>
<line x1="386.10" y1="211.20" x2="387.50" y2="211.20" stroke="#777" stroke-width="0.6"/>
<rect x="387.30" y="191.20" width="9.30" height="20.00" rx="3" fill="#4a70c8" opacity="0.85" filter="url(#b2)"/>
<rect x="388.50" y="194.20" width="6.30" height="14.00" rx="2.5" fill="#2ea4a0" opacity="0.85" filter="url(#b2)"/>
<rect x="389.90" y="196.70" width="3.50" height="8.50" rx="2" fill="#86c848" opacity="0.9" filter="url(#b2)"/>
<ellipse cx="391.65" cy="199.70" rx="1.00" ry="1.80" fill="#e0e030" opacity="1.0" filter="url(#b2)"/>
<path d="M393.5,201.5h0 M391.1,195.3h0 M392.4,197.7h0 M392.7,198.3h0 M389.4,202.5h0 M395.5,197.9h0 M395.2,199.8h0 M390.1,206.8h0 M390.0,204.8h0 M392.1,196.6h0 M392.8,199.3h0 M388.9,192.7h0 M388.6,200.0h0 M391.4,206.5h0 M395.2,203.6h0 M392.6,198.5h0 M388.9,190.9h0 M396.3,200.2h0 M395.0,198.0h0 M391.2,207.9h0 M392.7,214.1h0 M394.5,207.5h0 M388.4,208.6h0 M389.9,200.0h0 M393.0,201.5h0" stroke="#3050b0" stroke-opacity="0.35" stroke-width="0.90" stroke-linecap="round" fill="none"/>
<path d="M400.4,205.3h0 M408.8,198.7h0 M418.8,194.3h0 M423.0,199.0h0 M404.9,198.2h0 M421.3,197.9h0 M419.5,196.4h0 M396.6,202.9h0 M411.2,198.4h0 M423.2,194.1h0 M397.9,203.7h0 M412.3,199.3h0 M398.8,201.8h0 M410.6,202.2h0 M407.7,204.1h0 M409.7,196.0h0 M425.9,195.4h0 M396.5,202.7h0 M420.3,197.1h0 M419.3,194.8h0 M410.3,203.2h0 M407.6,198.8h0 M397.3,204.5h0 M422.2,195.5h0 M398.9,204.4h0 M410.8,200.3h0 M395.3,202.8h0 M392.4,205.1h0 M398.5,205.8h0 M402.4,204.1h0 M400.7,200.9h0 M425.3,195.1h0 M411.8,195.2h0 M417.0,195.0h0 M404.8,204.5h0 M424.0,194.9h0 M403.8,198.3h0 M408.8,198.3h0 M410.6,199.7h0 M402.6,206.6h0 M408.1,201.1h0 M401.2,203.0h0 M397.6,202.1h0 M406.6,199.6h0 M401.1,203.3h0 M403.4,199.0h0 M422.3,199.2h0 M412.9,199.6h0 M413.4,198.9h0 M415.8,198.8h0 M394.4,203.8h0 M402.8,202.2h0 M399.6,205.8h0 M400.4,203.0h0 M414.2,196.6h0 M400.3,197.3h0 M415.1,200.6h0 M421.5,196.9h0 M397.5,201.5h0 M414.9,197.8h0" stroke="#6a70c8" stroke-opacity="0.3" stroke-width="0.9" stroke-linecap="round" fill="none"/>
<ellipse cx="404.40" cy="203.70" rx="7.00" ry="3.00" fill="#b4c0ec" opacity="0.5" filter="url(#b1)" transform="rotate(-10 404.40 203.70)"/>
<line x1="396.40" y1="174.00" x2="396.40" y2="222.20" stroke="#555" stroke-width="0.8"/>
<line x1="386.90" y1="208.70" x2="434.40" y2="208.70" stroke="#555" stroke-width="0.8"/>
<text transform="translate(388.10,186.43) scale(0.92,1)" x="0" y="0" font-size="7.3" fill="#111" text-anchor="start" stroke="#111" stroke-width="0.22">88.4</text>
<text transform="translate(418.70,186.43) scale(0.92,1)" x="0" y="0" font-size="7.3" fill="#111" text-anchor="middle" stroke="#111" stroke-width="0.22">5.57</text>
<text transform="translate(388.10,217.33) scale(0.92,1)" x="0" y="0" font-size="7.3" fill="#111" text-anchor="start" stroke="#111" stroke-width="0.22">5.84</text>
<text transform="translate(418.70,217.33) scale(0.92,1)" x="0" y="0" font-size="7.3" fill="#111" text-anchor="middle" stroke="#111" stroke-width="0.22">0.19</text>
<text x="427.50" y="178.00" font-size="2.6" fill="#999" text-anchor="start" font-weight="normal"  stroke="#999" stroke-width="0.22">Q2</text>
<text x="427.50" y="181.00" font-size="2.6" fill="#aaa" text-anchor="start" font-weight="normal"  stroke="#aaa" stroke-width="0.22">....</text>
<text x="427.50" y="217.00" font-size="2.6" fill="#999" text-anchor="start" font-weight="normal"  stroke="#999" stroke-width="0.22">Q3</text>
<text x="427.50" y="220.00" font-size="2.6" fill="#aaa" text-anchor="start" font-weight="normal"  stroke="#aaa" stroke-width="0.22">....</text>
<text x="388.40" y="177.00" font-size="2.6" fill="#999" text-anchor="start" font-weight="normal"  stroke="#999" stroke-width="0.22">Q1</text>
<text x="388.40" y="220.50" font-size="2.6" fill="#aaa" text-anchor="start" font-weight="normal"  stroke="#aaa" stroke-width="0.22">Q4</text>
<text x="394.90" y="232.14" font-size="5.4" fill="#444" text-anchor="start" stroke="#444" stroke-width="0.22">10<tspan dy="-1.8" font-size="3.78">0</tspan></text>
<text x="407.00" y="232.14" font-size="5.4" fill="#444" text-anchor="start" stroke="#444" stroke-width="0.22">10<tspan dy="-1.8" font-size="3.78">1</tspan></text>
<text x="418.70" y="232.14" font-size="5.4" fill="#444" text-anchor="start" stroke="#444" stroke-width="0.22">10<tspan dy="-1.8" font-size="3.78">2</tspan></text>
<text x="429.90" y="232.14" font-size="5.4" fill="#444" text-anchor="start" stroke="#444" stroke-width="0.22">10<tspan dy="-1.8" font-size="3.78">3</tspan></text>
<text x="465.95" y="169.08" font-size="8.0" fill="#222" text-anchor="middle" font-weight="normal"  stroke="#222" stroke-width="0.22">1000</text>
<rect x="442.20" y="174.00" width="47.50" height="48.20" fill="#fff" stroke="#bdbdbd" stroke-width="0.7" />
<line x1="442.20" y1="174.00" x2="442.20" y2="222.20" stroke="#999" stroke-width="0.8"/>
<line x1="441.40" y1="175.20" x2="442.80" y2="175.20" stroke="#777" stroke-width="0.6"/>
<line x1="441.40" y1="186.50" x2="442.80" y2="186.50" stroke="#777" stroke-width="0.6"/>
<line x1="441.40" y1="198.20" x2="442.80" y2="198.20" stroke="#777" stroke-width="0.6"/>
<line x1="441.40" y1="211.20" x2="442.80" y2="211.20" stroke="#777" stroke-width="0.6"/>
<rect x="442.60" y="191.20" width="9.30" height="20.00" rx="3" fill="#4a70c8" opacity="0.85" filter="url(#b2)"/>
<rect x="443.80" y="194.20" width="6.30" height="14.00" rx="2.5" fill="#2ea4a0" opacity="0.85" filter="url(#b2)"/>
<rect x="445.20" y="196.70" width="3.50" height="8.50" rx="2" fill="#86c848" opacity="0.9" filter="url(#b2)"/>
<ellipse cx="446.95" cy="199.70" rx="1.00" ry="1.80" fill="#e0e030" opacity="1.0" filter="url(#b2)"/>
<path d="M446.0,200.7h0 M446.6,192.0h0 M449.0,199.6h0 M446.7,202.5h0 M443.6,196.9h0 M447.4,196.8h0 M448.3,200.4h0 M443.3,207.4h0 M451.1,184.4h0 M443.7,193.7h0 M448.4,199.8h0 M444.0,195.4h0 M444.5,207.1h0 M444.0,208.7h0 M450.1,194.1h0 M448.2,204.2h0 M447.9,196.2h0 M446.0,193.9h0 M449.5,200.2h0 M449.7,210.1h0 M449.8,196.9h0 M451.5,210.3h0 M447.1,199.4h0 M451.2,207.9h0 M444.3,207.5h0" stroke="#3050b0" stroke-opacity="0.35" stroke-width="0.90" stroke-linecap="round" fill="none"/>
<path d="M469.9,198.6h0 M479.9,195.3h0 M455.9,204.3h0 M452.9,200.8h0 M455.6,204.3h0 M454.2,204.2h0 M481.1,195.8h0 M474.2,197.3h0 M469.0,198.6h0 M473.6,195.1h0 M478.6,198.3h0 M454.4,202.1h0 M475.7,198.5h0 M462.7,204.8h0 M467.1,198.8h0 M458.8,200.6h0 M456.6,202.5h0 M456.6,203.0h0 M466.9,201.3h0 M479.5,195.7h0 M477.9,196.2h0 M465.6,200.8h0 M470.1,196.2h0 M466.3,200.0h0 M476.9,193.7h0 M478.9,197.8h0 M484.2,194.6h0 M454.2,203.3h0 M478.5,197.6h0 M455.5,204.6h0 M455.4,200.8h0 M474.6,201.8h0 M449.4,203.9h0 M473.5,200.2h0 M457.3,201.3h0 M452.3,205.4h0 M477.3,197.7h0 M455.6,201.7h0 M471.2,199.9h0 M466.7,201.2h0 M465.6,201.4h0 M455.8,206.3h0 M471.7,197.3h0 M458.7,202.4h0 M465.2,197.6h0 M461.6,204.1h0 M469.8,195.9h0 M470.4,202.0h0 M471.5,196.2h0 M463.0,202.5h0 M461.0,199.9h0 M482.1,197.5h0 M479.1,195.4h0 M463.1,201.0h0 M455.0,205.0h0 M476.2,198.6h0 M460.2,199.8h0 M457.7,201.5h0 M472.8,198.8h0 M466.3,200.4h0" stroke="#6a70c8" stroke-opacity="0.3" stroke-width="0.9" stroke-linecap="round" fill="none"/>
<ellipse cx="459.70" cy="203.70" rx="7.00" ry="3.00" fill="#b4c0ec" opacity="0.5" filter="url(#b1)" transform="rotate(-10 459.70 203.70)"/>
<line x1="451.70" y1="174.00" x2="451.70" y2="222.20" stroke="#555" stroke-width="0.8"/>
<line x1="442.20" y1="208.70" x2="489.70" y2="208.70" stroke="#555" stroke-width="0.8"/>
<text transform="translate(443.40,186.43) scale(0.92,1)" x="0" y="0" font-size="7.3" fill="#111" text-anchor="start" stroke="#111" stroke-width="0.22">89.2</text>
<text transform="translate(474.00,186.43) scale(0.92,1)" x="0" y="0" font-size="7.3" fill="#111" text-anchor="middle" stroke="#111" stroke-width="0.22">4.88</text>
<text transform="translate(443.40,217.33) scale(0.92,1)" x="0" y="0" font-size="7.3" fill="#111" text-anchor="start" stroke="#111" stroke-width="0.22">5.80</text>
<text transform="translate(474.00,217.33) scale(0.92,1)" x="0" y="0" font-size="7.3" fill="#111" text-anchor="middle" stroke="#111" stroke-width="0.22">0.11</text>
<text x="482.80" y="178.00" font-size="2.6" fill="#999" text-anchor="start" font-weight="normal"  stroke="#999" stroke-width="0.22">Q2</text>
<text x="482.80" y="181.00" font-size="2.6" fill="#aaa" text-anchor="start" font-weight="normal"  stroke="#aaa" stroke-width="0.22">....</text>
<text x="482.80" y="217.00" font-size="2.6" fill="#999" text-anchor="start" font-weight="normal"  stroke="#999" stroke-width="0.22">Q3</text>
<text x="482.80" y="220.00" font-size="2.6" fill="#aaa" text-anchor="start" font-weight="normal"  stroke="#aaa" stroke-width="0.22">....</text>
<text x="443.70" y="177.00" font-size="2.6" fill="#999" text-anchor="start" font-weight="normal"  stroke="#999" stroke-width="0.22">Q1</text>
<text x="443.70" y="220.50" font-size="2.6" fill="#aaa" text-anchor="start" font-weight="normal"  stroke="#aaa" stroke-width="0.22">Q4</text>
<text x="450.10" y="232.14" font-size="5.4" fill="#444" text-anchor="start" stroke="#444" stroke-width="0.22">10<tspan dy="-1.8" font-size="3.78">0</tspan></text>
<text x="462.20" y="232.14" font-size="5.4" fill="#444" text-anchor="start" stroke="#444" stroke-width="0.22">10<tspan dy="-1.8" font-size="3.78">1</tspan></text>
<text x="473.90" y="232.14" font-size="5.4" fill="#444" text-anchor="start" stroke="#444" stroke-width="0.22">10<tspan dy="-1.8" font-size="3.78">2</tspan></text>
<text x="485.10" y="232.14" font-size="5.4" fill="#444" text-anchor="start" stroke="#444" stroke-width="0.22">10<tspan dy="-1.8" font-size="3.78">3</tspan></text>
<text x="6.80" y="267.20" font-size="11" font-weight="bold" fill="#111" stroke="#111" stroke-width="0.45">C</text>
<text x="47.30" y="286.02" font-size="5.6" fill="#222" text-anchor="middle" font-weight="normal"  stroke="#222" stroke-width="0.22">0 hr</text>
<text x="82.00" y="286.02" font-size="5.6" fill="#222" text-anchor="middle" font-weight="normal"  stroke="#222" stroke-width="0.22">1 hr</text>
<rect x="29.20" y="289.50" width="70.60" height="104.00" fill="#dfe1e3" stroke="none" stroke-width="1" />
<g filter="url(#b2)"><path d="M33.50,294.70 Q46.00,292.20 58.50,294.70 C58.00,300.20 56.00,303.70 53.00,304.60 L52.00,309.20 Q46.00,310.70 40.00,309.20 L39.00,304.60 C36.00,303.70 34.00,300.20 33.50,294.70 Z" fill="#ecedee" stroke="#c6c9cc" stroke-width="0.7"/><line x1="35.60" y1="294.20" x2="38.40" y2="304.20" stroke="#d6d8da" stroke-width="0.7"/><line x1="38.20" y1="294.20" x2="40.30" y2="304.20" stroke="#d6d8da" stroke-width="0.7"/><line x1="40.80" y1="294.20" x2="42.20" y2="304.20" stroke="#d6d8da" stroke-width="0.7"/><line x1="43.40" y1="294.20" x2="44.10" y2="304.20" stroke="#d6d8da" stroke-width="0.7"/><line x1="46.00" y1="294.20" x2="46.00" y2="304.20" stroke="#d6d8da" stroke-width="0.7"/><line x1="48.60" y1="294.20" x2="47.90" y2="304.20" stroke="#d6d8da" stroke-width="0.7"/><line x1="51.20" y1="294.20" x2="49.80" y2="304.20" stroke="#d6d8da" stroke-width="0.7"/><line x1="53.80" y1="294.20" x2="51.70" y2="304.20" stroke="#d6d8da" stroke-width="0.7"/><line x1="56.40" y1="294.20" x2="53.60" y2="304.20" stroke="#d6d8da" stroke-width="0.7"/><path d="M34.00,295.00 Q46.00,297.70 58.00,295.00" fill="none" stroke="#c4c7ca" stroke-width="0.6"/><rect x="40.80" y="305.00" width="10.4" height="4.2" rx="1.5" fill="#ebe7d0" opacity="0.9"/><path d="M40.00,304.80 Q46.00,306.70 52.00,304.80" fill="none" stroke="#e2dbb4" stroke-width="0.7"/></g>
<g filter="url(#b2)"><path d="M71.00,294.70 Q83.50,292.20 96.00,294.70 C95.50,300.20 93.50,303.70 90.50,304.60 L89.50,309.20 Q83.50,310.70 77.50,309.20 L76.50,304.60 C73.50,303.70 71.50,300.20 71.00,294.70 Z" fill="#ecedee" stroke="#c6c9cc" stroke-width="0.7"/><line x1="73.10" y1="294.20" x2="75.90" y2="304.20" stroke="#d6d8da" stroke-width="0.7"/><line x1="75.70" y1="294.20" x2="77.80" y2="304.20" stroke="#d6d8da" stroke-width="0.7"/><line x1="78.30" y1="294.20" x2="79.70" y2="304.20" stroke="#d6d8da" stroke-width="0.7"/><line x1="80.90" y1="294.20" x2="81.60" y2="304.20" stroke="#d6d8da" stroke-width="0.7"/><line x1="83.50" y1="294.20" x2="83.50" y2="304.20" stroke="#d6d8da" stroke-width="0.7"/><line x1="86.10" y1="294.20" x2="85.40" y2="304.20" stroke="#d6d8da" stroke-width="0.7"/><line x1="88.70" y1="294.20" x2="87.30" y2="304.20" stroke="#d6d8da" stroke-width="0.7"/><line x1="91.30" y1="294.20" x2="89.20" y2="304.20" stroke="#d6d8da" stroke-width="0.7"/><line x1="93.90" y1="294.20" x2="91.10" y2="304.20" stroke="#d6d8da" stroke-width="0.7"/><path d="M71.50,295.00 Q83.50,297.70 95.50,295.00" fill="none" stroke="#c4c7ca" stroke-width="0.6"/><rect x="78.30" y="305.00" width="10.4" height="4.2" rx="1.5" fill="#ebe7d0" opacity="0.9"/><path d="M77.50,304.80 Q83.50,306.70 89.50,304.80" fill="none" stroke="#e2dbb4" stroke-width="0.7"/></g>
<g filter="url(#b2)"><path d="M33.50,311.00 Q46.00,308.50 58.50,311.00 C58.00,316.50 56.00,320.00 53.00,320.90 L52.00,325.50 Q46.00,327.00 40.00,325.50 L39.00,320.90 C36.00,320.00 34.00,316.50 33.50,311.00 Z" fill="#ecedee" stroke="#c6c9cc" stroke-width="0.7"/><line x1="35.60" y1="310.50" x2="38.40" y2="320.50" stroke="#d6d8da" stroke-width="0.7"/><line x1="38.20" y1="310.50" x2="40.30" y2="320.50" stroke="#d6d8da" stroke-width="0.7"/><line x1="40.80" y1="310.50" x2="42.20" y2="320.50" stroke="#d6d8da" stroke-width="0.7"/><line x1="43.40" y1="310.50" x2="44.10" y2="320.50" stroke="#d6d8da" stroke-width="0.7"/><line x1="46.00" y1="310.50" x2="46.00" y2="320.50" stroke="#d6d8da" stroke-width="0.7"/><line x1="48.60" y1="310.50" x2="47.90" y2="320.50" stroke="#d6d8da" stroke-width="0.7"/><line x1="51.20" y1="310.50" x2="49.80" y2="320.50" stroke="#d6d8da" stroke-width="0.7"/><line x1="53.80" y1="310.50" x2="51.70" y2="320.50" stroke="#d6d8da" stroke-width="0.7"/><line x1="56.40" y1="310.50" x2="53.60" y2="320.50" stroke="#d6d8da" stroke-width="0.7"/><path d="M34.00,311.30 Q46.00,314.00 58.00,311.30" fill="none" stroke="#c4c7ca" stroke-width="0.6"/><rect x="40.80" y="321.30" width="10.4" height="4.2" rx="1.5" fill="#ebe7d0" opacity="0.9"/><path d="M40.00,321.10 Q46.00,323.00 52.00,321.10" fill="none" stroke="#e2dbb4" stroke-width="0.7"/></g>
<g filter="url(#b2)"><path d="M71.00,311.00 Q83.50,308.50 96.00,311.00 C95.50,316.50 93.50,320.00 90.50,320.90 L89.50,325.50 Q83.50,327.00 77.50,325.50 L76.50,320.90 C73.50,320.00 71.50,316.50 71.00,311.00 Z" fill="#ecedee" stroke="#c6c9cc" stroke-width="0.7"/><line x1="73.10" y1="310.50" x2="75.90" y2="320.50" stroke="#d6d8da" stroke-width="0.7"/><line x1="75.70" y1="310.50" x2="77.80" y2="320.50" stroke="#d6d8da" stroke-width="0.7"/><line x1="78.30" y1="310.50" x2="79.70" y2="320.50" stroke="#d6d8da" stroke-width="0.7"/><line x1="80.90" y1="310.50" x2="81.60" y2="320.50" stroke="#d6d8da" stroke-width="0.7"/><line x1="83.50" y1="310.50" x2="83.50" y2="320.50" stroke="#d6d8da" stroke-width="0.7"/><line x1="86.10" y1="310.50" x2="85.40" y2="320.50" stroke="#d6d8da" stroke-width="0.7"/><line x1="88.70" y1="310.50" x2="87.30" y2="320.50" stroke="#d6d8da" stroke-width="0.7"/><line x1="91.30" y1="310.50" x2="89.20" y2="320.50" stroke="#d6d8da" stroke-width="0.7"/><line x1="93.90" y1="310.50" x2="91.10" y2="320.50" stroke="#d6d8da" stroke-width="0.7"/><path d="M71.50,311.30 Q83.50,314.00 95.50,311.30" fill="none" stroke="#c4c7ca" stroke-width="0.6"/><rect x="78.30" y="321.30" width="10.4" height="4.2" rx="1.5" fill="#ebe7d0" opacity="0.9"/><path d="M77.50,321.10 Q83.50,323.00 89.50,321.10" fill="none" stroke="#e2dbb4" stroke-width="0.7"/></g>
<ellipse cx="80.80" cy="323.00" rx="2.1" ry="2.10" fill="#b01414" filter="url(#b2)"/>
<ellipse cx="84.60" cy="323.00" rx="2.1" ry="2.10" fill="#b01414" filter="url(#b2)"/>
<ellipse cx="88.40" cy="323.00" rx="2.1" ry="2.10" fill="#b01414" filter="url(#b2)"/>
<g filter="url(#b2)"><path d="M33.50,327.10 Q46.00,324.60 58.50,327.10 C58.00,332.60 56.00,336.10 53.00,337.00 L52.00,341.60 Q46.00,343.10 40.00,341.60 L39.00,337.00 C36.00,336.10 34.00,332.60 33.50,327.10 Z" fill="#ecedee" stroke="#c6c9cc" stroke-width="0.7"/><line x1="35.60" y1="326.60" x2="38.40" y2="336.60" stroke="#d6d8da" stroke-width="0.7"/><line x1="38.20" y1="326.60" x2="40.30" y2="336.60" stroke="#d6d8da" stroke-width="0.7"/><line x1="40.80" y1="326.60" x2="42.20" y2="336.60" stroke="#d6d8da" stroke-width="0.7"/><line x1="43.40" y1="326.60" x2="44.10" y2="336.60" stroke="#d6d8da" stroke-width="0.7"/><line x1="46.00" y1="326.60" x2="46.00" y2="336.60" stroke="#d6d8da" stroke-width="0.7"/><line x1="48.60" y1="326.60" x2="47.90" y2="336.60" stroke="#d6d8da" stroke-width="0.7"/><line x1="51.20" y1="326.60" x2="49.80" y2="336.60" stroke="#d6d8da" stroke-width="0.7"/><line x1="53.80" y1="326.60" x2="51.70" y2="336.60" stroke="#d6d8da" stroke-width="0.7"/><line x1="56.40" y1="326.60" x2="53.60" y2="336.60" stroke="#d6d8da" stroke-width="0.7"/><path d="M34.00,327.40 Q46.00,330.10 58.00,327.40" fill="none" stroke="#c4c7ca" stroke-width="0.6"/><rect x="40.80" y="337.40" width="10.4" height="4.2" rx="1.5" fill="#ebe7d0" opacity="0.9"/><path d="M40.00,337.20 Q46.00,339.10 52.00,337.20" fill="none" stroke="#e2dbb4" stroke-width="0.7"/></g>
<g filter="url(#b2)"><path d="M71.00,327.10 Q83.50,324.60 96.00,327.10 C95.50,332.60 93.50,336.10 90.50,337.00 L89.50,341.60 Q83.50,343.10 77.50,341.60 L76.50,337.00 C73.50,336.10 71.50,332.60 71.00,327.10 Z" fill="#ecedee" stroke="#c6c9cc" stroke-width="0.7"/><line x1="73.10" y1="326.60" x2="75.90" y2="336.60" stroke="#d6d8da" stroke-width="0.7"/><line x1="75.70" y1="326.60" x2="77.80" y2="336.60" stroke="#d6d8da" stroke-width="0.7"/><line x1="78.30" y1="326.60" x2="79.70" y2="336.60" stroke="#d6d8da" stroke-width="0.7"/><line x1="80.90" y1="326.60" x2="81.60" y2="336.60" stroke="#d6d8da" stroke-width="0.7"/><line x1="83.50" y1="326.60" x2="83.50" y2="336.60" stroke="#d6d8da" stroke-width="0.7"/><line x1="86.10" y1="326.60" x2="85.40" y2="336.60" stroke="#d6d8da" stroke-width="0.7"/><line x1="88.70" y1="326.60" x2="87.30" y2="336.60" stroke="#d6d8da" stroke-width="0.7"/><line x1="91.30" y1="326.60" x2="89.20" y2="336.60" stroke="#d6d8da" stroke-width="0.7"/><line x1="93.90" y1="326.60" x2="91.10" y2="336.60" stroke="#d6d8da" stroke-width="0.7"/><path d="M71.50,327.40 Q83.50,330.10 95.50,327.40" fill="none" stroke="#c4c7ca" stroke-width="0.6"/><rect x="78.30" y="337.40" width="10.4" height="4.2" rx="1.5" fill="#ebe7d0" opacity="0.9"/><path d="M77.50,337.20 Q83.50,339.10 89.50,337.20" fill="none" stroke="#e2dbb4" stroke-width="0.7"/></g>
<ellipse cx="83.70" cy="340.00" rx="5.00" ry="2.00" fill="#b81414" filter="url(#b2)"/>
<ellipse cx="83.70" cy="340.00" rx="4.00" ry="1.40" fill="#b81414"/>
<g filter="url(#b2)"><path d="M33.50,343.70 Q46.00,341.20 58.50,343.70 C58.00,349.20 56.00,352.70 53.00,353.60 L52.00,358.20 Q46.00,359.70 40.00,358.20 L39.00,353.60 C36.00,352.70 34.00,349.20 33.50,343.70 Z" fill="#ecedee" stroke="#c6c9cc" stroke-width="0.7"/><line x1="35.60" y1="343.20" x2="38.40" y2="353.20" stroke="#d6d8da" stroke-width="0.7"/><line x1="38.20" y1="343.20" x2="40.30" y2="353.20" stroke="#d6d8da" stroke-width="0.7"/><line x1="40.80" y1="343.20" x2="42.20" y2="353.20" stroke="#d6d8da" stroke-width="0.7"/><line x1="43.40" y1="343.20" x2="44.10" y2="353.20" stroke="#d6d8da" stroke-width="0.7"/><line x1="46.00" y1="343.20" x2="46.00" y2="353.20" stroke="#d6d8da" stroke-width="0.7"/><line x1="48.60" y1="343.20" x2="47.90" y2="353.20" stroke="#d6d8da" stroke-width="0.7"/><line x1="51.20" y1="343.20" x2="49.80" y2="353.20" stroke="#d6d8da" stroke-width="0.7"/><line x1="53.80" y1="343.20" x2="51.70" y2="353.20" stroke="#d6d8da" stroke-width="0.7"/><line x1="56.40" y1="343.20" x2="53.60" y2="353.20" stroke="#d6d8da" stroke-width="0.7"/><path d="M34.00,344.00 Q46.00,346.70 58.00,344.00" fill="none" stroke="#c4c7ca" stroke-width="0.6"/><rect x="40.80" y="354.00" width="10.4" height="4.2" rx="1.5" fill="#ebe7d0" opacity="0.9"/><path d="M40.00,353.80 Q46.00,355.70 52.00,353.80" fill="none" stroke="#e2dbb4" stroke-width="0.7"/></g>
<g filter="url(#b2)"><path d="M71.00,343.70 Q83.50,341.20 96.00,343.70 C95.50,349.20 93.50,352.70 90.50,353.60 L89.50,358.20 Q83.50,359.70 77.50,358.20 L76.50,353.60 C73.50,352.70 71.50,349.20 71.00,343.70 Z" fill="#ecedee" stroke="#c6c9cc" stroke-width="0.7"/><line x1="73.10" y1="343.20" x2="75.90" y2="353.20" stroke="#d6d8da" stroke-width="0.7"/><line x1="75.70" y1="343.20" x2="77.80" y2="353.20" stroke="#d6d8da" stroke-width="0.7"/><line x1="78.30" y1="343.20" x2="79.70" y2="353.20" stroke="#d6d8da" stroke-width="0.7"/><line x1="80.90" y1="343.20" x2="81.60" y2="353.20" stroke="#d6d8da" stroke-width="0.7"/><line x1="83.50" y1="343.20" x2="83.50" y2="353.20" stroke="#d6d8da" stroke-width="0.7"/><line x1="86.10" y1="343.20" x2="85.40" y2="353.20" stroke="#d6d8da" stroke-width="0.7"/><line x1="88.70" y1="343.20" x2="87.30" y2="353.20" stroke="#d6d8da" stroke-width="0.7"/><line x1="91.30" y1="343.20" x2="89.20" y2="353.20" stroke="#d6d8da" stroke-width="0.7"/><line x1="93.90" y1="343.20" x2="91.10" y2="353.20" stroke="#d6d8da" stroke-width="0.7"/><path d="M71.50,344.00 Q83.50,346.70 95.50,344.00" fill="none" stroke="#c4c7ca" stroke-width="0.6"/><rect x="78.30" y="354.00" width="10.4" height="4.2" rx="1.5" fill="#ebe7d0" opacity="0.9"/><path d="M77.50,353.80 Q83.50,355.70 89.50,353.80" fill="none" stroke="#e2dbb4" stroke-width="0.7"/></g>
<ellipse cx="84.40" cy="355.60" rx="5.00" ry="1.80" fill="#c03010" filter="url(#b2)"/>
<ellipse cx="84.40" cy="355.60" rx="4.00" ry="1.20" fill="#c03010"/>
<g filter="url(#b2)"><path d="M33.50,359.90 Q46.00,357.40 58.50,359.90 C58.00,365.40 56.00,368.90 53.00,369.80 L52.00,374.40 Q46.00,375.90 40.00,374.40 L39.00,369.80 C36.00,368.90 34.00,365.40 33.50,359.90 Z" fill="#ecedee" stroke="#c6c9cc" stroke-width="0.7"/><line x1="35.60" y1="359.40" x2="38.40" y2="369.40" stroke="#d6d8da" stroke-width="0.7"/><line x1="38.20" y1="359.40" x2="40.30" y2="369.40" stroke="#d6d8da" stroke-width="0.7"/><line x1="40.80" y1="359.40" x2="42.20" y2="369.40" stroke="#d6d8da" stroke-width="0.7"/><line x1="43.40" y1="359.40" x2="44.10" y2="369.40" stroke="#d6d8da" stroke-width="0.7"/><line x1="46.00" y1="359.40" x2="46.00" y2="369.40" stroke="#d6d8da" stroke-width="0.7"/><line x1="48.60" y1="359.40" x2="47.90" y2="369.40" stroke="#d6d8da" stroke-width="0.7"/><line x1="51.20" y1="359.40" x2="49.80" y2="369.40" stroke="#d6d8da" stroke-width="0.7"/><line x1="53.80" y1="359.40" x2="51.70" y2="369.40" stroke="#d6d8da" stroke-width="0.7"/><line x1="56.40" y1="359.40" x2="53.60" y2="369.40" stroke="#d6d8da" stroke-width="0.7"/><path d="M34.00,360.20 Q46.00,362.90 58.00,360.20" fill="none" stroke="#c4c7ca" stroke-width="0.6"/><rect x="40.80" y="370.20" width="10.4" height="4.2" rx="1.5" fill="#ebe7d0" opacity="0.9"/><path d="M40.00,370.00 Q46.00,371.90 52.00,370.00" fill="none" stroke="#e2dbb4" stroke-width="0.7"/></g>
<g filter="url(#b2)"><path d="M71.00,359.90 Q83.50,357.40 96.00,359.90 C95.50,365.40 93.50,368.90 90.50,369.80 L89.50,374.40 Q83.50,375.90 77.50,374.40 L76.50,369.80 C73.50,368.90 71.50,365.40 71.00,359.90 Z" fill="#ecedee" stroke="#c6c9cc" stroke-width="0.7"/><line x1="73.10" y1="359.40" x2="75.90" y2="369.40" stroke="#d6d8da" stroke-width="0.7"/><line x1="75.70" y1="359.40" x2="77.80" y2="369.40" stroke="#d6d8da" stroke-width="0.7"/><line x1="78.30" y1="359.40" x2="79.70" y2="369.40" stroke="#d6d8da" stroke-width="0.7"/><line x1="80.90" y1="359.40" x2="81.60" y2="369.40" stroke="#d6d8da" stroke-width="0.7"/><line x1="83.50" y1="359.40" x2="83.50" y2="369.40" stroke="#d6d8da" stroke-width="0.7"/><line x1="86.10" y1="359.40" x2="85.40" y2="369.40" stroke="#d6d8da" stroke-width="0.7"/><line x1="88.70" y1="359.40" x2="87.30" y2="369.40" stroke="#d6d8da" stroke-width="0.7"/><line x1="91.30" y1="359.40" x2="89.20" y2="369.40" stroke="#d6d8da" stroke-width="0.7"/><line x1="93.90" y1="359.40" x2="91.10" y2="369.40" stroke="#d6d8da" stroke-width="0.7"/><path d="M71.50,360.20 Q83.50,362.90 95.50,360.20" fill="none" stroke="#c4c7ca" stroke-width="0.6"/><rect x="78.30" y="370.20" width="10.4" height="4.2" rx="1.5" fill="#ebe7d0" opacity="0.9"/><path d="M77.50,370.00 Q83.50,371.90 89.50,370.00" fill="none" stroke="#e2dbb4" stroke-width="0.7"/></g>
<g filter="url(#b2)"><path d="M33.50,376.00 Q46.00,373.50 58.50,376.00 C58.00,381.50 56.00,385.00 53.00,385.90 L52.00,390.50 Q46.00,392.00 40.00,390.50 L39.00,385.90 C36.00,385.00 34.00,381.50 33.50,376.00 Z" fill="#ecedee" stroke="#c6c9cc" stroke-width="0.7"/><line x1="35.60" y1="375.50" x2="38.40" y2="385.50" stroke="#d6d8da" stroke-width="0.7"/><line x1="38.20" y1="375.50" x2="40.30" y2="385.50" stroke="#d6d8da" stroke-width="0.7"/><line x1="40.80" y1="375.50" x2="42.20" y2="385.50" stroke="#d6d8da" stroke-width="0.7"/><line x1="43.40" y1="375.50" x2="44.10" y2="385.50" stroke="#d6d8da" stroke-width="0.7"/><line x1="46.00" y1="375.50" x2="46.00" y2="385.50" stroke="#d6d8da" stroke-width="0.7"/><line x1="48.60" y1="375.50" x2="47.90" y2="385.50" stroke="#d6d8da" stroke-width="0.7"/><line x1="51.20" y1="375.50" x2="49.80" y2="385.50" stroke="#d6d8da" stroke-width="0.7"/><line x1="53.80" y1="375.50" x2="51.70" y2="385.50" stroke="#d6d8da" stroke-width="0.7"/><line x1="56.40" y1="375.50" x2="53.60" y2="385.50" stroke="#d6d8da" stroke-width="0.7"/><path d="M34.00,376.30 Q46.00,379.00 58.00,376.30" fill="none" stroke="#c4c7ca" stroke-width="0.6"/><rect x="40.80" y="386.30" width="10.4" height="4.2" rx="1.5" fill="#ebe7d0" opacity="0.9"/><path d="M40.00,386.10 Q46.00,388.00 52.00,386.10" fill="none" stroke="#e2dbb4" stroke-width="0.7"/></g>
<g filter="url(#b2)"><path d="M71.00,376.00 Q83.50,373.50 96.00,376.00 C95.50,381.50 93.50,385.00 90.50,385.90 L89.50,390.50 Q83.50,392.00 77.50,390.50 L76.50,385.90 C73.50,385.00 71.50,381.50 71.00,376.00 Z" fill="#ecedee" stroke="#c6c9cc" stroke-width="0.7"/><line x1="73.10" y1="375.50" x2="75.90" y2="385.50" stroke="#d6d8da" stroke-width="0.7"/><line x1="75.70" y1="375.50" x2="77.80" y2="385.50" stroke="#d6d8da" stroke-width="0.7"/><line x1="78.30" y1="375.50" x2="79.70" y2="385.50" stroke="#d6d8da" stroke-width="0.7"/><line x1="80.90" y1="375.50" x2="81.60" y2="385.50" stroke="#d6d8da" stroke-width="0.7"/><line x1="83.50" y1="375.50" x2="83.50" y2="385.50" stroke="#d6d8da" stroke-width="0.7"/><line x1="86.10" y1="375.50" x2="85.40" y2="385.50" stroke="#d6d8da" stroke-width="0.7"/><line x1="88.70" y1="375.50" x2="87.30" y2="385.50" stroke="#d6d8da" stroke-width="0.7"/><line x1="91.30" y1="375.50" x2="89.20" y2="385.50" stroke="#d6d8da" stroke-width="0.7"/><line x1="93.90" y1="375.50" x2="91.10" y2="385.50" stroke="#d6d8da" stroke-width="0.7"/><path d="M71.50,376.30 Q83.50,379.00 95.50,376.30" fill="none" stroke="#c4c7ca" stroke-width="0.6"/><rect x="78.30" y="386.30" width="10.4" height="4.2" rx="1.5" fill="#ebe7d0" opacity="0.9"/><path d="M77.50,386.10 Q83.50,388.00 89.50,386.10" fill="none" stroke="#e2dbb4" stroke-width="0.7"/></g>
<text x="25.40" y="302.73" font-size="6.2" fill="#222" text-anchor="end" font-weight="normal"  stroke="#222" stroke-width="0.22">iNHS</text>
<line x1="16.80" y1="315.30" x2="16.80" y2="388.70" stroke="#222" stroke-width="1.0"/>
<text transform="translate(11.10,352.00) rotate(-90)" x="0" y="2.34" font-size="6.5" fill="#222" text-anchor="middle" font-weight="normal" textLength="60" lengthAdjust="spacingAndGlyphs" stroke="#222" stroke-width="0.22">NHS+CG001 (mg/kg)</text>
<text x="26.30" y="321.43" font-size="6.2" fill="#222" text-anchor="end" font-weight="normal"  stroke="#222" stroke-width="0.22">0</text>
<text x="26.30" y="336.53" font-size="6.2" fill="#222" text-anchor="end" font-weight="normal"  stroke="#222" stroke-width="0.22">1</text>
<text x="26.30" y="354.43" font-size="6.2" fill="#222" text-anchor="end" font-weight="normal"  stroke="#222" stroke-width="0.22">2</text>
<text x="26.30" y="370.83" font-size="6.2" fill="#222" text-anchor="end" font-weight="normal"  stroke="#222" stroke-width="0.22">5</text>
<text x="26.30" y="384.93" font-size="6.2" fill="#222" text-anchor="end" font-weight="normal"  stroke="#222" stroke-width="0.22">10</text>
<text x="108.80" y="267.20" font-size="11" font-weight="bold" fill="#111" stroke="#111" stroke-width="0.45">D</text>
<line x1="135.20" y1="299.30" x2="135.20" y2="372.30" stroke="#222" stroke-width="0.9"/>
<line x1="135.20" y1="372.30" x2="206.80" y2="372.30" stroke="#222" stroke-width="0.9"/>
<line x1="133.20" y1="372.30" x2="135.20" y2="372.30" stroke="#222" stroke-width="0.8"/>
<text x="130.60" y="374.39" font-size="5.8" fill="#333" text-anchor="end" font-weight="normal"  stroke="#333" stroke-width="0.22">0.0</text>
<line x1="133.20" y1="354.53" x2="135.20" y2="354.53" stroke="#222" stroke-width="0.8"/>
<text x="130.60" y="356.61" font-size="5.8" fill="#333" text-anchor="end" font-weight="normal"  stroke="#333" stroke-width="0.22">0.5</text>
<line x1="133.20" y1="336.75" x2="135.20" y2="336.75" stroke="#222" stroke-width="0.8"/>
<text x="130.60" y="338.84" font-size="5.8" fill="#333" text-anchor="end" font-weight="normal"  stroke="#333" stroke-width="0.22">1.0</text>
<line x1="133.20" y1="318.98" x2="135.20" y2="318.98" stroke="#222" stroke-width="0.8"/>
<text x="130.60" y="321.06" font-size="5.8" fill="#333" text-anchor="end" font-weight="normal"  stroke="#333" stroke-width="0.22">1.5</text>
<line x1="133.20" y1="301.20" x2="135.20" y2="301.20" stroke="#222" stroke-width="0.8"/>
<text x="130.60" y="303.29" font-size="5.8" fill="#333" text-anchor="end" font-weight="normal"  stroke="#333" stroke-width="0.22">2.0</text>
<text transform="translate(113.50,335.50) rotate(-90)" x="0" y="2.59" font-size="7.2" fill="#222" text-anchor="middle" font-weight="bold" textLength="51.0" lengthAdjust="spacingAndGlyphs">Plasma OD (414nM)</text>
<line x1="143.10" y1="366.26" x2="143.10" y2="368.03" stroke="#555" stroke-width="0.9"/>
<line x1="140.85" y1="366.26" x2="145.35" y2="366.26" stroke="#555" stroke-width="0.9"/>
<rect x="139.75" y="368.03" width="6.70" height="4.27" fill="#c9c9cb" stroke="none" stroke-width="1" />
<line x1="143.10" y1="372.30" x2="143.10" y2="374.10" stroke="#222" stroke-width="0.7"/>
<line x1="154.40" y1="311.15" x2="154.40" y2="313.64" stroke="#c8102e" stroke-width="0.9"/>
<line x1="152.15" y1="311.15" x2="156.65" y2="311.15" stroke="#c8102e" stroke-width="0.9"/>
<rect x="151.05" y="313.64" width="6.70" height="58.66" fill="#c8102e" stroke="none" stroke-width="1" />
<line x1="154.40" y1="372.30" x2="154.40" y2="374.10" stroke="#222" stroke-width="0.7"/>
<line x1="165.30" y1="323.95" x2="165.30" y2="326.09" stroke="#1c4f8a" stroke-width="0.9"/>
<line x1="163.05" y1="323.95" x2="167.55" y2="323.95" stroke="#1c4f8a" stroke-width="0.9"/>
<rect x="161.95" y="326.09" width="6.70" height="46.21" fill="#1c4f8a" stroke="none" stroke-width="1" />
<line x1="165.30" y1="372.30" x2="165.30" y2="374.10" stroke="#222" stroke-width="0.7"/>
<line x1="176.30" y1="347.42" x2="176.30" y2="349.19" stroke="#3ca7df" stroke-width="0.9"/>
<line x1="174.05" y1="347.42" x2="178.55" y2="347.42" stroke="#3ca7df" stroke-width="0.9"/>
<rect x="172.95" y="349.19" width="6.70" height="23.11" fill="#3ca7df" stroke="none" stroke-width="1" />
<line x1="176.30" y1="372.30" x2="176.30" y2="374.10" stroke="#222" stroke-width="0.7"/>
<line x1="187.20" y1="365.90" x2="187.20" y2="366.26" stroke="#f0a035" stroke-width="0.9"/>
<line x1="184.95" y1="365.90" x2="189.45" y2="365.90" stroke="#f0a035" stroke-width="0.9"/>
<rect x="183.85" y="366.26" width="6.70" height="6.04" fill="#f0a035" stroke="none" stroke-width="1" />
<line x1="187.20" y1="372.30" x2="187.20" y2="374.10" stroke="#222" stroke-width="0.7"/>
<line x1="198.30" y1="368.39" x2="198.30" y2="368.75" stroke="#d81b72" stroke-width="0.9"/>
<line x1="196.05" y1="368.39" x2="200.55" y2="368.39" stroke="#d81b72" stroke-width="0.9"/>
<rect x="194.95" y="368.75" width="6.70" height="3.55" fill="#d81b72" stroke="none" stroke-width="1" />
<line x1="198.30" y1="372.30" x2="198.30" y2="374.10" stroke="#222" stroke-width="0.7"/>
<line x1="142.30" y1="279.40" x2="199.10" y2="279.40" stroke="#555" stroke-width="0.75"/>
<line x1="142.30" y1="277.90" x2="142.30" y2="280.90" stroke="#555" stroke-width="0.75"/>
<line x1="199.10" y1="277.90" x2="199.10" y2="280.90" stroke="#555" stroke-width="0.75"/>
<text x="170.70" y="278.00" font-size="6" fill="#333" text-anchor="middle" stroke="#333" stroke-width="0.22">ns</text>
<line x1="154.30" y1="285.60" x2="199.10" y2="285.60" stroke="#555" stroke-width="0.75"/>
<line x1="154.30" y1="284.10" x2="154.30" y2="287.10" stroke="#555" stroke-width="0.75"/>
<line x1="199.10" y1="284.10" x2="199.10" y2="287.10" stroke="#555" stroke-width="0.75"/>
<text x="176.70" y="286.90" font-size="6.0" fill="#222" text-anchor="middle" font-weight="bold">****</text>
<line x1="154.30" y1="290.70" x2="187.60" y2="290.70" stroke="#555" stroke-width="0.75"/>
<line x1="154.30" y1="289.20" x2="154.30" y2="292.20" stroke="#555" stroke-width="0.75"/>
<line x1="187.60" y1="289.20" x2="187.60" y2="292.20" stroke="#555" stroke-width="0.75"/>
<text x="170.95" y="292.00" font-size="6.0" fill="#222" text-anchor="middle" font-weight="bold">****</text>
<line x1="154.30" y1="295.90" x2="176.60" y2="295.90" stroke="#555" stroke-width="0.75"/>
<line x1="154.30" y1="294.40" x2="154.30" y2="297.40" stroke="#555" stroke-width="0.75"/>
<line x1="176.60" y1="294.40" x2="176.60" y2="297.40" stroke="#555" stroke-width="0.75"/>
<text x="165.45" y="297.20" font-size="6.0" fill="#222" text-anchor="middle" font-weight="bold">****</text>
<line x1="154.30" y1="300.70" x2="165.70" y2="300.70" stroke="#555" stroke-width="0.75"/>
<line x1="154.30" y1="299.20" x2="154.30" y2="302.20" stroke="#555" stroke-width="0.75"/>
<line x1="165.70" y1="299.20" x2="165.70" y2="302.20" stroke="#555" stroke-width="0.75"/>
<text x="160.00" y="302.00" font-size="6.0" fill="#222" text-anchor="middle" font-weight="bold">*</text>
<line x1="142.30" y1="306.00" x2="154.20" y2="306.00" stroke="#555" stroke-width="0.75"/>
<line x1="142.30" y1="304.50" x2="142.30" y2="307.50" stroke="#555" stroke-width="0.75"/>
<line x1="154.20" y1="304.50" x2="154.20" y2="307.50" stroke="#555" stroke-width="0.75"/>
<text x="148.25" y="307.30" font-size="6.0" fill="#222" text-anchor="middle" font-weight="bold">****</text>
<text transform="translate(142.90,385.30) rotate(-90)" x="0" y="2.09" font-size="5.8" fill="#222" text-anchor="middle" font-weight="normal" textLength="14.5" lengthAdjust="spacingAndGlyphs" stroke="#222" stroke-width="0.22">iNHS</text>
<text x="154.40" y="383.73" font-size="6.2" fill="#222" text-anchor="middle" font-weight="normal"  stroke="#222" stroke-width="0.22">0</text>
<text x="165.30" y="383.73" font-size="6.2" fill="#222" text-anchor="middle" font-weight="normal"  stroke="#222" stroke-width="0.22">1</text>
<text x="176.30" y="383.73" font-size="6.2" fill="#222" text-anchor="middle" font-weight="normal"  stroke="#222" stroke-width="0.22">2</text>
<text x="187.20" y="383.73" font-size="6.2" fill="#222" text-anchor="middle" font-weight="normal"  stroke="#222" stroke-width="0.22">5</text>
<text x="198.30" y="383.73" font-size="6.2" fill="#222" text-anchor="middle" font-weight="normal"  stroke="#222" stroke-width="0.22">10</text>
<line x1="151.30" y1="385.80" x2="205.20" y2="385.80" stroke="#333" stroke-width="0.8"/>
<text x="178.80" y="394.16" font-size="6.0" fill="#222" text-anchor="middle" font-weight="normal" textLength="60.5" lengthAdjust="spacingAndGlyphs" stroke="#222" stroke-width="0.22">NHS+CG001 (mg/kg)</text>
<text x="217.80" y="267.20" font-size="11" font-weight="bold" fill="#111" stroke="#111" stroke-width="0.45">E</text>
<text x="354.20" y="278.83" font-size="6.2" fill="#222" text-anchor="middle" font-weight="normal"  stroke="#222" stroke-width="0.22">NHS+CG001 (mg/kg)</text>
<line x1="320.50" y1="281.10" x2="387.60" y2="281.10" stroke="#333" stroke-width="0.8"/>
<line x1="232.50" y1="293.10" x2="232.50" y2="409.30" stroke="#111" stroke-width="1.1"/>
<path d="M230.70,294.30 L232.50,290.10 L234.30,294.30 Z" fill="#111"/>
<line x1="232.00" y1="409.30" x2="402.80" y2="409.30" stroke="#111" stroke-width="1.1"/>
<path d="M401.60,407.50 L405.80,409.30 L401.60,411.10 Z" fill="#111"/>
<text transform="translate(225.30,308.10) rotate(-90)" x="0" y="2.74" font-size="7.6" fill="#222" text-anchor="middle" font-weight="bold" textLength="36.2" lengthAdjust="spacingAndGlyphs">SSC-A (1*10<tspan dy="-2" font-size="4.6">5</tspan><tspan dy="2">)</tspan></text>
<text x="375.20" y="419.15" font-size="6.8" fill="#222" text-anchor="middle" font-weight="normal" textLength="53.5" lengthAdjust="spacingAndGlyphs" stroke="#222" stroke-width="0.22">FITC anti-C3/C3b/iC3b</text>
<text x="273.00" y="288.13" font-size="6.2" fill="#222" text-anchor="middle" font-weight="normal"  stroke="#222" stroke-width="0.22">iNHS</text>
<rect x="248.90" y="291.50" width="48.20" height="47.90" fill="#fff" stroke="#c8c8c8" stroke-width="0.7" />
<rect x="260.90" y="302.50" width="34.70" height="36.90" fill="none" stroke="#e8bcbc" stroke-width="0.7" />
<ellipse cx="254.90" cy="334.40" rx="5.00" ry="3.50" fill="#7070c8" opacity="0.35" filter="url(#b1)"/>
<g filter="url(#b2)" fill="#2b2490"><ellipse cx="254.60" cy="334.97" rx="3.69" ry="3.47"/><rect x="250.50" y="334.97" width="8.20" height="2.13" rx="2.05"/></g>
<text x="281.90" y="319.06" font-size="6.0" fill="#333" text-anchor="middle" font-weight="normal"  stroke="#333" stroke-width="0.22">0.42%</text>
<text x="245.50" y="293.43" font-size="4.8" fill="#666" text-anchor="end" font-weight="normal"  stroke="#666" stroke-width="0.22">100</text>
<text x="245.50" y="317.23" font-size="4.8" fill="#666" text-anchor="end" font-weight="normal"  stroke="#666" stroke-width="0.22">50</text>
<text x="245.50" y="341.13" font-size="4.8" fill="#666" text-anchor="end" font-weight="normal"  stroke="#666" stroke-width="0.22">0</text>
<text x="326.40" y="288.13" font-size="6.2" fill="#222" text-anchor="middle" font-weight="normal"  stroke="#222" stroke-width="0.22">0</text>
<rect x="302.30" y="291.50" width="48.20" height="47.90" fill="#fff" stroke="#c8c8c8" stroke-width="0.7" />
<rect x="314.30" y="302.50" width="34.70" height="36.90" fill="none" stroke="#e8bcbc" stroke-width="0.7" />
<ellipse cx="308.30" cy="334.40" rx="5.00" ry="3.50" fill="#7070c8" opacity="0.35" filter="url(#b1)"/>
<path d="M310.30,332.60 Q324.30,332.90 338.30,335.40 Q324.30,337.50 310.30,337.80 Z" fill="url(#gRt)" opacity="1" filter="url(#b2)"/>
<path d="M326.4,335.4h0 M330.1,334.0h0 M319.6,336.7h0 M323.3,334.0h0 M317.8,334.2h0 M326.4,334.6h0 M325.9,335.2h0 M316.5,336.5h0 M329.4,334.7h0 M323.2,334.6h0 M314.1,335.5h0 M336.6,334.0h0 M323.3,335.1h0 M332.5,335.5h0 M332.8,336.1h0 M321.4,334.0h0 M335.4,333.7h0 M334.4,336.5h0 M333.2,335.7h0 M332.7,335.9h0 M316.2,335.9h0 M313.4,334.1h0 M323.1,337.1h0 M321.2,336.4h0 M339.2,336.0h0 M328.5,334.1h0 M332.0,335.8h0 M330.6,336.5h0 M318.9,336.9h0 M323.1,335.5h0 M318.3,336.6h0 M319.3,336.2h0 M324.6,335.5h0 M312.8,336.2h0" stroke="#e03030" stroke-opacity="0.35" stroke-width="0.80" stroke-linecap="round" fill="none"/>
<g filter="url(#b2)" fill="#2b2490"><ellipse cx="308.00" cy="334.97" rx="3.69" ry="3.47"/><rect x="303.90" y="334.97" width="8.20" height="2.13" rx="2.05"/></g>
<text x="335.30" y="319.06" font-size="6.0" fill="#333" text-anchor="middle" font-weight="normal"  stroke="#333" stroke-width="0.22">10.66%</text>
<text x="379.40" y="288.13" font-size="6.2" fill="#222" text-anchor="middle" font-weight="normal"  stroke="#222" stroke-width="0.22">1</text>
<rect x="355.30" y="291.50" width="48.20" height="47.90" fill="#fff" stroke="#c8c8c8" stroke-width="0.7" />
<rect x="367.30" y="302.50" width="34.70" height="36.90" fill="none" stroke="#e8bcbc" stroke-width="0.7" />
<ellipse cx="361.30" cy="334.40" rx="5.00" ry="3.50" fill="#7070c8" opacity="0.35" filter="url(#b1)"/>
<path d="M363.30,332.60 Q377.30,332.90 391.30,335.40 Q377.30,337.50 363.30,337.80 Z" fill="url(#gRt)" opacity="1" filter="url(#b2)"/>
<path d="M369.7,337.1h0 M370.9,335.5h0 M366.2,337.7h0 M379.6,335.9h0 M373.4,334.8h0 M384.8,334.5h0 M365.6,334.6h0 M373.9,334.1h0 M370.2,336.8h0 M373.0,334.1h0 M371.6,333.6h0 M372.4,333.0h0 M368.0,334.1h0 M391.2,335.1h0 M380.6,334.3h0 M371.0,337.2h0 M372.3,336.3h0 M376.3,332.8h0 M383.6,335.5h0 M365.5,334.3h0 M374.5,334.7h0 M386.4,334.2h0 M388.2,336.1h0 M373.9,334.0h0 M385.9,335.5h0 M380.7,335.3h0 M365.6,334.2h0 M381.0,333.5h0 M384.0,334.7h0 M366.7,335.5h0 M385.7,335.9h0 M366.4,337.1h0 M377.4,336.5h0 M365.8,334.6h0" stroke="#e03030" stroke-opacity="0.35" stroke-width="0.80" stroke-linecap="round" fill="none"/>
<g filter="url(#b2)" fill="#2b2490"><ellipse cx="361.00" cy="334.97" rx="3.69" ry="3.47"/><rect x="356.90" y="334.97" width="8.20" height="2.13" rx="2.05"/></g>
<text x="388.30" y="319.06" font-size="6.0" fill="#333" text-anchor="middle" font-weight="normal"  stroke="#333" stroke-width="0.22">10.07%</text>
<text x="273.00" y="347.43" font-size="6.2" fill="#222" text-anchor="middle" font-weight="normal"  stroke="#222" stroke-width="0.22">2</text>
<rect x="248.90" y="350.80" width="48.20" height="47.00" fill="#fff" stroke="#c8c8c8" stroke-width="0.7" />
<rect x="260.90" y="361.80" width="34.70" height="36.00" fill="none" stroke="#e8bcbc" stroke-width="0.7" />
<ellipse cx="254.90" cy="392.80" rx="5.00" ry="3.50" fill="#7070c8" opacity="0.35" filter="url(#b1)"/>
<path d="M256.90,391.00 Q270.90,391.30 284.90,393.80 Q270.90,395.90 256.90,396.20 Z" fill="url(#gRt)" opacity="1" filter="url(#b2)"/>
<path d="M268.6,392.1h0 M259.4,393.3h0 M271.6,392.6h0 M285.8,394.8h0 M260.7,391.6h0 M264.7,393.7h0 M285.5,393.8h0 M263.3,393.7h0 M262.9,394.8h0 M280.7,392.5h0 M266.9,393.3h0 M259.3,393.0h0 M278.7,396.1h0 M280.6,393.8h0 M259.3,394.6h0 M270.2,392.9h0 M268.8,394.8h0 M271.6,392.4h0 M261.7,395.4h0 M282.9,393.4h0 M264.2,393.7h0 M270.1,392.5h0 M264.5,394.6h0 M263.3,394.1h0 M275.6,392.8h0 M278.7,392.7h0 M283.5,393.1h0 M267.6,394.1h0 M267.3,393.5h0 M273.3,396.1h0 M259.6,394.5h0 M272.0,395.0h0 M270.9,396.3h0 M278.7,392.0h0" stroke="#e03030" stroke-opacity="0.35" stroke-width="0.80" stroke-linecap="round" fill="none"/>
<g filter="url(#b2)" fill="#2b2490"><ellipse cx="254.60" cy="393.37" rx="3.69" ry="3.47"/><rect x="250.50" y="393.37" width="8.20" height="2.13" rx="2.05"/></g>
<text x="281.90" y="378.36" font-size="6.0" fill="#333" text-anchor="middle" font-weight="normal"  stroke="#333" stroke-width="0.22">10.96%</text>
<text x="245.50" y="352.73" font-size="4.8" fill="#666" text-anchor="end" font-weight="normal"  stroke="#666" stroke-width="0.22">100</text>
<text x="245.50" y="376.53" font-size="4.8" fill="#666" text-anchor="end" font-weight="normal"  stroke="#666" stroke-width="0.22">50</text>
<text x="245.50" y="399.53" font-size="4.8" fill="#666" text-anchor="end" font-weight="normal"  stroke="#666" stroke-width="0.22">0</text>
<text x="254.40" y="406.70" font-size="4.8" fill="#666" text-anchor="middle" font-weight="normal"  stroke="#666" stroke-width="0.22">0</text>
<text x="266.50" y="406.66" font-size="4.6" fill="#666" text-anchor="start" stroke="#666" stroke-width="0.22">10<tspan dy="-1.8" font-size="3.22">4</tspan></text>
<text x="279.00" y="406.66" font-size="4.6" fill="#666" text-anchor="start" stroke="#666" stroke-width="0.22">10<tspan dy="-1.8" font-size="3.22">5</tspan></text>
<text x="292.00" y="406.66" font-size="4.6" fill="#666" text-anchor="start" stroke="#666" stroke-width="0.22">10<tspan dy="-1.8" font-size="3.22">6</tspan></text>
<text x="326.40" y="347.43" font-size="6.2" fill="#222" text-anchor="middle" font-weight="normal"  stroke="#222" stroke-width="0.22">5</text>
<rect x="302.30" y="350.80" width="48.20" height="47.00" fill="#fff" stroke="#c8c8c8" stroke-width="0.7" />
<rect x="314.30" y="361.80" width="34.70" height="36.00" fill="none" stroke="#e8bcbc" stroke-width="0.7" />
<ellipse cx="308.30" cy="392.80" rx="5.00" ry="3.50" fill="#7070c8" opacity="0.35" filter="url(#b1)"/>
<path d="M310.30,391.00 Q316.05,391.30 321.80,393.80 Q316.05,395.90 310.30,396.20 Z" fill="url(#gRt)" opacity="0.5375" filter="url(#b2)"/>
<path d="M318.4,393.8h0 M314.2,394.4h0 M313.0,396.0h0 M321.6,393.9h0 M312.7,394.3h0 M319.8,395.0h0 M318.2,393.4h0 M313.9,395.3h0 M313.1,392.8h0 M312.5,393.7h0 M320.5,393.5h0" stroke="#e03030" stroke-opacity="0.35" stroke-width="0.80" stroke-linecap="round" fill="none"/>
<g filter="url(#b2)" fill="#2b2490"><ellipse cx="308.00" cy="393.37" rx="3.69" ry="3.47"/><rect x="303.90" y="393.37" width="8.20" height="2.13" rx="2.05"/></g>
<text x="335.30" y="378.36" font-size="6.0" fill="#333" text-anchor="middle" font-weight="normal"  stroke="#333" stroke-width="0.22">1.86%</text>
<text x="307.80" y="406.70" font-size="4.8" fill="#666" text-anchor="middle" font-weight="normal"  stroke="#666" stroke-width="0.22">0</text>
<text x="319.90" y="406.66" font-size="4.6" fill="#666" text-anchor="start" stroke="#666" stroke-width="0.22">10<tspan dy="-1.8" font-size="3.22">4</tspan></text>
<text x="332.40" y="406.66" font-size="4.6" fill="#666" text-anchor="start" stroke="#666" stroke-width="0.22">10<tspan dy="-1.8" font-size="3.22">5</tspan></text>
<text x="345.40" y="406.66" font-size="4.6" fill="#666" text-anchor="start" stroke="#666" stroke-width="0.22">10<tspan dy="-1.8" font-size="3.22">6</tspan></text>
<text x="379.40" y="347.43" font-size="6.2" fill="#222" text-anchor="middle" font-weight="normal"  stroke="#222" stroke-width="0.22">10</text>
<rect x="355.30" y="350.80" width="48.20" height="47.00" fill="#fff" stroke="#c8c8c8" stroke-width="0.7" />
<rect x="367.30" y="361.80" width="34.70" height="36.00" fill="none" stroke="#e8bcbc" stroke-width="0.7" />
<ellipse cx="361.30" cy="392.80" rx="5.00" ry="3.50" fill="#7070c8" opacity="0.35" filter="url(#b1)"/>
<path d="M363.30,391.00 Q367.40,391.30 371.50,393.80 Q367.40,395.90 363.30,396.20 Z" fill="url(#gRt)" opacity="0.425" filter="url(#b2)"/>
<path d="M366.6,394.0h0 M366.8,395.4h0 M368.5,395.3h0 M366.8,396.0h0 M371.0,395.0h0 M372.3,395.6h0 M367.2,394.9h0" stroke="#e03030" stroke-opacity="0.35" stroke-width="0.80" stroke-linecap="round" fill="none"/>
<g filter="url(#b2)" fill="#2b2490"><ellipse cx="361.00" cy="393.37" rx="3.69" ry="3.47"/><rect x="356.90" y="393.37" width="8.20" height="2.13" rx="2.05"/></g>
<text x="388.30" y="378.36" font-size="6.0" fill="#333" text-anchor="middle" font-weight="normal"  stroke="#333" stroke-width="0.22">0.72%</text>
<text x="360.80" y="406.70" font-size="4.8" fill="#666" text-anchor="middle" font-weight="normal"  stroke="#666" stroke-width="0.22">0</text>
<text x="372.90" y="406.66" font-size="4.6" fill="#666" text-anchor="start" stroke="#666" stroke-width="0.22">10<tspan dy="-1.8" font-size="3.22">4</tspan></text>
<text x="385.40" y="406.66" font-size="4.6" fill="#666" text-anchor="start" stroke="#666" stroke-width="0.22">10<tspan dy="-1.8" font-size="3.22">5</tspan></text>
<text x="398.40" y="406.66" font-size="4.6" fill="#666" text-anchor="start" stroke="#666" stroke-width="0.22">10<tspan dy="-1.8" font-size="3.22">6</tspan></text>
<text x="415.40" y="267.20" font-size="11" font-weight="bold" fill="#111" stroke="#111" stroke-width="0.45">F</text>
<line x1="439.50" y1="305.40" x2="439.50" y2="372.40" stroke="#222" stroke-width="0.9"/>
<line x1="439.50" y1="372.40" x2="509.40" y2="372.40" stroke="#222" stroke-width="0.9"/>
<line x1="437.50" y1="372.40" x2="439.50" y2="372.40" stroke="#222" stroke-width="0.8"/>
<text x="434.90" y="374.49" font-size="5.8" fill="#333" text-anchor="end" font-weight="normal"  stroke="#333" stroke-width="0.22">0</text>
<line x1="437.50" y1="363.10" x2="439.50" y2="363.10" stroke="#222" stroke-width="0.8"/>
<text x="434.90" y="365.19" font-size="5.8" fill="#333" text-anchor="end" font-weight="normal"  stroke="#333" stroke-width="0.22">2</text>
<line x1="437.50" y1="353.80" x2="439.50" y2="353.80" stroke="#222" stroke-width="0.8"/>
<text x="434.90" y="355.89" font-size="5.8" fill="#333" text-anchor="end" font-weight="normal"  stroke="#333" stroke-width="0.22">4</text>
<line x1="437.50" y1="344.50" x2="439.50" y2="344.50" stroke="#222" stroke-width="0.8"/>
<text x="434.90" y="346.59" font-size="5.8" fill="#333" text-anchor="end" font-weight="normal"  stroke="#333" stroke-width="0.22">6</text>
<line x1="437.50" y1="335.20" x2="439.50" y2="335.20" stroke="#222" stroke-width="0.8"/>
<text x="434.90" y="337.29" font-size="5.8" fill="#333" text-anchor="end" font-weight="normal"  stroke="#333" stroke-width="0.22">8</text>
<line x1="437.50" y1="325.90" x2="439.50" y2="325.90" stroke="#222" stroke-width="0.8"/>
<text x="434.90" y="327.99" font-size="5.8" fill="#333" text-anchor="end" font-weight="normal"  stroke="#333" stroke-width="0.22">10</text>
<line x1="437.50" y1="316.60" x2="439.50" y2="316.60" stroke="#222" stroke-width="0.8"/>
<text x="434.90" y="318.69" font-size="5.8" fill="#333" text-anchor="end" font-weight="normal"  stroke="#333" stroke-width="0.22">12</text>
<line x1="437.50" y1="307.30" x2="439.50" y2="307.30" stroke="#222" stroke-width="0.8"/>
<text x="434.90" y="309.39" font-size="5.8" fill="#333" text-anchor="end" font-weight="normal"  stroke="#333" stroke-width="0.22">14</text>
<text transform="translate(419.80,338.00) rotate(-90)" x="0" y="2.45" font-size="6.8" fill="#222" text-anchor="middle" font-weight="bold" textLength="80.8" lengthAdjust="spacingAndGlyphs">C3b deposition(% of total RBC)</text>
<line x1="447.50" y1="371.47" x2="447.50" y2="371.70" stroke="#555" stroke-width="0.9"/>
<line x1="445.25" y1="371.47" x2="449.75" y2="371.47" stroke="#555" stroke-width="0.9"/>
<rect x="444.00" y="371.70" width="7.00" height="0.70" fill="#c9c9cb" stroke="none" stroke-width="1" />
<line x1="447.50" y1="372.40" x2="447.50" y2="374.20" stroke="#222" stroke-width="0.7"/>
<line x1="458.60" y1="326.60" x2="458.60" y2="329.15" stroke="#c8102e" stroke-width="0.9"/>
<line x1="456.35" y1="326.60" x2="460.85" y2="326.60" stroke="#c8102e" stroke-width="0.9"/>
<rect x="455.10" y="329.15" width="7.00" height="43.25" fill="#c8102e" stroke="none" stroke-width="1" />
<line x1="458.60" y1="372.40" x2="458.60" y2="374.20" stroke="#222" stroke-width="0.7"/>
<line x1="469.50" y1="324.50" x2="469.50" y2="327.29" stroke="#1c4f8a" stroke-width="0.9"/>
<line x1="467.25" y1="324.50" x2="471.75" y2="324.50" stroke="#1c4f8a" stroke-width="0.9"/>
<rect x="466.00" y="327.29" width="7.00" height="45.10" fill="#1c4f8a" stroke="none" stroke-width="1" />
<line x1="469.50" y1="372.40" x2="469.50" y2="374.20" stroke="#222" stroke-width="0.7"/>
<line x1="480.40" y1="317.53" x2="480.40" y2="321.25" stroke="#3ca7df" stroke-width="0.9"/>
<line x1="478.15" y1="317.53" x2="482.65" y2="317.53" stroke="#3ca7df" stroke-width="0.9"/>
<rect x="476.90" y="321.25" width="7.00" height="51.15" fill="#3ca7df" stroke="none" stroke-width="1" />
<line x1="480.40" y1="372.40" x2="480.40" y2="374.20" stroke="#222" stroke-width="0.7"/>
<line x1="491.20" y1="361.70" x2="491.20" y2="363.10" stroke="#f0a035" stroke-width="0.9"/>
<line x1="488.95" y1="361.70" x2="493.45" y2="361.70" stroke="#f0a035" stroke-width="0.9"/>
<rect x="487.70" y="363.10" width="7.00" height="9.30" fill="#f0a035" stroke="none" stroke-width="1" />
<line x1="491.20" y1="372.40" x2="491.20" y2="374.20" stroke="#222" stroke-width="0.7"/>
<line x1="502.20" y1="368.91" x2="502.20" y2="369.84" stroke="#d81b72" stroke-width="0.9"/>
<line x1="499.95" y1="368.91" x2="504.45" y2="368.91" stroke="#d81b72" stroke-width="0.9"/>
<rect x="498.70" y="369.84" width="7.00" height="2.56" fill="#d81b72" stroke="none" stroke-width="1" />
<line x1="502.20" y1="372.40" x2="502.20" y2="374.20" stroke="#222" stroke-width="0.7"/>
<line x1="447.40" y1="289.40" x2="503.00" y2="289.40" stroke="#555" stroke-width="0.75"/>
<line x1="447.40" y1="287.90" x2="447.40" y2="290.90" stroke="#555" stroke-width="0.75"/>
<line x1="503.00" y1="287.90" x2="503.00" y2="290.90" stroke="#555" stroke-width="0.75"/>
<text x="475.20" y="288.00" font-size="6" fill="#333" text-anchor="middle" stroke="#333" stroke-width="0.22">ns</text>
<line x1="458.00" y1="297.20" x2="503.00" y2="297.20" stroke="#555" stroke-width="0.75"/>
<line x1="458.00" y1="295.70" x2="458.00" y2="298.70" stroke="#555" stroke-width="0.75"/>
<line x1="503.00" y1="295.70" x2="503.00" y2="298.70" stroke="#555" stroke-width="0.75"/>
<text x="480.50" y="298.50" font-size="6.0" fill="#222" text-anchor="middle" font-weight="bold">****</text>
<line x1="458.00" y1="304.90" x2="491.30" y2="304.90" stroke="#555" stroke-width="0.75"/>
<line x1="458.00" y1="303.40" x2="458.00" y2="306.40" stroke="#555" stroke-width="0.75"/>
<line x1="491.30" y1="303.40" x2="491.30" y2="306.40" stroke="#555" stroke-width="0.75"/>
<text x="474.65" y="306.20" font-size="6.0" fill="#222" text-anchor="middle" font-weight="bold">****</text>
<line x1="458.00" y1="312.80" x2="480.90" y2="312.80" stroke="#555" stroke-width="0.75"/>
<line x1="458.00" y1="311.30" x2="458.00" y2="314.30" stroke="#555" stroke-width="0.75"/>
<line x1="480.90" y1="311.30" x2="480.90" y2="314.30" stroke="#555" stroke-width="0.75"/>
<text x="469.45" y="311.40" font-size="6" fill="#333" text-anchor="middle" stroke="#333" stroke-width="0.22">ns</text>
<line x1="458.80" y1="320.50" x2="469.80" y2="320.50" stroke="#555" stroke-width="0.75"/>
<line x1="458.80" y1="319.00" x2="458.80" y2="322.00" stroke="#555" stroke-width="0.75"/>
<line x1="469.80" y1="319.00" x2="469.80" y2="322.00" stroke="#555" stroke-width="0.75"/>
<text x="464.30" y="319.10" font-size="6" fill="#333" text-anchor="middle" stroke="#333" stroke-width="0.22">ns</text>
<text transform="translate(446.40,384.30) rotate(-90)" x="0" y="2.09" font-size="5.8" fill="#222" text-anchor="middle" font-weight="normal" textLength="14.1" lengthAdjust="spacingAndGlyphs" stroke="#222" stroke-width="0.22">iNHS</text>
<text x="458.60" y="384.13" font-size="6.2" fill="#222" text-anchor="middle" font-weight="normal"  stroke="#222" stroke-width="0.22">0</text>
<text x="469.50" y="384.13" font-size="6.2" fill="#222" text-anchor="middle" font-weight="normal"  stroke="#222" stroke-width="0.22">1</text>
<text x="480.40" y="384.13" font-size="6.2" fill="#222" text-anchor="middle" font-weight="normal"  stroke="#222" stroke-width="0.22">2</text>
<text x="491.20" y="384.13" font-size="6.2" fill="#222" text-anchor="middle" font-weight="normal"  stroke="#222" stroke-width="0.22">5</text>
<text x="502.20" y="384.13" font-size="6.2" fill="#222" text-anchor="middle" font-weight="normal"  stroke="#222" stroke-width="0.22">10</text>
<line x1="455.50" y1="385.50" x2="509.40" y2="385.50" stroke="#333" stroke-width="0.8"/>
<text x="483.50" y="393.16" font-size="6.0" fill="#222" text-anchor="middle" font-weight="normal" textLength="60.3" lengthAdjust="spacingAndGlyphs" stroke="#222" stroke-width="0.22">NHS+CG001 (mg/kg)</text>
<text x="6.50" y="441.20" font-size="11" font-weight="bold" fill="#111" stroke="#111" stroke-width="0.45">G</text>
<text x="56.00" y="455.22" font-size="5.6" fill="#222" text-anchor="middle" font-weight="normal"  stroke="#222" stroke-width="0.22">0 hr</text>
<text x="89.90" y="455.22" font-size="5.6" fill="#222" text-anchor="middle" font-weight="normal"  stroke="#222" stroke-width="0.22">1 hr</text>
<rect x="40.00" y="459.20" width="63.30" height="67.00" fill="#dfe1e3" stroke="none" stroke-width="1" />
<g filter="url(#b2)"><path d="M43.00,461.50 Q55.50,459.00 68.00,461.50 C67.50,467.00 65.50,470.50 62.50,471.40 L61.50,476.00 Q55.50,477.50 49.50,476.00 L48.50,471.40 C45.50,470.50 43.50,467.00 43.00,461.50 Z" fill="#ecedee" stroke="#c6c9cc" stroke-width="0.7"/><line x1="45.10" y1="461.00" x2="47.90" y2="471.00" stroke="#d6d8da" stroke-width="0.7"/><line x1="47.70" y1="461.00" x2="49.80" y2="471.00" stroke="#d6d8da" stroke-width="0.7"/><line x1="50.30" y1="461.00" x2="51.70" y2="471.00" stroke="#d6d8da" stroke-width="0.7"/><line x1="52.90" y1="461.00" x2="53.60" y2="471.00" stroke="#d6d8da" stroke-width="0.7"/><line x1="55.50" y1="461.00" x2="55.50" y2="471.00" stroke="#d6d8da" stroke-width="0.7"/><line x1="58.10" y1="461.00" x2="57.40" y2="471.00" stroke="#d6d8da" stroke-width="0.7"/><line x1="60.70" y1="461.00" x2="59.30" y2="471.00" stroke="#d6d8da" stroke-width="0.7"/><line x1="63.30" y1="461.00" x2="61.20" y2="471.00" stroke="#d6d8da" stroke-width="0.7"/><line x1="65.90" y1="461.00" x2="63.10" y2="471.00" stroke="#d6d8da" stroke-width="0.7"/><path d="M43.50,461.80 Q55.50,464.50 67.50,461.80" fill="none" stroke="#c4c7ca" stroke-width="0.6"/><rect x="50.30" y="471.80" width="10.4" height="4.2" rx="1.5" fill="#ebe7d0" opacity="0.9"/><path d="M49.50,471.60 Q55.50,473.50 61.50,471.60" fill="none" stroke="#e2dbb4" stroke-width="0.7"/></g>
<g filter="url(#b2)"><path d="M75.00,461.50 Q87.50,459.00 100.00,461.50 C99.50,467.00 97.50,470.50 94.50,471.40 L93.50,476.00 Q87.50,477.50 81.50,476.00 L80.50,471.40 C77.50,470.50 75.50,467.00 75.00,461.50 Z" fill="#ecedee" stroke="#c6c9cc" stroke-width="0.7"/><line x1="77.10" y1="461.00" x2="79.90" y2="471.00" stroke="#d6d8da" stroke-width="0.7"/><line x1="79.70" y1="461.00" x2="81.80" y2="471.00" stroke="#d6d8da" stroke-width="0.7"/><line x1="82.30" y1="461.00" x2="83.70" y2="471.00" stroke="#d6d8da" stroke-width="0.7"/><line x1="84.90" y1="461.00" x2="85.60" y2="471.00" stroke="#d6d8da" stroke-width="0.7"/><line x1="87.50" y1="461.00" x2="87.50" y2="471.00" stroke="#d6d8da" stroke-width="0.7"/><line x1="90.10" y1="461.00" x2="89.40" y2="471.00" stroke="#d6d8da" stroke-width="0.7"/><line x1="92.70" y1="461.00" x2="91.30" y2="471.00" stroke="#d6d8da" stroke-width="0.7"/><line x1="95.30" y1="461.00" x2="93.20" y2="471.00" stroke="#d6d8da" stroke-width="0.7"/><line x1="97.90" y1="461.00" x2="95.10" y2="471.00" stroke="#d6d8da" stroke-width="0.7"/><path d="M75.50,461.80 Q87.50,464.50 99.50,461.80" fill="none" stroke="#c4c7ca" stroke-width="0.6"/><rect x="82.30" y="471.80" width="10.4" height="4.2" rx="1.5" fill="#ebe7d0" opacity="0.9"/><path d="M81.50,471.60 Q87.50,473.50 93.50,471.60" fill="none" stroke="#e2dbb4" stroke-width="0.7"/></g>
<g filter="url(#b2)"><path d="M43.00,477.80 Q55.50,475.30 68.00,477.80 C67.50,483.30 65.50,486.80 62.50,487.70 L61.50,492.30 Q55.50,493.80 49.50,492.30 L48.50,487.70 C45.50,486.80 43.50,483.30 43.00,477.80 Z" fill="#ecedee" stroke="#c6c9cc" stroke-width="0.7"/><line x1="45.10" y1="477.30" x2="47.90" y2="487.30" stroke="#d6d8da" stroke-width="0.7"/><line x1="47.70" y1="477.30" x2="49.80" y2="487.30" stroke="#d6d8da" stroke-width="0.7"/><line x1="50.30" y1="477.30" x2="51.70" y2="487.30" stroke="#d6d8da" stroke-width="0.7"/><line x1="52.90" y1="477.30" x2="53.60" y2="487.30" stroke="#d6d8da" stroke-width="0.7"/><line x1="55.50" y1="477.30" x2="55.50" y2="487.30" stroke="#d6d8da" stroke-width="0.7"/><line x1="58.10" y1="477.30" x2="57.40" y2="487.30" stroke="#d6d8da" stroke-width="0.7"/><line x1="60.70" y1="477.30" x2="59.30" y2="487.30" stroke="#d6d8da" stroke-width="0.7"/><line x1="63.30" y1="477.30" x2="61.20" y2="487.30" stroke="#d6d8da" stroke-width="0.7"/><line x1="65.90" y1="477.30" x2="63.10" y2="487.30" stroke="#d6d8da" stroke-width="0.7"/><path d="M43.50,478.10 Q55.50,480.80 67.50,478.10" fill="none" stroke="#c4c7ca" stroke-width="0.6"/><rect x="50.30" y="488.10" width="10.4" height="4.2" rx="1.5" fill="#ebe7d0" opacity="0.9"/><path d="M49.50,487.90 Q55.50,489.80 61.50,487.90" fill="none" stroke="#e2dbb4" stroke-width="0.7"/></g>
<g filter="url(#b2)"><path d="M75.00,477.80 Q87.50,475.30 100.00,477.80 C99.50,483.30 97.50,486.80 94.50,487.70 L93.50,492.30 Q87.50,493.80 81.50,492.30 L80.50,487.70 C77.50,486.80 75.50,483.30 75.00,477.80 Z" fill="#ecedee" stroke="#c6c9cc" stroke-width="0.7"/><line x1="77.10" y1="477.30" x2="79.90" y2="487.30" stroke="#d6d8da" stroke-width="0.7"/><line x1="79.70" y1="477.30" x2="81.80" y2="487.30" stroke="#d6d8da" stroke-width="0.7"/><line x1="82.30" y1="477.30" x2="83.70" y2="487.30" stroke="#d6d8da" stroke-width="0.7"/><line x1="84.90" y1="477.30" x2="85.60" y2="487.30" stroke="#d6d8da" stroke-width="0.7"/><line x1="87.50" y1="477.30" x2="87.50" y2="487.30" stroke="#d6d8da" stroke-width="0.7"/><line x1="90.10" y1="477.30" x2="89.40" y2="487.30" stroke="#d6d8da" stroke-width="0.7"/><line x1="92.70" y1="477.30" x2="91.30" y2="487.30" stroke="#d6d8da" stroke-width="0.7"/><line x1="95.30" y1="477.30" x2="93.20" y2="487.30" stroke="#d6d8da" stroke-width="0.7"/><line x1="97.90" y1="477.30" x2="95.10" y2="487.30" stroke="#d6d8da" stroke-width="0.7"/><path d="M75.50,478.10 Q87.50,480.80 99.50,478.10" fill="none" stroke="#c4c7ca" stroke-width="0.6"/><rect x="82.30" y="488.10" width="10.4" height="4.2" rx="1.5" fill="#ebe7d0" opacity="0.9"/><path d="M81.50,487.90 Q87.50,489.80 93.50,487.90" fill="none" stroke="#e2dbb4" stroke-width="0.7"/></g>
<ellipse cx="89.20" cy="490.40" rx="5.50" ry="2.00" fill="#b01010" filter="url(#b2)"/>
<ellipse cx="89.20" cy="490.40" rx="4.50" ry="1.40" fill="#b01010"/>
<g filter="url(#b2)"><path d="M43.00,494.00 Q55.50,491.50 68.00,494.00 C67.50,499.50 65.50,503.00 62.50,503.90 L61.50,508.50 Q55.50,510.00 49.50,508.50 L48.50,503.90 C45.50,503.00 43.50,499.50 43.00,494.00 Z" fill="#ecedee" stroke="#c6c9cc" stroke-width="0.7"/><line x1="45.10" y1="493.50" x2="47.90" y2="503.50" stroke="#d6d8da" stroke-width="0.7"/><line x1="47.70" y1="493.50" x2="49.80" y2="503.50" stroke="#d6d8da" stroke-width="0.7"/><line x1="50.30" y1="493.50" x2="51.70" y2="503.50" stroke="#d6d8da" stroke-width="0.7"/><line x1="52.90" y1="493.50" x2="53.60" y2="503.50" stroke="#d6d8da" stroke-width="0.7"/><line x1="55.50" y1="493.50" x2="55.50" y2="503.50" stroke="#d6d8da" stroke-width="0.7"/><line x1="58.10" y1="493.50" x2="57.40" y2="503.50" stroke="#d6d8da" stroke-width="0.7"/><line x1="60.70" y1="493.50" x2="59.30" y2="503.50" stroke="#d6d8da" stroke-width="0.7"/><line x1="63.30" y1="493.50" x2="61.20" y2="503.50" stroke="#d6d8da" stroke-width="0.7"/><line x1="65.90" y1="493.50" x2="63.10" y2="503.50" stroke="#d6d8da" stroke-width="0.7"/><path d="M43.50,494.30 Q55.50,497.00 67.50,494.30" fill="none" stroke="#c4c7ca" stroke-width="0.6"/><rect x="50.30" y="504.30" width="10.4" height="4.2" rx="1.5" fill="#ebe7d0" opacity="0.9"/><path d="M49.50,504.10 Q55.50,506.00 61.50,504.10" fill="none" stroke="#e2dbb4" stroke-width="0.7"/></g>
<g filter="url(#b2)"><path d="M75.00,494.00 Q87.50,491.50 100.00,494.00 C99.50,499.50 97.50,503.00 94.50,503.90 L93.50,508.50 Q87.50,510.00 81.50,508.50 L80.50,503.90 C77.50,503.00 75.50,499.50 75.00,494.00 Z" fill="#ecedee" stroke="#c6c9cc" stroke-width="0.7"/><line x1="77.10" y1="493.50" x2="79.90" y2="503.50" stroke="#d6d8da" stroke-width="0.7"/><line x1="79.70" y1="493.50" x2="81.80" y2="503.50" stroke="#d6d8da" stroke-width="0.7"/><line x1="82.30" y1="493.50" x2="83.70" y2="503.50" stroke="#d6d8da" stroke-width="0.7"/><line x1="84.90" y1="493.50" x2="85.60" y2="503.50" stroke="#d6d8da" stroke-width="0.7"/><line x1="87.50" y1="493.50" x2="87.50" y2="503.50" stroke="#d6d8da" stroke-width="0.7"/><line x1="90.10" y1="493.50" x2="89.40" y2="503.50" stroke="#d6d8da" stroke-width="0.7"/><line x1="92.70" y1="493.50" x2="91.30" y2="503.50" stroke="#d6d8da" stroke-width="0.7"/><line x1="95.30" y1="493.50" x2="93.20" y2="503.50" stroke="#d6d8da" stroke-width="0.7"/><line x1="97.90" y1="493.50" x2="95.10" y2="503.50" stroke="#d6d8da" stroke-width="0.7"/><path d="M75.50,494.30 Q87.50,497.00 99.50,494.30" fill="none" stroke="#c4c7ca" stroke-width="0.6"/><rect x="82.30" y="504.30" width="10.4" height="4.2" rx="1.5" fill="#ebe7d0" opacity="0.9"/><path d="M81.50,504.10 Q87.50,506.00 93.50,504.10" fill="none" stroke="#e2dbb4" stroke-width="0.7"/></g>
<ellipse cx="87.30" cy="506.00" rx="5.00" ry="2.10" fill="#b01010" filter="url(#b2)"/>
<ellipse cx="87.30" cy="506.00" rx="4.00" ry="1.50" fill="#b01010"/>
<g filter="url(#b2)"><path d="M43.00,510.00 Q55.50,507.50 68.00,510.00 C67.50,515.50 65.50,519.00 62.50,519.90 L61.50,524.50 Q55.50,526.00 49.50,524.50 L48.50,519.90 C45.50,519.00 43.50,515.50 43.00,510.00 Z" fill="#ecedee" stroke="#c6c9cc" stroke-width="0.7"/><line x1="45.10" y1="509.50" x2="47.90" y2="519.50" stroke="#d6d8da" stroke-width="0.7"/><line x1="47.70" y1="509.50" x2="49.80" y2="519.50" stroke="#d6d8da" stroke-width="0.7"/><line x1="50.30" y1="509.50" x2="51.70" y2="519.50" stroke="#d6d8da" stroke-width="0.7"/><line x1="52.90" y1="509.50" x2="53.60" y2="519.50" stroke="#d6d8da" stroke-width="0.7"/><line x1="55.50" y1="509.50" x2="55.50" y2="519.50" stroke="#d6d8da" stroke-width="0.7"/><line x1="58.10" y1="509.50" x2="57.40" y2="519.50" stroke="#d6d8da" stroke-width="0.7"/><line x1="60.70" y1="509.50" x2="59.30" y2="519.50" stroke="#d6d8da" stroke-width="0.7"/><line x1="63.30" y1="509.50" x2="61.20" y2="519.50" stroke="#d6d8da" stroke-width="0.7"/><line x1="65.90" y1="509.50" x2="63.10" y2="519.50" stroke="#d6d8da" stroke-width="0.7"/><path d="M43.50,510.30 Q55.50,513.00 67.50,510.30" fill="none" stroke="#c4c7ca" stroke-width="0.6"/><rect x="50.30" y="520.30" width="10.4" height="4.2" rx="1.5" fill="#ebe7d0" opacity="0.9"/><path d="M49.50,520.10 Q55.50,522.00 61.50,520.10" fill="none" stroke="#e2dbb4" stroke-width="0.7"/></g>
<g filter="url(#b2)"><path d="M75.00,510.00 Q87.50,507.50 100.00,510.00 C99.50,515.50 97.50,519.00 94.50,519.90 L93.50,524.50 Q87.50,526.00 81.50,524.50 L80.50,519.90 C77.50,519.00 75.50,515.50 75.00,510.00 Z" fill="#ecedee" stroke="#c6c9cc" stroke-width="0.7"/><line x1="77.10" y1="509.50" x2="79.90" y2="519.50" stroke="#d6d8da" stroke-width="0.7"/><line x1="79.70" y1="509.50" x2="81.80" y2="519.50" stroke="#d6d8da" stroke-width="0.7"/><line x1="82.30" y1="509.50" x2="83.70" y2="519.50" stroke="#d6d8da" stroke-width="0.7"/><line x1="84.90" y1="509.50" x2="85.60" y2="519.50" stroke="#d6d8da" stroke-width="0.7"/><line x1="87.50" y1="509.50" x2="87.50" y2="519.50" stroke="#d6d8da" stroke-width="0.7"/><line x1="90.10" y1="509.50" x2="89.40" y2="519.50" stroke="#d6d8da" stroke-width="0.7"/><line x1="92.70" y1="509.50" x2="91.30" y2="519.50" stroke="#d6d8da" stroke-width="0.7"/><line x1="95.30" y1="509.50" x2="93.20" y2="519.50" stroke="#d6d8da" stroke-width="0.7"/><line x1="97.90" y1="509.50" x2="95.10" y2="519.50" stroke="#d6d8da" stroke-width="0.7"/><path d="M75.50,510.30 Q87.50,513.00 99.50,510.30" fill="none" stroke="#c4c7ca" stroke-width="0.6"/><rect x="82.30" y="520.30" width="10.4" height="4.2" rx="1.5" fill="#ebe7d0" opacity="0.9"/><path d="M81.50,520.10 Q87.50,522.00 93.50,520.10" fill="none" stroke="#e2dbb4" stroke-width="0.7"/></g>
<text x="37.70" y="471.93" font-size="6.2" fill="#222" text-anchor="end" font-weight="normal"  stroke="#222" stroke-width="0.22">iNHS</text>
<text x="37.70" y="487.83" font-size="6.2" fill="#222" text-anchor="end" font-weight="normal"  stroke="#222" stroke-width="0.22">NHS</text>
<text x="37.70" y="500.53" font-size="6.2" fill="#222" text-anchor="end" font-weight="normal"  stroke="#222" stroke-width="0.22">Eculizumab</text>
<text x="37.70" y="507.93" font-size="6.2" fill="#222" text-anchor="end" font-weight="normal"  stroke="#222" stroke-width="0.22">(50mg/kg)</text>
<text x="37.70" y="516.33" font-size="6.2" fill="#222" text-anchor="end" font-weight="normal"  stroke="#222" stroke-width="0.22">Iptacopan</text>
<text x="37.70" y="524.43" font-size="6.2" fill="#222" text-anchor="end" font-weight="normal"  stroke="#222" stroke-width="0.22">(50mg/kg)</text>
<text x="112.80" y="441.20" font-size="11" font-weight="bold" fill="#111" stroke="#111" stroke-width="0.45">H</text>
<line x1="138.20" y1="462.50" x2="138.20" y2="531.80" stroke="#222" stroke-width="0.9"/>
<line x1="138.20" y1="531.80" x2="206.10" y2="531.80" stroke="#222" stroke-width="0.9"/>
<line x1="136.20" y1="531.80" x2="138.20" y2="531.80" stroke="#222" stroke-width="0.8"/>
<text x="133.60" y="533.89" font-size="5.8" fill="#333" text-anchor="end" font-weight="normal"  stroke="#333" stroke-width="0.22">0.0</text>
<line x1="136.20" y1="518.30" x2="138.20" y2="518.30" stroke="#222" stroke-width="0.8"/>
<text x="133.60" y="520.39" font-size="5.8" fill="#333" text-anchor="end" font-weight="normal"  stroke="#333" stroke-width="0.22">0.5</text>
<line x1="136.20" y1="504.80" x2="138.20" y2="504.80" stroke="#222" stroke-width="0.8"/>
<text x="133.60" y="506.89" font-size="5.8" fill="#333" text-anchor="end" font-weight="normal"  stroke="#333" stroke-width="0.22">1.0</text>
<line x1="136.20" y1="491.30" x2="138.20" y2="491.30" stroke="#222" stroke-width="0.8"/>
<text x="133.60" y="493.39" font-size="5.8" fill="#333" text-anchor="end" font-weight="normal"  stroke="#333" stroke-width="0.22">1.5</text>
<line x1="136.20" y1="477.80" x2="138.20" y2="477.80" stroke="#222" stroke-width="0.8"/>
<text x="133.60" y="479.89" font-size="5.8" fill="#333" text-anchor="end" font-weight="normal"  stroke="#333" stroke-width="0.22">2.0</text>
<line x1="136.20" y1="464.30" x2="138.20" y2="464.30" stroke="#222" stroke-width="0.8"/>
<text x="133.60" y="466.39" font-size="5.8" fill="#333" text-anchor="end" font-weight="normal"  stroke="#333" stroke-width="0.22">2.5</text>
<text transform="translate(116.80,497.40) rotate(-90)" x="0" y="2.59" font-size="7.2" fill="#222" text-anchor="middle" font-weight="bold" textLength="51.6" lengthAdjust="spacingAndGlyphs">Plasma OD (414nM)</text>
<line x1="149.30" y1="526.94" x2="149.30" y2="528.29" stroke="#555" stroke-width="0.9"/>
<line x1="147.30" y1="526.94" x2="151.30" y2="526.94" stroke="#555" stroke-width="0.9"/>
<rect x="144.30" y="528.29" width="10.00" height="3.51" fill="#c9c9cb" stroke="none" stroke-width="1" />
<line x1="149.30" y1="531.80" x2="149.30" y2="533.60" stroke="#222" stroke-width="0.7"/>
<line x1="165.00" y1="478.07" x2="165.00" y2="485.36" stroke="#c8102e" stroke-width="0.9"/>
<line x1="163.00" y1="478.07" x2="167.00" y2="478.07" stroke="#c8102e" stroke-width="0.9"/>
<rect x="160.00" y="485.36" width="10.00" height="46.44" fill="#c8102e" stroke="none" stroke-width="1" />
<line x1="165.00" y1="531.80" x2="165.00" y2="533.60" stroke="#222" stroke-width="0.7"/>
<line x1="180.10" y1="481.85" x2="180.10" y2="489.14" stroke="#1c4f8a" stroke-width="0.9"/>
<line x1="178.10" y1="481.85" x2="182.10" y2="481.85" stroke="#1c4f8a" stroke-width="0.9"/>
<rect x="175.10" y="489.14" width="10.00" height="42.66" fill="#1c4f8a" stroke="none" stroke-width="1" />
<line x1="180.10" y1="531.80" x2="180.10" y2="533.60" stroke="#222" stroke-width="0.7"/>
<line x1="195.40" y1="524.51" x2="195.40" y2="527.21" stroke="#3ca7df" stroke-width="0.9"/>
<line x1="193.40" y1="524.51" x2="197.40" y2="524.51" stroke="#3ca7df" stroke-width="0.9"/>
<rect x="190.40" y="527.21" width="10.00" height="4.59" fill="#3ca7df" stroke="none" stroke-width="1" />
<line x1="195.40" y1="531.80" x2="195.40" y2="533.60" stroke="#222" stroke-width="0.7"/>
<line x1="149.30" y1="456.60" x2="195.40" y2="456.60" stroke="#555" stroke-width="0.75"/>
<line x1="149.30" y1="455.10" x2="149.30" y2="458.10" stroke="#555" stroke-width="0.75"/>
<line x1="195.40" y1="455.10" x2="195.40" y2="458.10" stroke="#555" stroke-width="0.75"/>
<text x="172.35" y="455.20" font-size="6" fill="#333" text-anchor="middle" stroke="#333" stroke-width="0.22">ns</text>
<line x1="164.20" y1="462.20" x2="195.40" y2="462.20" stroke="#555" stroke-width="0.75"/>
<line x1="164.20" y1="460.70" x2="164.20" y2="463.70" stroke="#555" stroke-width="0.75"/>
<line x1="195.40" y1="460.70" x2="195.40" y2="463.70" stroke="#555" stroke-width="0.75"/>
<text x="179.80" y="463.50" font-size="6.0" fill="#222" text-anchor="middle" font-weight="bold">****</text>
<line x1="164.20" y1="467.60" x2="180.40" y2="467.60" stroke="#555" stroke-width="0.75"/>
<line x1="164.20" y1="466.10" x2="164.20" y2="469.10" stroke="#555" stroke-width="0.75"/>
<line x1="180.40" y1="466.10" x2="180.40" y2="469.10" stroke="#555" stroke-width="0.75"/>
<text x="172.30" y="466.20" font-size="6" fill="#333" text-anchor="middle" stroke="#333" stroke-width="0.22">ns</text>
<line x1="149.30" y1="472.90" x2="164.20" y2="472.90" stroke="#555" stroke-width="0.75"/>
<line x1="149.30" y1="471.40" x2="149.30" y2="474.40" stroke="#555" stroke-width="0.75"/>
<line x1="164.20" y1="471.40" x2="164.20" y2="474.40" stroke="#555" stroke-width="0.75"/>
<text x="156.75" y="474.20" font-size="6.0" fill="#222" text-anchor="middle" font-weight="bold">****</text>
<text transform="translate(151.90,539.40) rotate(-45)" x="0" y="0" font-size="6.0" fill="#222" text-anchor="end" stroke="#222" stroke-width="0.22">iNHS</text>
<text transform="translate(167.60,539.40) rotate(-45)" x="0" y="0" font-size="6.0" fill="#222" text-anchor="end" stroke="#222" stroke-width="0.22">NHS</text>
<text transform="translate(182.70,539.40) rotate(-45)" x="0" y="0" font-size="6.0" fill="#222" text-anchor="end" stroke="#222" stroke-width="0.22">Eculizumab</text>
<text transform="translate(198.00,539.40) rotate(-45)" x="0" y="0" font-size="6.0" fill="#222" text-anchor="end" stroke="#222" stroke-width="0.22">Iptacopan</text>
<text x="214.60" y="442.00" font-size="11" font-weight="bold" fill="#111" stroke="#111" stroke-width="0.45">I</text>
<line x1="230.90" y1="458.50" x2="230.90" y2="582.30" stroke="#111" stroke-width="1.1"/>
<path d="M229.10,459.70 L230.90,455.50 L232.70,459.70 Z" fill="#111"/>
<line x1="230.40" y1="582.30" x2="345.30" y2="582.30" stroke="#111" stroke-width="1.1"/>
<path d="M344.10,580.50 L348.30,582.30 L344.10,584.10 Z" fill="#111"/>
<text transform="translate(222.70,473.30) rotate(-90)" x="0" y="2.74" font-size="7.6" fill="#222" text-anchor="middle" font-weight="bold" textLength="35.8" lengthAdjust="spacingAndGlyphs">SSC-A (1*10<tspan dy="-2" font-size="4.6">5</tspan><tspan dy="2">)</tspan></text>
<text x="319.90" y="592.59" font-size="7.2" fill="#222" text-anchor="middle" font-weight="normal" textLength="57.8" lengthAdjust="spacingAndGlyphs" stroke="#222" stroke-width="0.22">FITC anti-C3/C3b/iC3b</text>
<text x="269.60" y="453.98" font-size="8.0" fill="#222" text-anchor="middle" font-weight="normal" stroke="#222" stroke-width="0.16">iNHS</text>
<rect x="245.40" y="457.00" width="48.40" height="48.40" fill="#fff" stroke="#c8c8c8" stroke-width="0.7" />
<rect x="257.10" y="463.50" width="35.00" height="41.90" fill="none" stroke="#e8bcbc" stroke-width="0.7" />
<ellipse cx="251.60" cy="488.40" rx="4.80" ry="6.00" fill="#7070d0" opacity="0.35" filter="url(#b1)"/>
<path d="M252.8,491.4h0 M249.3,490.3h0 M251.3,491.8h0 M253.6,485.6h0 M248.4,489.2h0 M254.4,484.2h0 M255.9,484.5h0 M255.4,488.3h0 M250.4,491.7h0 M253.8,480.9h0 M248.2,492.2h0 M251.5,488.0h0 M252.0,487.3h0 M248.2,489.9h0 M255.0,489.3h0 M254.6,490.8h0 M247.7,481.1h0 M252.5,487.9h0 M255.4,491.5h0 M253.0,488.1h0 M251.2,491.0h0 M249.5,492.2h0 M254.1,489.3h0 M249.9,486.6h0 M248.2,489.7h0 M252.1,490.8h0 M251.3,485.9h0 M247.7,490.1h0 M252.9,492.2h0 M248.5,488.3h0 M250.6,490.2h0 M253.0,490.8h0 M255.4,489.8h0 M250.2,486.8h0 M251.5,483.9h0 M248.7,483.9h0 M248.4,486.7h0 M251.6,490.0h0 M251.4,491.8h0 M248.8,486.6h0 M250.5,491.1h0 M249.1,489.6h0 M248.5,490.5h0 M249.4,488.3h0 M255.0,488.1h0 M247.5,487.0h0 M254.1,490.4h0 M252.2,491.0h0 M253.8,489.1h0 M248.7,492.3h0 M250.7,491.2h0 M251.8,489.7h0 M248.1,482.2h0 M252.3,491.7h0 M254.1,485.7h0 M253.4,488.9h0 M252.5,491.0h0 M255.8,485.7h0 M253.3,490.6h0 M254.3,487.4h0" stroke="#5a5ac8" stroke-opacity="0.25" stroke-width="0.90" stroke-linecap="round" fill="none"/>
<g filter="url(#b2)" fill="#2b2490"><ellipse cx="252.00" cy="496.45" rx="4.77" ry="5.75"/><rect x="246.70" y="496.45" width="10.60" height="5.75" rx="2.50"/></g>
<text x="278.40" y="483.36" font-size="6.0" fill="#333" text-anchor="middle" font-weight="normal"  stroke="#333" stroke-width="0.22">0.05%</text>
<text x="242.80" y="458.73" font-size="4.8" fill="#666" text-anchor="end" font-weight="normal"  stroke="#666" stroke-width="0.22">100</text>
<text x="242.80" y="483.03" font-size="4.8" fill="#666" text-anchor="end" font-weight="normal"  stroke="#666" stroke-width="0.22">50</text>
<text x="242.80" y="507.13" font-size="4.8" fill="#666" text-anchor="end" font-weight="normal"  stroke="#666" stroke-width="0.22">0</text>
<text x="321.90" y="453.98" font-size="8.0" fill="#222" text-anchor="middle" font-weight="normal" stroke="#222" stroke-width="0.16">NHS</text>
<rect x="297.70" y="457.00" width="48.40" height="48.40" fill="#fff" stroke="#c8c8c8" stroke-width="0.7" />
<rect x="309.40" y="463.50" width="35.00" height="41.90" fill="none" stroke="#e8bcbc" stroke-width="0.7" />
<ellipse cx="303.90" cy="488.40" rx="4.80" ry="6.00" fill="#7070d0" opacity="0.35" filter="url(#b1)"/>
<path d="M303.6,484.8h0 M307.5,480.6h0 M303.2,491.6h0 M303.2,489.2h0 M305.9,490.4h0 M305.5,489.7h0 M300.9,488.7h0 M301.4,491.5h0 M308.0,488.0h0 M308.2,490.9h0 M303.9,486.9h0 M306.3,485.4h0 M305.1,487.8h0 M301.4,485.6h0 M306.4,485.6h0 M300.5,491.5h0 M301.1,487.9h0 M307.9,488.5h0 M300.8,485.1h0 M306.7,482.4h0 M306.0,488.2h0 M306.8,490.2h0 M303.4,486.1h0 M306.7,490.2h0 M302.2,482.5h0 M307.9,480.6h0 M300.7,490.0h0 M307.9,491.5h0 M306.8,488.7h0 M301.7,490.6h0 M301.7,487.2h0 M303.9,486.0h0 M305.7,488.3h0 M303.0,490.5h0 M305.5,483.7h0 M307.7,490.1h0 M300.4,487.9h0 M305.2,490.1h0 M304.8,488.5h0 M306.8,492.3h0 M303.9,491.9h0 M299.8,485.4h0 M303.3,486.5h0 M304.8,488.0h0 M301.5,491.2h0 M302.7,488.5h0 M302.2,486.6h0 M300.4,491.4h0 M303.5,484.7h0 M305.3,491.5h0 M305.5,490.0h0 M300.1,491.0h0 M302.0,489.5h0 M307.8,490.1h0 M307.3,489.7h0 M304.9,488.5h0 M303.9,489.3h0 M307.8,477.5h0 M301.3,491.8h0 M306.8,489.2h0" stroke="#5a5ac8" stroke-opacity="0.25" stroke-width="0.90" stroke-linecap="round" fill="none"/>
<path d="M307.70,493.40 Q320.70,493.70 333.70,496.90 Q320.70,501.10 307.70,501.40 Z" fill="url(#gRt)" opacity="1.0" filter="url(#b2)"/>
<path d="M308.7,499.0h0 M311.2,499.0h0 M326.9,496.4h0 M312.7,496.6h0 M319.8,497.8h0 M328.5,495.4h0 M330.5,496.9h0 M329.4,496.7h0 M321.7,496.5h0 M317.1,498.7h0 M322.7,496.7h0 M321.9,495.5h0 M323.1,498.6h0 M329.8,495.4h0 M332.0,497.1h0 M309.3,498.5h0 M319.9,494.7h0 M317.1,497.1h0 M324.6,493.3h0 M325.2,498.7h0 M310.5,497.4h0 M331.2,497.9h0 M320.7,496.5h0 M320.4,498.8h0 M325.1,497.6h0 M322.2,496.5h0 M313.5,500.1h0 M319.6,492.7h0 M322.4,499.5h0 M326.8,496.3h0 M331.6,495.5h0 M324.1,496.6h0 M310.9,495.7h0 M320.4,498.6h0 M314.8,494.3h0 M310.6,493.4h0 M311.0,496.7h0 M324.9,497.8h0 M309.2,498.5h0 M313.7,493.6h0 M331.5,500.3h0 M311.4,495.5h0 M311.6,501.1h0 M314.2,496.3h0 M312.9,497.4h0 M315.9,493.6h0 M313.0,500.2h0 M311.7,498.8h0 M327.7,496.0h0 M322.1,497.4h0 M310.8,495.6h0 M325.4,494.8h0 M323.0,497.5h0 M325.3,496.8h0 M330.2,498.8h0 M319.2,496.5h0 M312.9,499.6h0 M325.8,500.4h0 M320.2,498.0h0 M314.9,498.4h0 M312.5,496.6h0 M309.5,494.2h0 M323.2,496.2h0 M316.3,497.4h0 M313.9,496.3h0 M322.3,499.6h0 M323.6,496.6h0 M325.9,493.7h0 M325.0,499.7h0 M314.6,494.6h0" stroke="#e03030" stroke-opacity="0.3" stroke-width="0.90" stroke-linecap="round" fill="none"/>
<g filter="url(#b2)" fill="#2b2490"><ellipse cx="304.30" cy="496.45" rx="4.77" ry="5.75"/><rect x="299.00" y="496.45" width="10.60" height="5.75" rx="2.50"/></g>
<text x="330.70" y="483.36" font-size="6.0" fill="#333" text-anchor="middle" font-weight="normal"  stroke="#333" stroke-width="0.22">10.36%</text>
<text x="269.60" y="518.58" font-size="8.0" fill="#222" text-anchor="middle" font-weight="normal" stroke="#222" stroke-width="0.16">Eculizumab</text>
<rect x="245.40" y="521.60" width="48.40" height="48.50" fill="#fff" stroke="#c8c8c8" stroke-width="0.7" />
<rect x="257.10" y="528.10" width="35.00" height="42.00" fill="none" stroke="#e8bcbc" stroke-width="0.7" />
<ellipse cx="251.60" cy="553.10" rx="4.80" ry="6.00" fill="#7070d0" opacity="0.35" filter="url(#b1)"/>
<path d="M250.4,551.4h0 M249.0,552.8h0 M251.8,552.7h0 M253.1,554.9h0 M250.3,555.5h0 M248.0,552.1h0 M254.6,554.0h0 M253.1,552.6h0 M252.3,554.7h0 M249.7,552.2h0 M254.5,549.8h0 M248.7,553.1h0 M251.7,549.7h0 M255.0,550.5h0 M254.4,552.2h0 M252.9,555.2h0 M253.4,555.3h0 M253.4,554.0h0 M248.0,554.5h0 M252.5,555.3h0 M249.2,553.5h0 M249.3,550.9h0 M255.7,552.9h0 M254.2,552.2h0 M248.0,551.1h0 M254.5,556.9h0 M252.7,556.7h0 M248.6,556.8h0 M251.2,555.4h0 M252.1,556.6h0 M254.4,555.8h0 M248.3,556.0h0 M250.3,550.1h0 M250.2,553.9h0 M254.1,555.6h0 M249.2,552.3h0 M252.0,549.4h0 M247.7,556.9h0 M251.7,555.9h0 M251.0,550.6h0 M253.6,554.4h0 M252.4,552.3h0 M252.4,553.6h0 M249.3,546.0h0 M254.2,544.9h0 M255.6,550.1h0 M248.0,544.2h0 M251.5,553.4h0 M253.2,553.0h0 M253.4,552.7h0 M249.0,555.8h0 M250.8,556.4h0 M253.7,553.9h0 M251.8,554.0h0 M253.4,555.9h0 M249.1,556.5h0 M253.4,550.7h0 M255.7,556.9h0 M255.2,544.9h0 M253.5,556.8h0" stroke="#5a5ac8" stroke-opacity="0.25" stroke-width="0.90" stroke-linecap="round" fill="none"/>
<path d="M255.40,558.10 Q268.40,558.40 281.40,561.60 Q268.40,565.80 255.40,566.10 Z" fill="url(#gRt)" opacity="1.0" filter="url(#b2)"/>
<path d="M259.5,561.2h0 M256.5,563.7h0 M269.6,559.6h0 M260.6,561.1h0 M269.6,562.6h0 M280.1,561.6h0 M258.9,562.3h0 M262.7,564.4h0 M265.0,559.9h0 M257.6,562.6h0 M273.7,562.4h0 M265.4,565.8h0 M274.2,561.6h0 M265.5,562.2h0 M257.7,561.0h0 M267.8,560.6h0 M260.4,561.7h0 M256.6,564.2h0 M278.7,560.3h0 M279.8,559.1h0 M263.3,562.9h0 M274.7,562.3h0 M256.5,561.0h0 M259.6,560.3h0 M256.5,560.9h0 M275.2,562.3h0 M256.8,559.8h0 M277.0,561.1h0 M261.9,561.7h0 M269.4,563.4h0 M269.8,560.4h0 M259.5,562.0h0 M263.3,565.7h0 M257.7,561.0h0 M259.4,561.3h0 M265.1,559.6h0 M271.7,560.5h0 M264.6,564.4h0 M256.9,563.0h0 M265.4,559.6h0 M271.9,563.4h0 M260.1,560.2h0 M265.4,559.6h0 M258.3,563.8h0 M257.1,560.5h0 M260.1,563.1h0 M263.5,561.7h0 M274.0,562.9h0 M272.7,559.5h0 M256.7,565.9h0 M274.4,564.5h0 M256.7,563.1h0 M278.3,562.2h0 M259.7,559.8h0 M269.8,558.1h0 M277.9,561.7h0 M256.5,562.8h0 M273.1,565.6h0 M271.8,564.7h0 M259.1,562.2h0 M266.5,560.8h0 M257.7,562.7h0 M277.8,558.1h0 M256.4,563.2h0 M275.0,560.0h0 M266.2,560.0h0 M274.3,560.1h0 M257.3,563.9h0 M261.2,562.6h0 M263.6,564.8h0" stroke="#e03030" stroke-opacity="0.3" stroke-width="0.90" stroke-linecap="round" fill="none"/>
<g filter="url(#b2)" fill="#2b2490"><ellipse cx="252.00" cy="561.15" rx="4.77" ry="5.75"/><rect x="246.70" y="561.15" width="10.60" height="5.75" rx="2.50"/></g>
<text x="278.40" y="547.96" font-size="6.0" fill="#333" text-anchor="middle" font-weight="normal"  stroke="#333" stroke-width="0.22">9.23%</text>
<text x="242.80" y="523.33" font-size="4.8" fill="#666" text-anchor="end" font-weight="normal"  stroke="#666" stroke-width="0.22">100</text>
<text x="242.80" y="547.63" font-size="4.8" fill="#666" text-anchor="end" font-weight="normal"  stroke="#666" stroke-width="0.22">50</text>
<text x="242.80" y="571.83" font-size="4.8" fill="#666" text-anchor="end" font-weight="normal"  stroke="#666" stroke-width="0.22">0</text>
<text x="250.00" y="577.50" font-size="4.8" fill="#666" text-anchor="middle" font-weight="normal"  stroke="#666" stroke-width="0.22">0</text>
<text x="256.00" y="577.46" font-size="4.6" fill="#666" text-anchor="start" stroke="#666" stroke-width="0.22">10<tspan dy="-1.8" font-size="3.22">4</tspan></text>
<text x="267.50" y="577.46" font-size="4.6" fill="#666" text-anchor="start" stroke="#666" stroke-width="0.22">10<tspan dy="-1.8" font-size="3.22">5</tspan></text>
<text x="278.50" y="577.46" font-size="4.6" fill="#666" text-anchor="start" stroke="#666" stroke-width="0.22">10<tspan dy="-1.8" font-size="3.22">6</tspan></text>
<text x="289.00" y="577.46" font-size="4.6" fill="#666" text-anchor="start" stroke="#666" stroke-width="0.22">10<tspan dy="-1.8" font-size="3.22">7</tspan></text>
<text x="321.20" y="518.58" font-size="8.0" fill="#222" text-anchor="middle" font-weight="normal" stroke="#222" stroke-width="0.16">Iptacopan</text>
<rect x="297.00" y="521.60" width="48.40" height="48.50" fill="#fff" stroke="#c8c8c8" stroke-width="0.7" />
<rect x="308.70" y="528.10" width="35.00" height="42.00" fill="none" stroke="#e8bcbc" stroke-width="0.7" />
<ellipse cx="303.20" cy="553.10" rx="4.80" ry="6.00" fill="#7070d0" opacity="0.35" filter="url(#b1)"/>
<path d="M299.2,556.7h0 M306.1,555.0h0 M300.0,552.0h0 M304.5,555.7h0 M299.9,552.0h0 M307.3,552.6h0 M299.8,555.8h0 M305.2,551.4h0 M299.9,549.2h0 M302.1,554.3h0 M300.3,549.1h0 M304.2,548.6h0 M299.1,556.0h0 M299.6,551.3h0 M304.1,552.1h0 M303.4,552.2h0 M304.2,555.7h0 M304.5,550.1h0 M305.8,553.0h0 M306.8,553.0h0 M299.3,550.3h0 M304.8,554.0h0 M306.5,552.8h0 M300.5,552.0h0 M305.0,555.2h0 M301.1,555.7h0 M301.8,552.7h0 M299.8,543.9h0 M304.6,552.2h0 M306.9,556.4h0 M307.5,547.6h0 M305.4,556.5h0 M302.5,553.4h0 M299.2,555.8h0 M306.8,546.7h0 M301.8,556.0h0 M306.6,548.5h0 M305.8,554.8h0 M306.0,556.6h0 M301.7,553.8h0 M303.6,553.7h0 M307.2,553.8h0 M304.5,551.9h0 M303.6,552.4h0 M306.8,555.2h0 M304.9,555.0h0 M300.8,556.7h0 M301.4,556.4h0 M301.2,556.6h0 M305.1,554.0h0 M302.7,556.9h0 M304.8,554.1h0 M305.4,549.4h0 M301.1,557.0h0 M304.9,555.9h0 M300.8,556.3h0 M304.5,544.2h0 M304.0,553.3h0 M304.9,551.5h0 M301.6,555.4h0" stroke="#5a5ac8" stroke-opacity="0.25" stroke-width="0.90" stroke-linecap="round" fill="none"/>
<g filter="url(#b2)" fill="#2b2490"><ellipse cx="303.60" cy="561.15" rx="4.77" ry="5.75"/><rect x="298.30" y="561.15" width="10.60" height="5.75" rx="2.50"/></g>
<text x="330.00" y="547.96" font-size="6.0" fill="#333" text-anchor="middle" font-weight="normal"  stroke="#333" stroke-width="0.22">0.09%</text>
<text x="301.60" y="577.50" font-size="4.8" fill="#666" text-anchor="middle" font-weight="normal"  stroke="#666" stroke-width="0.22">0</text>
<text x="307.60" y="577.46" font-size="4.6" fill="#666" text-anchor="start" stroke="#666" stroke-width="0.22">10<tspan dy="-1.8" font-size="3.22">4</tspan></text>
<text x="319.10" y="577.46" font-size="4.6" fill="#666" text-anchor="start" stroke="#666" stroke-width="0.22">10<tspan dy="-1.8" font-size="3.22">5</tspan></text>
<text x="330.10" y="577.46" font-size="4.6" fill="#666" text-anchor="start" stroke="#666" stroke-width="0.22">10<tspan dy="-1.8" font-size="3.22">6</tspan></text>
<text x="340.60" y="577.46" font-size="4.6" fill="#666" text-anchor="start" stroke="#666" stroke-width="0.22">10<tspan dy="-1.8" font-size="3.22">7</tspan></text>
<text x="357.40" y="441.20" font-size="11" font-weight="bold" fill="#111" stroke="#111" stroke-width="0.45">J</text>
<line x1="382.60" y1="464.50" x2="382.60" y2="531.90" stroke="#222" stroke-width="0.9"/>
<line x1="382.60" y1="531.90" x2="452.60" y2="531.90" stroke="#222" stroke-width="0.9"/>
<line x1="380.60" y1="531.90" x2="382.60" y2="531.90" stroke="#222" stroke-width="0.8"/>
<text x="378.00" y="533.99" font-size="5.8" fill="#333" text-anchor="end" font-weight="normal"  stroke="#333" stroke-width="0.22">0</text>
<line x1="380.60" y1="522.68" x2="382.60" y2="522.68" stroke="#222" stroke-width="0.8"/>
<text x="378.00" y="524.77" font-size="5.8" fill="#333" text-anchor="end" font-weight="normal"  stroke="#333" stroke-width="0.22">2</text>
<line x1="380.60" y1="513.46" x2="382.60" y2="513.46" stroke="#222" stroke-width="0.8"/>
<text x="378.00" y="515.55" font-size="5.8" fill="#333" text-anchor="end" font-weight="normal"  stroke="#333" stroke-width="0.22">4</text>
<line x1="380.60" y1="504.24" x2="382.60" y2="504.24" stroke="#222" stroke-width="0.8"/>
<text x="378.00" y="506.33" font-size="5.8" fill="#333" text-anchor="end" font-weight="normal"  stroke="#333" stroke-width="0.22">6</text>
<line x1="380.60" y1="495.02" x2="382.60" y2="495.02" stroke="#222" stroke-width="0.8"/>
<text x="378.00" y="497.11" font-size="5.8" fill="#333" text-anchor="end" font-weight="normal"  stroke="#333" stroke-width="0.22">8</text>
<line x1="380.60" y1="485.80" x2="382.60" y2="485.80" stroke="#222" stroke-width="0.8"/>
<text x="378.00" y="487.89" font-size="5.8" fill="#333" text-anchor="end" font-weight="normal"  stroke="#333" stroke-width="0.22">10</text>
<line x1="380.60" y1="476.58" x2="382.60" y2="476.58" stroke="#222" stroke-width="0.8"/>
<text x="378.00" y="478.67" font-size="5.8" fill="#333" text-anchor="end" font-weight="normal"  stroke="#333" stroke-width="0.22">12</text>
<line x1="380.60" y1="467.36" x2="382.60" y2="467.36" stroke="#222" stroke-width="0.8"/>
<text x="378.00" y="469.45" font-size="5.8" fill="#333" text-anchor="end" font-weight="normal"  stroke="#333" stroke-width="0.22">14</text>
<text transform="translate(364.80,501.50) rotate(-90)" x="0" y="2.45" font-size="6.8" fill="#222" text-anchor="middle" font-weight="bold" textLength="83.5" lengthAdjust="spacingAndGlyphs">C3b deposition(% of total RBC)</text>
<line x1="393.50" y1="531.90" x2="393.50" y2="533.70" stroke="#222" stroke-width="0.7"/>
<line x1="409.50" y1="487.41" x2="409.50" y2="491.79" stroke="#c8102e" stroke-width="0.9"/>
<line x1="407.50" y1="487.41" x2="411.50" y2="487.41" stroke="#c8102e" stroke-width="0.9"/>
<rect x="404.40" y="491.79" width="10.20" height="40.11" fill="#c8102e" stroke="none" stroke-width="1" />
<line x1="409.50" y1="531.90" x2="409.50" y2="533.70" stroke="#222" stroke-width="0.7"/>
<line x1="425.80" y1="483.96" x2="425.80" y2="489.49" stroke="#1c4f8a" stroke-width="0.9"/>
<line x1="423.80" y1="483.96" x2="427.80" y2="483.96" stroke="#1c4f8a" stroke-width="0.9"/>
<rect x="420.70" y="489.49" width="10.20" height="42.41" fill="#1c4f8a" stroke="none" stroke-width="1" />
<line x1="425.80" y1="531.90" x2="425.80" y2="533.70" stroke="#222" stroke-width="0.7"/>
<line x1="441.30" y1="530.52" x2="441.30" y2="530.75" stroke="#3ca7df" stroke-width="0.9"/>
<line x1="439.30" y1="530.52" x2="443.30" y2="530.52" stroke="#3ca7df" stroke-width="0.9"/>
<rect x="436.20" y="530.75" width="10.20" height="1.15" fill="#3ca7df" stroke="none" stroke-width="1" />
<line x1="441.30" y1="531.90" x2="441.30" y2="533.70" stroke="#222" stroke-width="0.7"/>
<line x1="393.50" y1="465.90" x2="441.30" y2="465.90" stroke="#555" stroke-width="0.75"/>
<line x1="393.50" y1="464.40" x2="393.50" y2="467.40" stroke="#555" stroke-width="0.75"/>
<line x1="441.30" y1="464.40" x2="441.30" y2="467.40" stroke="#555" stroke-width="0.75"/>
<text x="417.40" y="464.50" font-size="6" fill="#333" text-anchor="middle" stroke="#333" stroke-width="0.22">ns</text>
<line x1="409.70" y1="471.70" x2="441.30" y2="471.70" stroke="#555" stroke-width="0.75"/>
<line x1="409.70" y1="470.20" x2="409.70" y2="473.20" stroke="#555" stroke-width="0.75"/>
<line x1="441.30" y1="470.20" x2="441.30" y2="473.20" stroke="#555" stroke-width="0.75"/>
<text x="425.50" y="473.00" font-size="6.0" fill="#222" text-anchor="middle" font-weight="bold">****</text>
<line x1="409.70" y1="477.60" x2="425.80" y2="477.60" stroke="#555" stroke-width="0.75"/>
<line x1="409.70" y1="476.10" x2="409.70" y2="479.10" stroke="#555" stroke-width="0.75"/>
<line x1="425.80" y1="476.10" x2="425.80" y2="479.10" stroke="#555" stroke-width="0.75"/>
<text x="417.75" y="476.20" font-size="6" fill="#333" text-anchor="middle" stroke="#333" stroke-width="0.22">ns</text>
<line x1="393.50" y1="483.30" x2="409.70" y2="483.30" stroke="#555" stroke-width="0.75"/>
<line x1="393.50" y1="481.80" x2="393.50" y2="484.80" stroke="#555" stroke-width="0.75"/>
<line x1="409.70" y1="481.80" x2="409.70" y2="484.80" stroke="#555" stroke-width="0.75"/>
<text x="401.60" y="484.60" font-size="6.0" fill="#222" text-anchor="middle" font-weight="bold">****</text>
<text transform="translate(396.10,539.60) rotate(-45)" x="0" y="0" font-size="6.0" fill="#222" text-anchor="end" stroke="#222" stroke-width="0.22">iNHS</text>
<text transform="translate(412.10,539.60) rotate(-45)" x="0" y="0" font-size="6.0" fill="#222" text-anchor="end" stroke="#222" stroke-width="0.22">NHS</text>
<text transform="translate(428.40,539.60) rotate(-45)" x="0" y="0" font-size="6.0" fill="#222" text-anchor="end" stroke="#222" stroke-width="0.22">Eculizumab</text>
<text transform="translate(443.90,539.60) rotate(-45)" x="0" y="0" font-size="6.0" fill="#222" text-anchor="end" stroke="#222" stroke-width="0.22">Iptacopan</text></g><rect x="0.5" y="0.5" width="519" height="600" fill="none" stroke="#666" stroke-width="1"/></svg>
</body></html>
